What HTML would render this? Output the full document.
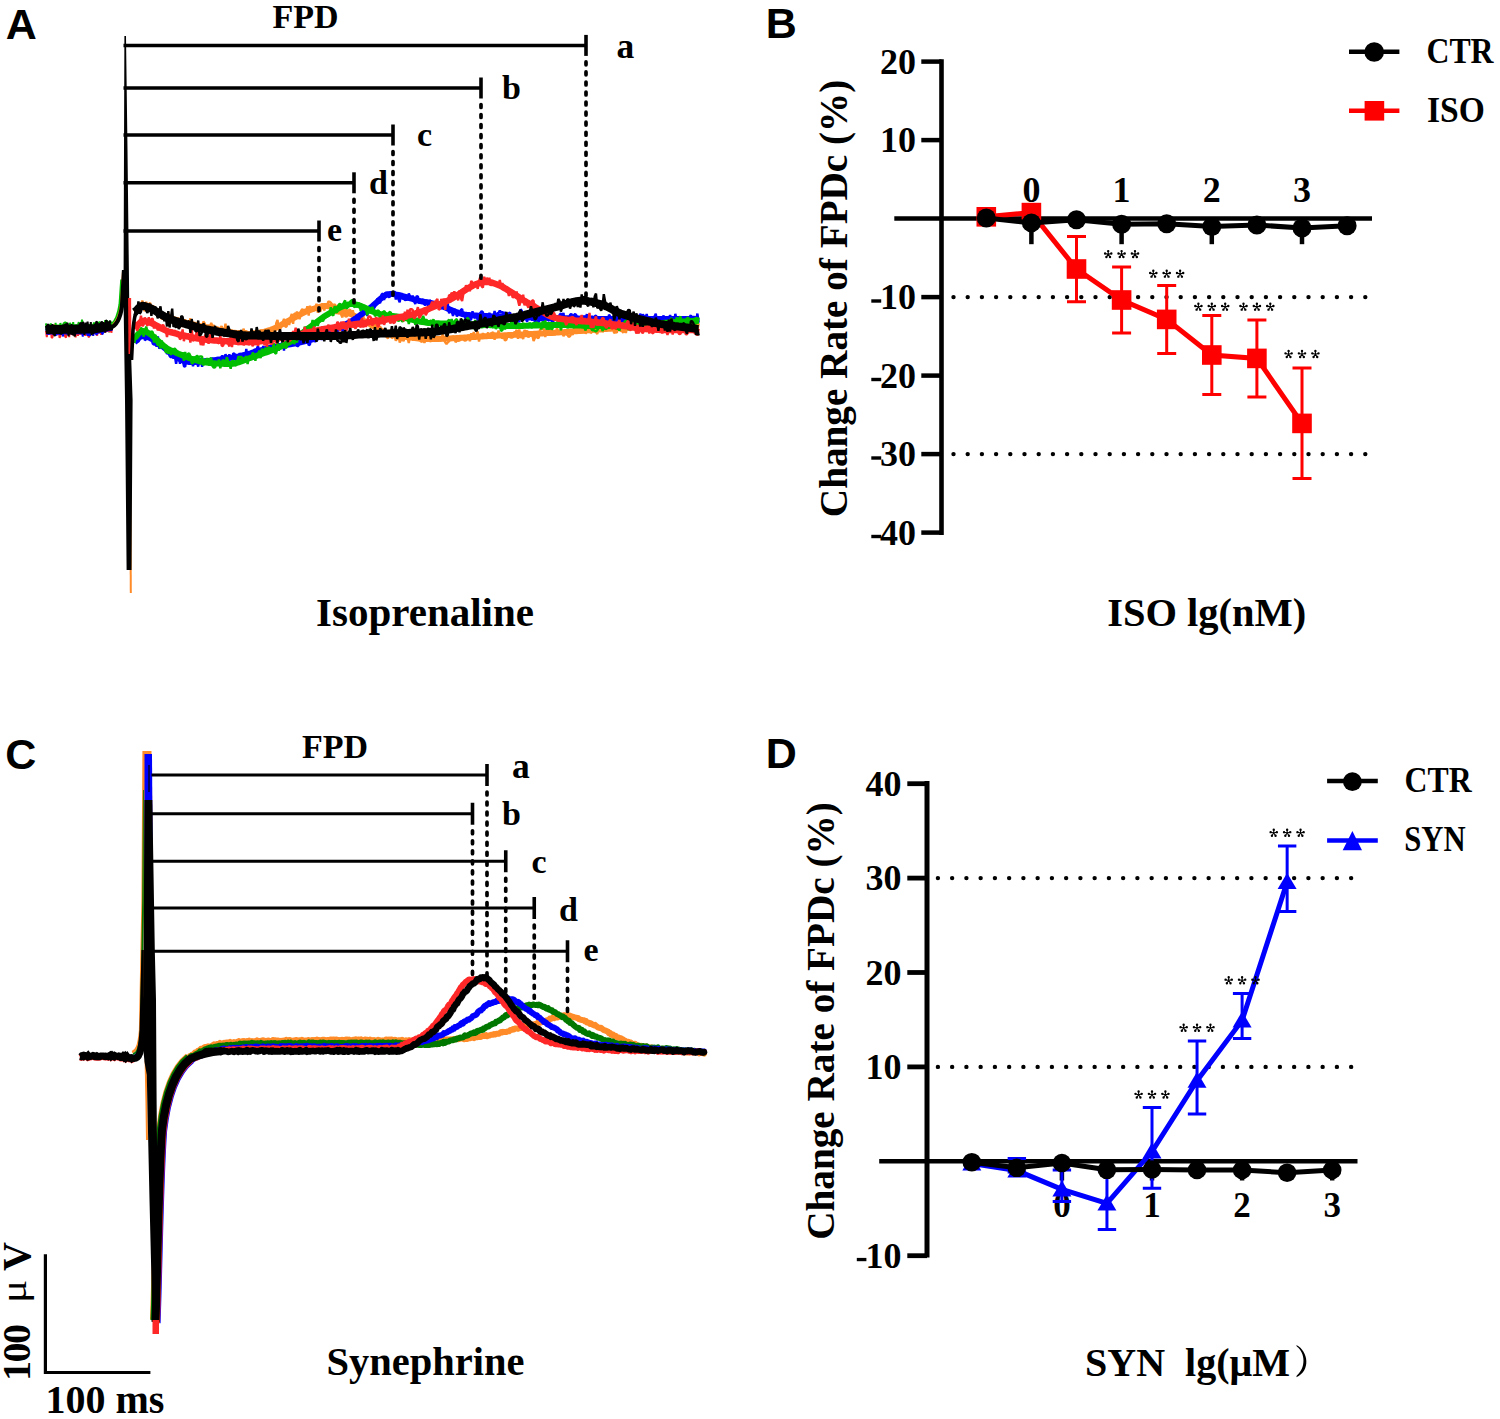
<!DOCTYPE html>
<html><head><meta charset="utf-8"><style>
html,body{margin:0;padding:0;background:#fff;width:1500px;height:1419px;overflow:hidden}
svg{position:absolute;left:0;top:0;display:block}
</style></head><body>
<svg width="1500" height="1419" viewBox="0 0 1500 1419">
<rect width="1500" height="1419" fill="#fff"/>
<text x="5.7" y="39.3" font-family="'Liberation Sans', sans-serif" font-size="43" font-weight="bold" text-anchor="start" >A</text>
<text x="305.5" y="27.5" font-family="'Liberation Serif', serif" font-size="34" font-weight="bold" text-anchor="middle" >FPD</text>
<path d="M134.5,312.0 L136.5,310.5 L138.5,308.2 L140.5,306.5 L142.5,306.0 L144.5,306.2 L146.5,306.6 L148.5,307.3 L150.5,308.1 L152.5,309.0 L154.5,310.0 L156.5,311.2 L158.5,312.3 L160.5,313.5 L162.5,314.6 L164.5,315.7 L166.5,316.6 L168.5,317.5 L170.5,318.2 L172.5,318.8 L174.5,319.4 L176.5,320.0 L178.5,320.6 L180.5,321.2 L182.5,321.7 L184.5,322.3 L186.5,322.8 L188.5,323.3 L190.5,323.8 L192.5,324.3 L194.5,324.7 L196.5,325.2 L198.5,325.7 L200.5,326.1 L202.5,326.5 L204.5,326.9 L206.5,327.3 L208.5,327.7 L210.5,328.1 L212.5,328.5 L214.5,328.9 L216.5,329.3 L218.5,329.7 L220.5,330.1 L222.5,330.5 L224.5,330.9 L226.5,331.3 L228.5,331.7 L230.5,332.0 L232.5,332.4 L234.5,332.7 L236.5,333.0 L238.5,333.2 L240.5,333.5 L242.5,333.7 L244.5,333.8 L246.5,333.9 L248.5,334.0 L250.5,334.0 L252.5,333.9 L254.5,333.7 L256.5,333.4 L258.5,333.0 L260.5,332.6 L262.5,332.1 L264.5,331.6 L266.5,331.0 L268.5,330.4 L270.5,329.9 L272.5,329.2 L274.5,328.3 L276.5,327.4 L278.5,326.4 L280.5,325.3 L282.5,324.1 L284.5,323.0 L286.5,321.9 L288.5,320.8 L290.5,319.7 L292.5,318.7 L294.5,317.6 L296.5,316.5 L298.5,315.4 L300.5,314.3 L302.5,313.2 L304.5,312.3 L306.5,311.3 L308.5,310.5 L310.5,309.8 L312.5,309.2 L314.5,308.5 L316.5,307.8 L318.5,307.2 L320.5,306.7 L322.5,306.3 L324.5,306.1 L326.5,306.0 L328.5,306.2 L330.5,306.5 L332.5,307.0 L334.5,307.6 L336.5,308.2 L338.5,309.0 L340.5,309.8 L342.5,310.6 L344.5,311.4 L346.5,312.2 L348.5,313.0 L350.5,313.9 L352.5,314.9 L354.5,315.9 L356.5,317.0 L358.5,318.0 L360.5,319.1 L362.5,320.2 L364.5,321.2 L366.5,322.3 L368.5,323.3 L370.5,324.4 L372.5,325.6 L374.5,326.8 L376.5,328.0 L378.5,329.2 L380.5,330.3 L382.5,331.3 L384.5,332.2 L386.5,333.0 L388.5,333.6 L390.5,334.1 L392.5,334.5 L394.5,334.9 L396.5,335.3 L398.5,335.7 L400.5,336.1 L402.5,336.4 L404.5,336.7 L406.5,337.0 L408.5,337.3 L410.5,337.6 L412.5,337.9 L414.5,338.1 L416.5,338.3 L418.5,338.5 L420.5,338.7 L422.5,338.8 L424.5,338.9 L426.5,339.0 L428.5,339.0 L430.5,339.0 L432.5,339.0 L434.5,339.0 L436.5,338.9 L438.5,338.9 L440.5,338.8 L442.5,338.8 L444.5,338.7 L446.5,338.6 L448.5,338.5 L450.5,338.4 L452.5,338.3 L454.5,338.2 L456.5,338.1 L458.5,338.0 L460.5,337.8 L462.5,337.7 L464.5,337.6 L466.5,337.5 L468.5,337.3 L470.5,337.2 L472.5,337.1 L474.5,336.9 L476.5,336.8 L478.5,336.7 L480.5,336.5 L482.5,336.4 L484.5,336.3 L486.5,336.2 L488.5,336.1 L490.5,336.0 L492.5,335.9 L494.5,335.8 L496.5,335.7 L498.5,335.6 L500.5,335.5 L502.5,335.4 L504.5,335.3 L506.5,335.2 L508.5,335.1 L510.5,335.0 L512.5,334.9 L514.5,334.8 L516.5,334.7 L518.5,334.6 L520.5,334.5 L522.5,334.4 L524.5,334.3 L526.5,334.2 L528.5,334.1 L530.5,334.0 L532.5,333.9 L534.5,333.8 L536.5,333.7 L538.5,333.6 L540.5,333.5 L542.5,333.4 L544.5,333.3 L546.5,333.1 L548.5,333.0 L550.5,332.9 L552.5,332.8 L554.5,332.7 L556.5,332.6 L558.5,332.4 L560.5,332.3 L562.5,332.2 L564.5,332.1 L566.5,331.9 L568.5,331.8 L570.5,331.6 L572.5,331.5 L574.5,331.3 L576.5,331.2 L578.5,331.0 L580.5,330.9 L582.5,330.7 L584.5,330.6 L586.5,330.4 L588.5,330.3 L590.5,330.1 L592.5,330.0 L594.5,329.8 L596.5,329.7 L598.5,329.5 L600.5,329.4 L602.5,329.2 L604.5,329.1 L606.5,328.9 L608.5,328.8 L610.5,328.7 L612.5,328.5 L614.5,328.4 L616.5,328.3 L618.5,328.2 L620.5,328.1 L622.5,328.0 L624.5,327.9 L626.5,327.8 L628.5,327.7 L630.5,327.6 L632.5,327.5 L634.5,327.4 L636.5,327.3 L638.5,327.2 L640.5,327.2 L642.5,327.1 L644.5,327.0 L646.5,326.9 L648.5,326.8 L650.5,326.8 L652.5,326.7 L654.5,326.6 L656.5,326.5 L658.5,326.5 L660.5,326.4 L662.5,326.3 L664.5,326.2 L666.5,326.2 L668.5,326.1 L670.5,326.0 L672.5,326.0 L674.5,325.9 L676.5,325.8 L678.5,325.8 L680.5,325.7 L682.5,325.6 L684.5,325.5 L686.5,325.5 L688.5,325.4 L690.5,325.3 L692.5,325.2 L694.5,325.2 L696.5,325.1 L698.5,325.0" fill="none" stroke="#FF8C28" stroke-width="6.0" stroke-linejoin="round"/>
<path d="M134.5,308.0 L135.8,314.1 L137.1,309.8 L138.4,310.0 L139.7,304.6 L141.0,305.5 L142.3,300.5 L143.6,308.5 L144.9,311.2 L146.2,301.6 L147.5,311.8 L148.8,304.3 L150.1,302.7 L151.4,307.8 L152.7,306.2 L154.0,306.7 L155.3,310.2 L156.6,311.8 L157.9,308.5 L159.2,315.7 L160.5,315.9 L161.8,319.0 L163.1,318.5 L164.4,313.4 L165.7,320.5 L167.0,316.9 L168.3,312.3 L169.6,321.1 L170.9,314.7 L172.2,320.9 L173.5,317.7 L174.8,319.6 L176.1,320.1 L177.4,317.4 L178.7,322.9 L180.0,322.0 L181.3,317.8 L182.6,327.0 L183.9,322.5 L185.2,319.5 L186.5,327.8 L187.8,322.7 L189.1,324.0 L190.4,318.3 L191.7,327.6 L193.0,327.0 L194.3,324.9 L195.6,326.4 L196.9,326.1 L198.2,325.6 L199.5,324.3 L200.8,326.6 L202.1,327.7 L203.4,321.5 L204.7,323.4 L206.0,331.2 L207.3,330.8 L208.6,325.0 L209.9,327.0 L211.2,322.9 L212.5,326.5 L213.8,325.0 L215.1,329.3 L216.4,326.8 L217.7,329.0 L219.0,328.8 L220.3,329.2 L221.6,326.0 L222.9,330.7 L224.2,332.0 L225.5,323.7 L226.8,333.8 L228.1,333.8 L229.4,332.3 L230.7,337.3 L232.0,332.5 L233.3,334.1 L234.6,333.5 L235.9,333.1 L237.2,338.2 L238.5,331.1 L239.8,331.3 L241.1,336.2 L242.4,333.2 L243.7,328.7 L245.0,338.9 L246.3,330.3 L247.6,339.2 L248.9,334.1 L250.2,332.3 L251.5,335.9 L252.8,331.5 L254.1,331.5 L255.4,331.7 L256.7,336.0 L258.0,331.2 L259.3,336.0 L260.6,329.4 L261.9,336.0 L263.2,330.2 L264.5,333.6 L265.8,336.5 L267.1,331.3 L268.4,335.0 L269.7,332.9 L271.0,333.4 L272.3,327.5 L273.6,332.8 L274.9,333.1 L276.2,323.5 L277.5,320.0 L278.8,330.2 L280.1,329.1 L281.4,326.0 L282.7,322.7 L284.0,318.8 L285.3,326.8 L286.6,326.5 L287.9,318.6 L289.2,325.0 L290.5,317.6 L291.8,314.0 L293.1,323.8 L294.4,313.4 L295.7,314.1 L297.0,311.9 L298.3,314.2 L299.6,319.3 L300.9,311.4 L302.2,309.0 L303.5,310.6 L304.8,309.9 L306.1,311.0 L307.4,306.2 L308.7,315.6 L310.0,305.7 L311.3,310.9 L312.6,309.6 L313.9,310.4 L315.2,308.7 L316.5,303.7 L317.8,312.7 L319.1,308.7 L320.4,311.6 L321.7,304.3 L323.0,304.2 L324.3,310.4 L325.6,304.2 L326.9,306.9 L328.2,301.8 L329.5,301.6 L330.8,302.6 L332.1,304.5 L333.4,307.1 L334.7,303.8 L336.0,314.0 L337.3,304.9 L338.6,314.4 L339.9,307.7 L341.2,314.7 L342.5,317.4 L343.8,306.0 L345.1,316.1 L346.4,316.6 L347.7,315.4 L349.0,309.7 L350.3,310.1 L351.6,316.3 L352.9,310.3 L354.2,319.1 L355.5,316.9 L356.8,316.6 L358.1,316.0 L359.4,313.3 L360.7,318.3 L362.0,315.1 L363.3,315.2 L364.6,324.9 L365.9,320.9 L367.2,319.9 L368.5,323.3 L369.8,323.4 L371.1,327.3 L372.4,325.5 L373.7,323.3 L375.0,327.8 L376.3,332.5 L377.6,327.7 L378.9,329.5 L380.2,326.3 L381.5,335.0 L382.8,333.5 L384.1,330.6 L385.4,335.2 L386.7,337.0 L388.0,338.5 L389.3,330.3 L390.6,331.0 L391.9,338.3 L393.2,337.0 L394.5,335.1 L395.8,340.6 L397.1,338.8 L398.4,333.1 L399.7,342.6 L401.0,339.9 L402.3,338.6 L403.6,341.3 L404.9,335.5 L406.2,336.3 L407.5,337.7 L408.8,343.0 L410.1,335.3 L411.4,335.0 L412.7,332.4 L414.0,338.1 L415.3,339.4 L416.6,335.1 L417.9,338.9 L419.2,339.5 L420.5,340.7 L421.8,342.1 L423.1,339.3 L424.4,342.8 L425.7,339.7 L427.0,338.4 L428.3,334.8 L429.6,339.5 L430.9,341.9 L432.2,335.0 L433.5,339.8 L434.8,339.0 L436.1,338.9 L437.4,338.4 L438.7,337.8 L440.0,340.9 L441.3,340.4 L442.6,334.2 L443.9,339.8 L445.2,342.3 L446.5,344.0 L447.8,342.2 L449.1,341.2 L450.4,336.3 L451.7,339.7 L453.0,336.1 L454.3,337.4 L455.6,342.1 L456.9,340.6 L458.2,340.7 L459.5,340.6 L460.8,339.5 L462.1,336.7 L463.4,339.1 L464.7,340.7 L466.0,340.4 L467.3,338.6 L468.6,334.7 L469.9,341.3 L471.2,333.3 L472.5,336.9 L473.8,332.0 L475.1,339.6 L476.4,335.2 L477.7,331.4 L479.0,341.5 L480.3,335.5 L481.6,337.6 L482.9,333.2 L484.2,335.8 L485.5,336.5 L486.8,336.3 L488.1,332.5 L489.4,338.4 L490.7,333.4 L492.0,333.0 L493.3,332.2 L494.6,339.8 L495.9,332.6 L497.2,337.9 L498.5,330.4 L499.8,336.9 L501.1,334.7 L502.4,338.5 L503.7,336.7 L505.0,340.5 L506.3,339.7 L507.6,336.3 L508.9,333.2 L510.2,337.4 L511.5,337.7 L512.8,337.3 L514.1,332.1 L515.4,332.8 L516.7,329.8 L518.0,338.9 L519.3,329.4 L520.6,338.0 L521.9,335.7 L523.2,339.2 L524.5,329.8 L525.8,334.2 L527.1,330.5 L528.4,337.6 L529.7,334.9 L531.0,336.3 L532.3,334.9 L533.6,341.1 L534.9,337.7 L536.2,332.4 L537.5,338.2 L538.8,337.7 L540.1,329.7 L541.4,329.1 L542.7,328.5 L544.0,329.2 L545.3,337.0 L546.6,330.1 L547.9,328.0 L549.2,326.0 L550.5,334.4 L551.8,334.9 L553.1,334.6 L554.4,334.1 L555.7,334.2 L557.0,327.7 L558.3,333.5 L559.6,333.5 L560.9,331.7 L562.2,331.3 L563.5,336.3 L564.8,333.8 L566.1,334.6 L567.4,334.6 L568.7,337.0 L570.0,336.3 L571.3,333.0 L572.6,334.9 L573.9,330.0 L575.2,326.2 L576.5,329.9 L577.8,333.4 L579.1,325.8 L580.4,326.4 L581.7,325.5 L583.0,333.2 L584.3,326.5 L585.6,333.9 L586.9,328.2 L588.2,327.5 L589.5,328.3 L590.8,333.2 L592.1,331.8 L593.4,329.3 L594.7,332.2 L596.0,331.9 L597.3,334.0 L598.6,327.2 L599.9,328.0 L601.2,324.9 L602.5,331.9 L603.8,330.8 L605.1,326.8 L606.4,327.0 L607.7,328.9 L609.0,324.9 L610.3,326.8 L611.6,323.9 L612.9,328.3 L614.2,333.1 L615.5,331.8 L616.8,332.9 L618.1,324.2 L619.4,329.0 L620.7,331.2 L622.0,330.7 L623.3,332.8 L624.6,326.8 L625.9,333.1 L627.2,325.2 L628.5,328.4 L629.8,324.2 L631.1,327.7 L632.4,328.0 L633.7,323.1 L635.0,328.8 L636.3,324.8 L637.6,328.9 L638.9,330.4 L640.2,331.0 L641.5,324.7 L642.8,328.1 L644.1,331.3 L645.4,328.9 L646.7,331.8 L648.0,329.3 L649.3,332.3 L650.6,323.5 L651.9,329.7 L653.2,326.5 L654.5,330.8 L655.8,329.6 L657.1,326.1 L658.4,324.3 L659.7,319.8 L661.0,330.6 L662.3,331.5 L663.6,327.1 L664.9,326.5 L666.2,329.7 L667.5,325.1 L668.8,324.0 L670.1,326.1 L671.4,326.6 L672.7,322.3 L674.0,331.4 L675.3,326.6 L676.6,324.7 L677.9,330.1 L679.2,330.1 L680.5,329.5 L681.8,325.2 L683.1,324.2 L684.4,325.3 L685.7,324.1 L687.0,322.5 L688.3,322.8 L689.6,326.3 L690.9,330.8 L692.2,325.4 L693.5,327.3 L694.8,328.2 L696.1,327.5 L697.4,330.2 L698.7,323.3" fill="none" stroke="#FF8C28" stroke-width="2.4" stroke-linejoin="bevel"/>
<path d="M134.5,342.0 L136.5,340.5 L138.5,338.2 L140.5,336.5 L142.5,336.0 L144.5,336.2 L146.5,336.6 L148.5,337.3 L150.5,338.2 L152.5,339.2 L154.5,340.4 L156.5,341.7 L158.5,343.1 L160.5,344.6 L162.5,346.2 L164.5,347.8 L166.5,349.4 L168.5,351.0 L170.5,352.6 L172.5,354.2 L174.5,355.6 L176.5,357.0 L178.5,358.2 L180.5,359.3 L182.5,360.3 L184.5,361.1 L186.5,361.6 L188.5,361.9 L190.5,362.0 L192.5,362.0 L194.5,361.9 L196.5,361.8 L198.5,361.7 L200.5,361.6 L202.5,361.5 L204.5,361.3 L206.5,361.1 L208.5,360.9 L210.5,360.7 L212.5,360.4 L214.5,360.2 L216.5,359.9 L218.5,359.6 L220.5,359.4 L222.5,359.1 L224.5,358.8 L226.5,358.5 L228.5,358.2 L230.5,357.9 L232.5,357.6 L234.5,357.2 L236.5,356.8 L238.5,356.4 L240.5,355.9 L242.5,355.4 L244.5,354.9 L246.5,354.4 L248.5,353.8 L250.5,353.3 L252.5,352.7 L254.5,352.1 L256.5,351.5 L258.5,351.0 L260.5,350.4 L262.5,349.9 L264.5,349.3 L266.5,348.8 L268.5,348.3 L270.5,347.9 L272.5,347.5 L274.5,347.1 L276.5,346.7 L278.5,346.3 L280.5,345.9 L282.5,345.6 L284.5,345.2 L286.5,344.9 L288.5,344.5 L290.5,344.2 L292.5,343.8 L294.5,343.5 L296.5,343.1 L298.5,342.7 L300.5,342.3 L302.5,341.9 L304.5,341.4 L306.5,340.9 L308.5,340.4 L310.5,339.9 L312.5,339.3 L314.5,338.6 L316.5,338.0 L318.5,337.2 L320.5,336.5 L322.5,335.7 L324.5,334.9 L326.5,334.0 L328.5,333.1 L330.5,332.2 L332.5,331.2 L334.5,330.3 L336.5,329.3 L338.5,328.2 L340.5,327.2 L342.5,326.1 L344.5,325.0 L346.5,323.9 L348.5,322.8 L350.5,321.7 L352.5,320.5 L354.5,319.2 L356.5,317.9 L358.5,316.4 L360.5,315.0 L362.5,313.5 L364.5,312.0 L366.5,310.5 L368.5,309.1 L370.5,307.6 L372.5,306.1 L374.5,304.3 L376.5,302.5 L378.5,300.6 L380.5,298.8 L382.5,297.2 L384.5,295.8 L386.5,294.8 L388.5,294.2 L390.5,294.0 L392.5,294.1 L394.5,294.3 L396.5,294.6 L398.5,295.0 L400.5,295.5 L402.5,296.0 L404.5,296.6 L406.5,297.2 L408.5,297.8 L410.5,298.4 L412.5,299.0 L414.5,299.6 L416.5,300.2 L418.5,300.7 L420.5,301.1 L422.5,301.5 L424.5,301.9 L426.5,302.3 L428.5,302.6 L430.5,303.0 L432.5,303.4 L434.5,303.9 L436.5,304.4 L438.5,305.0 L440.5,305.7 L442.5,306.4 L444.5,307.2 L446.5,308.0 L448.5,308.9 L450.5,309.7 L452.5,310.6 L454.5,311.4 L456.5,312.2 L458.5,312.9 L460.5,313.5 L462.5,314.1 L464.5,314.5 L466.5,314.8 L468.5,315.0 L470.5,315.2 L472.5,315.3 L474.5,315.5 L476.5,315.6 L478.5,315.7 L480.5,315.8 L482.5,316.0 L484.5,316.1 L486.5,316.1 L488.5,316.2 L490.5,316.3 L492.5,316.4 L494.5,316.5 L496.5,316.5 L498.5,316.6 L500.5,316.7 L502.5,316.7 L504.5,316.8 L506.5,316.8 L508.5,316.9 L510.5,317.0 L512.5,317.0 L514.5,317.1 L516.5,317.1 L518.5,317.2 L520.5,317.2 L522.5,317.3 L524.5,317.3 L526.5,317.4 L528.5,317.4 L530.5,317.5 L532.5,317.5 L534.5,317.6 L536.5,317.6 L538.5,317.6 L540.5,317.7 L542.5,317.7 L544.5,317.8 L546.5,317.8 L548.5,317.8 L550.5,317.9 L552.5,317.9 L554.5,318.0 L556.5,318.0 L558.5,318.1 L560.5,318.1 L562.5,318.2 L564.5,318.2 L566.5,318.3 L568.5,318.3 L570.5,318.4 L572.5,318.5 L574.5,318.5 L576.5,318.6 L578.5,318.6 L580.5,318.7 L582.5,318.7 L584.5,318.8 L586.5,318.8 L588.5,318.9 L590.5,318.9 L592.5,318.9 L594.5,319.0 L596.5,319.0 L598.5,319.0 L600.5,319.0 L602.5,319.0 L604.5,319.0 L606.5,319.0 L608.5,319.0 L610.5,319.0 L612.5,319.0 L614.5,319.0 L616.5,319.0 L618.5,319.0 L620.5,319.0 L622.5,319.0 L624.5,319.0 L626.5,319.0 L628.5,319.0 L630.5,319.0 L632.5,319.0 L634.5,319.0 L636.5,319.0 L638.5,319.0 L640.5,319.0 L642.5,319.0 L644.5,319.0 L646.5,319.0 L648.5,319.0 L650.5,319.0 L652.5,319.0 L654.5,319.0 L656.5,319.0 L658.5,319.0 L660.5,319.0 L662.5,319.0 L664.5,319.0 L666.5,319.0 L668.5,319.0 L670.5,319.0 L672.5,319.0 L674.5,319.0 L676.5,319.0 L678.5,319.0 L680.5,319.0 L682.5,319.0 L684.5,319.0 L686.5,319.0 L688.5,319.0 L690.5,319.0 L692.5,319.0 L694.5,319.0 L696.5,319.0 L698.5,319.0" fill="none" stroke="#0000FF" stroke-width="6.0" stroke-linejoin="round"/>
<path d="M134.5,339.1 L135.8,339.8 L137.1,338.3 L138.4,342.1 L139.7,334.2 L141.0,335.9 L142.3,335.7 L143.6,332.2 L144.9,340.3 L146.2,339.2 L147.5,332.2 L148.8,338.4 L150.1,332.8 L151.4,338.3 L152.7,343.5 L154.0,344.7 L155.3,344.2 L156.6,346.5 L157.9,336.5 L159.2,348.7 L160.5,346.0 L161.8,345.7 L163.1,345.0 L164.4,348.6 L165.7,350.8 L167.0,353.7 L168.3,352.7 L169.6,355.9 L170.9,357.4 L172.2,356.3 L173.5,358.5 L174.8,355.6 L176.1,363.9 L177.4,356.6 L178.7,356.1 L180.0,363.9 L181.3,354.7 L182.6,358.5 L183.9,366.1 L185.2,366.8 L186.5,357.0 L187.8,356.7 L189.1,361.0 L190.4,360.4 L191.7,359.9 L193.0,366.3 L194.3,361.5 L195.6,363.5 L196.9,362.5 L198.2,366.6 L199.5,360.9 L200.8,358.7 L202.1,366.7 L203.4,361.4 L204.7,362.8 L206.0,363.4 L207.3,360.6 L208.6,359.2 L209.9,360.7 L211.2,362.5 L212.5,357.7 L213.8,361.3 L215.1,358.6 L216.4,358.5 L217.7,357.5 L219.0,363.0 L220.3,362.0 L221.6,356.2 L222.9,356.1 L224.2,358.1 L225.5,354.3 L226.8,356.6 L228.1,357.6 L229.4,354.4 L230.7,359.5 L232.0,357.2 L233.3,353.3 L234.6,353.8 L235.9,360.7 L237.2,354.3 L238.5,358.0 L239.8,353.1 L241.1,359.0 L242.4,353.8 L243.7,354.2 L245.0,359.4 L246.3,349.0 L247.6,358.3 L248.9,353.0 L250.2,358.0 L251.5,355.7 L252.8,354.4 L254.1,349.9 L255.4,349.4 L256.7,349.1 L258.0,346.1 L259.3,352.9 L260.6,354.7 L261.9,352.3 L263.2,346.1 L264.5,351.1 L265.8,348.1 L267.1,349.9 L268.4,345.6 L269.7,347.8 L271.0,346.2 L272.3,347.9 L273.6,343.6 L274.9,351.6 L276.2,351.1 L277.5,349.1 L278.8,343.7 L280.1,345.2 L281.4,346.1 L282.7,338.8 L284.0,350.5 L285.3,340.5 L286.6,342.8 L287.9,343.0 L289.2,345.4 L290.5,340.8 L291.8,339.8 L293.1,346.1 L294.4,338.9 L295.7,341.8 L297.0,346.1 L298.3,346.0 L299.6,341.7 L300.9,342.2 L302.2,341.0 L303.5,341.2 L304.8,341.7 L306.1,336.3 L307.4,339.9 L308.7,345.2 L310.0,344.4 L311.3,337.0 L312.6,335.1 L313.9,340.6 L315.2,341.6 L316.5,340.5 L317.8,333.1 L319.1,333.2 L320.4,329.1 L321.7,340.2 L323.0,330.3 L324.3,330.8 L325.6,336.3 L326.9,338.8 L328.2,338.1 L329.5,332.8 L330.8,327.7 L332.1,335.2 L333.4,331.5 L334.7,327.3 L336.0,326.8 L337.3,331.6 L338.6,326.7 L339.9,325.9 L341.2,322.2 L342.5,331.3 L343.8,328.1 L345.1,326.8 L346.4,325.9 L347.7,323.1 L349.0,324.5 L350.3,324.6 L351.6,321.3 L352.9,322.7 L354.2,316.9 L355.5,319.5 L356.8,314.7 L358.1,321.7 L359.4,318.0 L360.7,318.7 L362.0,311.3 L363.3,307.7 L364.6,310.6 L365.9,309.4 L367.2,316.0 L368.5,308.8 L369.8,307.8 L371.1,310.7 L372.4,305.9 L373.7,308.9 L375.0,306.4 L376.3,302.3 L377.6,298.5 L378.9,302.2 L380.2,303.0 L381.5,294.6 L382.8,293.5 L384.1,300.0 L385.4,292.6 L386.7,292.6 L388.0,294.3 L389.3,297.7 L390.6,292.4 L391.9,295.0 L393.2,293.5 L394.5,291.1 L395.8,299.5 L397.1,293.9 L398.4,299.1 L399.7,302.4 L401.0,294.2 L402.3,298.8 L403.6,298.2 L404.9,300.0 L406.2,299.9 L407.5,299.4 L408.8,293.6 L410.1,296.6 L411.4,300.6 L412.7,295.6 L414.0,300.9 L415.3,304.1 L416.6,296.0 L417.9,296.6 L419.2,303.2 L420.5,301.7 L421.8,300.9 L423.1,299.4 L424.4,304.7 L425.7,304.7 L427.0,299.8 L428.3,306.7 L429.6,300.1 L430.9,301.5 L432.2,302.3 L433.5,306.6 L434.8,306.4 L436.1,301.6 L437.4,307.2 L438.7,301.6 L440.0,308.2 L441.3,308.7 L442.6,302.6 L443.9,303.6 L445.2,308.3 L446.5,305.3 L447.8,303.4 L449.1,313.4 L450.4,308.4 L451.7,311.2 L453.0,316.0 L454.3,309.1 L455.6,311.6 L456.9,316.4 L458.2,314.5 L459.5,313.5 L460.8,310.2 L462.1,308.9 L463.4,315.9 L464.7,315.3 L466.0,320.8 L467.3,315.4 L468.6,312.4 L469.9,319.9 L471.2,319.3 L472.5,311.3 L473.8,316.6 L475.1,317.9 L476.4,313.9 L477.7,320.4 L479.0,315.1 L480.3,312.9 L481.6,311.3 L482.9,312.2 L484.2,318.2 L485.5,315.2 L486.8,314.0 L488.1,319.0 L489.4,312.8 L490.7,318.7 L492.0,314.9 L493.3,317.5 L494.6,311.0 L495.9,319.4 L497.2,313.2 L498.5,313.0 L499.8,310.6 L501.1,313.0 L502.4,311.6 L503.7,315.7 L505.0,311.9 L506.3,318.5 L507.6,313.6 L508.9,313.2 L510.2,312.6 L511.5,319.5 L512.8,320.2 L514.1,321.8 L515.4,314.3 L516.7,320.6 L518.0,316.6 L519.3,322.4 L520.6,309.3 L521.9,311.0 L523.2,319.0 L524.5,314.0 L525.8,317.1 L527.1,322.0 L528.4,312.3 L529.7,318.6 L531.0,312.9 L532.3,320.7 L533.6,315.7 L534.9,322.3 L536.2,320.2 L537.5,321.3 L538.8,322.3 L540.1,316.7 L541.4,320.8 L542.7,315.2 L544.0,320.2 L545.3,320.1 L546.6,317.7 L547.9,319.9 L549.2,320.7 L550.5,313.4 L551.8,321.7 L553.1,322.1 L554.4,317.4 L555.7,320.6 L557.0,316.0 L558.3,323.5 L559.6,314.7 L560.9,313.2 L562.2,319.7 L563.5,312.8 L564.8,323.4 L566.1,319.0 L567.4,321.4 L568.7,321.5 L570.0,315.0 L571.3,313.8 L572.6,317.0 L573.9,315.2 L575.2,314.0 L576.5,315.5 L577.8,319.9 L579.1,321.5 L580.4,317.0 L581.7,320.1 L583.0,319.8 L584.3,315.6 L585.6,318.4 L586.9,314.2 L588.2,319.0 L589.5,321.5 L590.8,320.6 L592.1,315.8 L593.4,324.4 L594.7,316.5 L596.0,315.3 L597.3,321.5 L598.6,324.4 L599.9,323.7 L601.2,318.1 L602.5,323.4 L603.8,318.8 L605.1,318.0 L606.4,323.6 L607.7,323.8 L609.0,314.6 L610.3,316.7 L611.6,322.0 L612.9,316.5 L614.2,317.3 L615.5,321.7 L616.8,314.6 L618.1,315.9 L619.4,321.9 L620.7,324.2 L622.0,323.1 L623.3,315.3 L624.6,318.6 L625.9,319.5 L627.2,322.9 L628.5,318.6 L629.8,322.4 L631.1,316.2 L632.4,313.8 L633.7,319.4 L635.0,314.1 L636.3,322.0 L637.6,324.3 L638.9,322.4 L640.2,313.6 L641.5,317.5 L642.8,314.5 L644.1,316.2 L645.4,318.1 L646.7,314.0 L648.0,320.4 L649.3,323.5 L650.6,317.8 L651.9,322.2 L653.2,322.6 L654.5,316.6 L655.8,313.7 L657.1,323.4 L658.4,318.6 L659.7,323.7 L661.0,320.1 L662.3,319.2 L663.6,315.5 L664.9,324.4 L666.2,318.0 L667.5,318.5 L668.8,318.5 L670.1,315.2 L671.4,319.2 L672.7,322.9 L674.0,323.7 L675.3,313.8 L676.6,319.5 L677.9,316.6 L679.2,324.5 L680.5,317.6 L681.8,323.4 L683.1,320.6 L684.4,323.6 L685.7,317.7 L687.0,317.0 L688.3,323.9 L689.6,317.0 L690.9,315.1 L692.2,322.7 L693.5,315.9 L694.8,321.7 L696.1,320.4 L697.4,313.6 L698.7,322.7" fill="none" stroke="#0000FF" stroke-width="2.4" stroke-linejoin="bevel"/>
<path d="M134.5,338.0 L136.5,336.2 L138.5,333.6 L140.5,331.6 L142.5,331.0 L144.5,331.3 L146.5,332.0 L148.5,333.1 L150.5,334.4 L152.5,335.9 L154.5,337.6 L156.5,339.4 L158.5,341.2 L160.5,343.1 L162.5,344.8 L164.5,346.5 L166.5,348.0 L168.5,349.2 L170.5,350.2 L172.5,351.1 L174.5,352.0 L176.5,352.9 L178.5,353.8 L180.5,354.6 L182.5,355.5 L184.5,356.3 L186.5,357.0 L188.5,357.8 L190.5,358.5 L192.5,359.2 L194.5,359.8 L196.5,360.4 L198.5,361.0 L200.5,361.5 L202.5,361.9 L204.5,362.3 L206.5,362.6 L208.5,362.9 L210.5,363.0 L212.5,363.2 L214.5,363.3 L216.5,363.5 L218.5,363.6 L220.5,363.7 L222.5,363.8 L224.5,363.9 L226.5,364.0 L228.5,364.0 L230.5,364.0 L232.5,363.8 L234.5,363.5 L236.5,363.0 L238.5,362.4 L240.5,361.7 L242.5,360.9 L244.5,360.1 L246.5,359.3 L248.5,358.5 L250.5,357.8 L252.5,357.2 L254.5,356.5 L256.5,355.8 L258.5,355.1 L260.5,354.4 L262.5,353.7 L264.5,353.0 L266.5,352.3 L268.5,351.6 L270.5,350.8 L272.5,350.0 L274.5,349.2 L276.5,348.4 L278.5,347.6 L280.5,346.7 L282.5,345.8 L284.5,344.8 L286.5,343.8 L288.5,342.8 L290.5,341.7 L292.5,340.5 L294.5,339.2 L296.5,337.7 L298.5,336.2 L300.5,334.6 L302.5,332.9 L304.5,331.3 L306.5,329.7 L308.5,328.1 L310.5,326.6 L312.5,325.2 L314.5,323.6 L316.5,322.1 L318.5,320.6 L320.5,319.1 L322.5,317.7 L324.5,316.3 L326.5,315.0 L328.5,313.8 L330.5,312.7 L332.5,311.7 L334.5,310.5 L336.5,309.4 L338.5,308.3 L340.5,307.3 L342.5,306.4 L344.5,305.6 L346.5,304.9 L348.5,304.4 L350.5,304.1 L352.5,304.0 L354.5,304.2 L356.5,304.6 L358.5,305.1 L360.5,305.8 L362.5,306.7 L364.5,307.6 L366.5,308.5 L368.5,309.5 L370.5,310.5 L372.5,311.4 L374.5,312.3 L376.5,313.0 L378.5,313.6 L380.5,314.1 L382.5,314.5 L384.5,314.8 L386.5,315.1 L388.5,315.4 L390.5,315.7 L392.5,315.9 L394.5,316.2 L396.5,316.5 L398.5,316.8 L400.5,317.1 L402.5,317.5 L404.5,317.9 L406.5,318.3 L408.5,318.8 L410.5,319.3 L412.5,319.8 L414.5,320.3 L416.5,320.8 L418.5,321.3 L420.5,321.7 L422.5,322.1 L424.5,322.4 L426.5,322.7 L428.5,322.9 L430.5,323.0 L432.5,323.1 L434.5,323.2 L436.5,323.3 L438.5,323.3 L440.5,323.4 L442.5,323.4 L444.5,323.5 L446.5,323.5 L448.5,323.6 L450.5,323.6 L452.5,323.6 L454.5,323.7 L456.5,323.7 L458.5,323.8 L460.5,323.8 L462.5,323.8 L464.5,323.9 L466.5,324.0 L468.5,324.0 L470.5,324.1 L472.5,324.2 L474.5,324.3 L476.5,324.4 L478.5,324.5 L480.5,324.6 L482.5,324.7 L484.5,324.8 L486.5,325.0 L488.5,325.1 L490.5,325.2 L492.5,325.3 L494.5,325.4 L496.5,325.5 L498.5,325.6 L500.5,325.7 L502.5,325.8 L504.5,325.9 L506.5,325.9 L508.5,326.0 L510.5,326.0 L512.5,326.0 L514.5,326.0 L516.5,326.0 L518.5,325.9 L520.5,325.9 L522.5,325.9 L524.5,325.8 L526.5,325.7 L528.5,325.7 L530.5,325.6 L532.5,325.6 L534.5,325.5 L536.5,325.4 L538.5,325.3 L540.5,325.3 L542.5,325.2 L544.5,325.2 L546.5,325.1 L548.5,325.1 L550.5,325.0 L552.5,325.0 L554.5,325.0 L556.5,325.0 L558.5,325.0 L560.5,325.0 L562.5,325.1 L564.5,325.1 L566.5,325.1 L568.5,325.2 L570.5,325.3 L572.5,325.3 L574.5,325.4 L576.5,325.4 L578.5,325.5 L580.5,325.6 L582.5,325.7 L584.5,325.7 L586.5,325.8 L588.5,325.8 L590.5,325.9 L592.5,325.9 L594.5,326.0 L596.5,326.0 L598.5,326.0 L600.5,326.0 L602.5,326.0 L604.5,326.0 L606.5,325.9 L608.5,325.9 L610.5,325.8 L612.5,325.7 L614.5,325.7 L616.5,325.6 L618.5,325.5 L620.5,325.4 L622.5,325.3 L624.5,325.1 L626.5,325.0 L628.5,324.9 L630.5,324.8 L632.5,324.7 L634.5,324.5 L636.5,324.4 L638.5,324.3 L640.5,324.2 L642.5,324.1 L644.5,324.0 L646.5,323.9 L648.5,323.8 L650.5,323.6 L652.5,323.5 L654.5,323.4 L656.5,323.3 L658.5,323.2 L660.5,323.0 L662.5,322.9 L664.5,322.8 L666.5,322.7 L668.5,322.5 L670.5,322.4 L672.5,322.3 L674.5,322.1 L676.5,322.0 L678.5,321.9 L680.5,321.7 L682.5,321.6 L684.5,321.5 L686.5,321.3 L688.5,321.2 L690.5,321.1 L692.5,320.9 L694.5,320.8 L696.5,320.7 L698.5,320.5" fill="none" stroke="#00BE00" stroke-width="6.0" stroke-linejoin="round"/>
<path d="M134.5,343.0 L135.8,334.3 L137.1,338.1 L138.4,331.6 L139.7,333.4 L141.0,327.5 L142.3,329.8 L143.6,336.6 L144.9,331.9 L146.2,326.5 L147.5,332.1 L148.8,331.9 L150.1,334.4 L151.4,331.1 L152.7,332.1 L154.0,342.6 L155.3,334.8 L156.6,342.7 L157.9,345.1 L159.2,345.1 L160.5,348.4 L161.8,340.5 L163.1,347.7 L164.4,346.7 L165.7,352.1 L167.0,352.0 L168.3,353.3 L169.6,349.4 L170.9,355.0 L172.2,350.8 L173.5,349.6 L174.8,348.5 L176.1,350.2 L177.4,351.2 L178.7,356.1 L180.0,354.6 L181.3,355.9 L182.6,352.3 L183.9,360.8 L185.2,351.9 L186.5,359.5 L187.8,354.1 L189.1,353.2 L190.4,356.0 L191.7,363.2 L193.0,363.3 L194.3,356.6 L195.6,359.3 L196.9,355.4 L198.2,357.3 L199.5,356.6 L200.8,356.3 L202.1,356.6 L203.4,365.5 L204.7,358.9 L206.0,364.2 L207.3,357.9 L208.6,364.1 L209.9,358.7 L211.2,357.9 L212.5,366.1 L213.8,367.7 L215.1,367.4 L216.4,363.2 L217.7,365.3 L219.0,359.3 L220.3,368.3 L221.6,362.6 L222.9,359.9 L224.2,361.2 L225.5,363.4 L226.8,357.2 L228.1,361.1 L229.4,364.1 L230.7,368.8 L232.0,360.9 L233.3,361.0 L234.6,364.8 L235.9,365.5 L237.2,361.9 L238.5,356.4 L239.8,357.6 L241.1,356.7 L242.4,358.0 L243.7,360.6 L245.0,357.8 L246.3,356.2 L247.6,364.0 L248.9,357.7 L250.2,358.3 L251.5,357.8 L252.8,352.6 L254.1,355.1 L255.4,360.8 L256.7,353.4 L258.0,355.0 L259.3,350.5 L260.6,358.2 L261.9,348.6 L263.2,352.5 L264.5,349.8 L265.8,347.9 L267.1,350.7 L268.4,347.0 L269.7,347.7 L271.0,349.4 L272.3,352.9 L273.6,342.9 L274.9,352.9 L276.2,353.6 L277.5,342.8 L278.8,350.5 L280.1,346.8 L281.4,345.8 L282.7,343.1 L284.0,344.8 L285.3,347.8 L286.6,347.5 L287.9,340.2 L289.2,339.8 L290.5,343.7 L291.8,341.9 L293.1,335.7 L294.4,344.2 L295.7,335.9 L297.0,342.7 L298.3,332.2 L299.6,332.3 L300.9,336.2 L302.2,333.7 L303.5,337.0 L304.8,326.6 L306.1,332.4 L307.4,333.3 L308.7,330.2 L310.0,332.4 L311.3,326.5 L312.6,319.9 L313.9,328.3 L315.2,323.2 L316.5,321.1 L317.8,325.9 L319.1,319.9 L320.4,317.3 L321.7,320.0 L323.0,321.2 L324.3,317.8 L325.6,317.4 L326.9,316.0 L328.2,316.3 L329.5,314.9 L330.8,307.3 L332.1,314.4 L333.4,315.6 L334.7,306.0 L336.0,312.6 L337.3,311.7 L338.6,304.9 L339.9,303.6 L341.2,306.3 L342.5,307.1 L343.8,302.6 L345.1,300.5 L346.4,308.6 L347.7,307.3 L349.0,306.2 L350.3,301.5 L351.6,300.3 L352.9,300.4 L354.2,307.3 L355.5,306.3 L356.8,306.6 L358.1,303.7 L359.4,303.5 L360.7,311.0 L362.0,306.9 L363.3,306.4 L364.6,305.5 L365.9,308.1 L367.2,315.4 L368.5,307.3 L369.8,313.4 L371.1,309.6 L372.4,306.9 L373.7,310.7 L375.0,316.3 L376.3,314.4 L377.6,310.4 L378.9,310.8 L380.2,321.0 L381.5,313.0 L382.8,312.3 L384.1,311.1 L385.4,312.7 L386.7,319.8 L388.0,316.9 L389.3,312.0 L390.6,312.3 L391.9,314.5 L393.2,319.3 L394.5,319.6 L395.8,315.3 L397.1,314.8 L398.4,321.4 L399.7,319.0 L401.0,319.8 L402.3,321.5 L403.6,320.5 L404.9,315.7 L406.2,320.2 L407.5,317.4 L408.8,323.9 L410.1,319.0 L411.4,316.1 L412.7,314.9 L414.0,318.7 L415.3,324.7 L416.6,320.1 L417.9,318.3 L419.2,320.2 L420.5,323.2 L421.8,319.9 L423.1,316.0 L424.4,319.7 L425.7,319.9 L427.0,320.0 L428.3,324.1 L429.6,321.6 L430.9,320.3 L432.2,322.3 L433.5,319.1 L434.8,327.0 L436.1,326.2 L437.4,322.1 L438.7,322.1 L440.0,324.7 L441.3,327.1 L442.6,324.4 L443.9,328.8 L445.2,327.2 L446.5,322.6 L447.8,321.5 L449.1,319.5 L450.4,325.6 L451.7,319.0 L453.0,324.6 L454.3,322.0 L455.6,319.8 L456.9,319.2 L458.2,327.8 L459.5,320.9 L460.8,324.5 L462.1,319.0 L463.4,328.5 L464.7,324.2 L466.0,328.0 L467.3,317.6 L468.6,319.1 L469.9,322.7 L471.2,328.1 L472.5,326.6 L473.8,328.8 L475.1,320.0 L476.4,325.8 L477.7,323.1 L479.0,323.8 L480.3,323.5 L481.6,328.1 L482.9,324.4 L484.2,327.7 L485.5,321.9 L486.8,327.2 L488.1,319.9 L489.4,321.9 L490.7,326.1 L492.0,326.7 L493.3,327.6 L494.6,320.5 L495.9,329.1 L497.2,324.8 L498.5,321.3 L499.8,326.2 L501.1,330.8 L502.4,330.2 L503.7,323.6 L505.0,329.5 L506.3,323.5 L507.6,326.7 L508.9,325.0 L510.2,325.5 L511.5,321.8 L512.8,323.5 L514.1,322.9 L515.4,326.4 L516.7,326.2 L518.0,322.7 L519.3,328.1 L520.6,325.3 L521.9,324.2 L523.2,323.1 L524.5,325.5 L525.8,325.4 L527.1,323.6 L528.4,326.8 L529.7,322.6 L531.0,327.3 L532.3,327.6 L533.6,322.3 L534.9,325.5 L536.2,322.1 L537.5,323.4 L538.8,327.8 L540.1,324.6 L541.4,329.4 L542.7,321.2 L544.0,326.4 L545.3,320.4 L546.6,329.7 L547.9,325.0 L549.2,329.6 L550.5,322.8 L551.8,329.7 L553.1,327.3 L554.4,326.0 L555.7,325.3 L557.0,322.8 L558.3,321.0 L559.6,323.8 L560.9,330.2 L562.2,324.8 L563.5,321.9 L564.8,325.5 L566.1,320.6 L567.4,328.3 L568.7,324.1 L570.0,320.9 L571.3,325.5 L572.6,326.2 L573.9,327.9 L575.2,320.2 L576.5,320.3 L577.8,325.9 L579.1,327.1 L580.4,321.2 L581.7,321.1 L583.0,323.8 L584.3,327.5 L585.6,330.6 L586.9,324.0 L588.2,328.7 L589.5,324.4 L590.8,327.4 L592.1,330.3 L593.4,330.1 L594.7,330.7 L596.0,331.5 L597.3,330.2 L598.6,327.2 L599.9,325.1 L601.2,322.8 L602.5,331.1 L603.8,327.9 L605.1,328.9 L606.4,329.1 L607.7,324.8 L609.0,321.6 L610.3,321.1 L611.6,321.8 L612.9,325.7 L614.2,327.4 L615.5,325.9 L616.8,329.7 L618.1,325.1 L619.4,330.6 L620.7,325.5 L622.0,324.6 L623.3,328.5 L624.6,321.4 L625.9,321.0 L627.2,319.7 L628.5,330.2 L629.8,325.6 L631.1,324.1 L632.4,323.8 L633.7,321.5 L635.0,329.5 L636.3,324.6 L637.6,328.1 L638.9,324.8 L640.2,326.3 L641.5,326.5 L642.8,327.9 L644.1,325.8 L645.4,324.3 L646.7,328.8 L648.0,322.9 L649.3,328.1 L650.6,325.3 L651.9,319.3 L653.2,324.9 L654.5,328.5 L655.8,322.1 L657.1,326.2 L658.4,321.7 L659.7,322.4 L661.0,324.6 L662.3,322.9 L663.6,326.2 L664.9,327.3 L666.2,321.6 L667.5,325.7 L668.8,324.4 L670.1,321.1 L671.4,318.1 L672.7,320.7 L674.0,324.7 L675.3,325.7 L676.6,317.4 L677.9,320.8 L679.2,318.3 L680.5,316.6 L681.8,323.0 L683.1,321.3 L684.4,326.6 L685.7,322.9 L687.0,318.2 L688.3,317.5 L689.6,324.7 L690.9,323.5 L692.2,318.5 L693.5,321.7 L694.8,324.6 L696.1,317.2 L697.4,324.0 L698.7,317.5" fill="none" stroke="#00BE00" stroke-width="2.4" stroke-linejoin="bevel"/>
<path d="M134.5,328.0 L136.5,326.5 L138.5,324.2 L140.5,322.2 L142.5,321.1 L144.5,321.1 L146.5,321.4 L148.5,321.9 L150.5,322.7 L152.5,323.5 L154.5,324.5 L156.5,325.6 L158.5,326.7 L160.5,327.8 L162.5,328.9 L164.5,329.9 L166.5,330.8 L168.5,331.5 L170.5,332.1 L172.5,332.7 L174.5,333.2 L176.5,333.7 L178.5,334.3 L180.5,334.8 L182.5,335.3 L184.5,335.7 L186.5,336.2 L188.5,336.6 L190.5,337.1 L192.5,337.5 L194.5,337.9 L196.5,338.2 L198.5,338.6 L200.5,338.9 L202.5,339.2 L204.5,339.4 L206.5,339.7 L208.5,339.9 L210.5,340.0 L212.5,340.2 L214.5,340.4 L216.5,340.5 L218.5,340.7 L220.5,340.8 L222.5,340.9 L224.5,341.1 L226.5,341.2 L228.5,341.3 L230.5,341.4 L232.5,341.5 L234.5,341.6 L236.5,341.7 L238.5,341.8 L240.5,341.9 L242.5,341.9 L244.5,341.9 L246.5,342.0 L248.5,342.0 L250.5,342.0 L252.5,342.0 L254.5,341.9 L256.5,341.7 L258.5,341.5 L260.5,341.3 L262.5,341.1 L264.5,340.8 L266.5,340.5 L268.5,340.1 L270.5,339.8 L272.5,339.4 L274.5,339.0 L276.5,338.6 L278.5,338.2 L280.5,337.8 L282.5,337.4 L284.5,337.0 L286.5,336.6 L288.5,336.3 L290.5,335.9 L292.5,335.6 L294.5,335.2 L296.5,334.8 L298.5,334.4 L300.5,334.0 L302.5,333.6 L304.5,333.2 L306.5,332.7 L308.5,332.3 L310.5,331.9 L312.5,331.5 L314.5,331.0 L316.5,330.6 L318.5,330.2 L320.5,329.8 L322.5,329.4 L324.5,329.0 L326.5,328.6 L328.5,328.3 L330.5,327.9 L332.5,327.6 L334.5,327.3 L336.5,326.9 L338.5,326.6 L340.5,326.3 L342.5,326.0 L344.5,325.7 L346.5,325.4 L348.5,325.2 L350.5,324.9 L352.5,324.6 L354.5,324.3 L356.5,324.0 L358.5,323.7 L360.5,323.5 L362.5,323.2 L364.5,322.9 L366.5,322.6 L368.5,322.2 L370.5,321.9 L372.5,321.6 L374.5,321.3 L376.5,321.0 L378.5,320.7 L380.5,320.4 L382.5,320.1 L384.5,319.8 L386.5,319.4 L388.5,319.1 L390.5,318.8 L392.5,318.5 L394.5,318.1 L396.5,317.8 L398.5,317.4 L400.5,317.0 L402.5,316.6 L404.5,316.2 L406.5,315.8 L408.5,315.4 L410.5,314.9 L412.5,314.4 L414.5,313.8 L416.5,313.2 L418.5,312.6 L420.5,311.9 L422.5,311.2 L424.5,310.4 L426.5,309.7 L428.5,308.9 L430.5,308.1 L432.5,307.3 L434.5,306.4 L436.5,305.6 L438.5,304.8 L440.5,303.9 L442.5,303.1 L444.5,302.2 L446.5,301.3 L448.5,300.4 L450.5,299.3 L452.5,298.1 L454.5,296.9 L456.5,295.7 L458.5,294.4 L460.5,293.1 L462.5,291.8 L464.5,290.5 L466.5,289.2 L468.5,288.0 L470.5,286.9 L472.5,285.8 L474.5,284.9 L476.5,284.0 L478.5,283.3 L480.5,282.7 L482.5,282.3 L484.5,282.1 L486.5,282.0 L488.5,282.1 L490.5,282.4 L492.5,282.9 L494.5,283.5 L496.5,284.2 L498.5,285.0 L500.5,285.9 L502.5,286.9 L504.5,288.1 L506.5,289.2 L508.5,290.5 L510.5,291.7 L512.5,293.0 L514.5,294.4 L516.5,295.7 L518.5,297.0 L520.5,298.3 L522.5,299.6 L524.5,300.9 L526.5,302.1 L528.5,303.2 L530.5,304.3 L532.5,305.4 L534.5,306.6 L536.5,307.9 L538.5,309.2 L540.5,310.5 L542.5,311.8 L544.5,313.0 L546.5,314.2 L548.5,315.3 L550.5,316.2 L552.5,317.0 L554.5,317.7 L556.5,318.1 L558.5,318.4 L560.5,318.8 L562.5,319.1 L564.5,319.4 L566.5,319.6 L568.5,319.9 L570.5,320.1 L572.5,320.3 L574.5,320.5 L576.5,320.7 L578.5,320.8 L580.5,321.0 L582.5,321.2 L584.5,321.3 L586.5,321.5 L588.5,321.6 L590.5,321.8 L592.5,322.0 L594.5,322.2 L596.5,322.3 L598.5,322.5 L600.5,322.8 L602.5,323.0 L604.5,323.2 L606.5,323.5 L608.5,323.7 L610.5,324.0 L612.5,324.3 L614.5,324.6 L616.5,324.8 L618.5,325.1 L620.5,325.4 L622.5,325.7 L624.5,326.0 L626.5,326.3 L628.5,326.6 L630.5,326.9 L632.5,327.2 L634.5,327.5 L636.5,327.7 L638.5,328.0 L640.5,328.2 L642.5,328.5 L644.5,328.7 L646.5,328.9 L648.5,329.1 L650.5,329.3 L652.5,329.4 L654.5,329.6 L656.5,329.7 L658.5,329.8 L660.5,329.9 L662.5,330.0 L664.5,330.0 L666.5,330.0 L668.5,330.0 L670.5,330.0 L672.5,330.0 L674.5,330.0 L676.5,330.0 L678.5,330.0 L680.5,330.0 L682.5,330.0 L684.5,330.0 L686.5,330.0 L688.5,330.0 L690.5,330.0 L692.5,330.0 L694.5,330.0 L696.5,330.0 L698.5,330.0" fill="none" stroke="#FF2828" stroke-width="6.5" stroke-linejoin="round"/>
<path d="M134.5,324.0 L135.8,322.3 L137.1,330.8 L138.4,327.5 L139.7,323.3 L141.0,315.6 L142.3,326.2 L143.6,324.7 L144.9,317.4 L146.2,322.9 L147.5,325.9 L148.8,317.1 L150.1,324.6 L151.4,319.2 L152.7,318.7 L154.0,328.6 L155.3,322.5 L156.6,326.5 L157.9,330.5 L159.2,326.0 L160.5,327.0 L161.8,326.1 L163.1,324.7 L164.4,327.2 L165.7,330.1 L167.0,336.9 L168.3,330.4 L169.6,333.5 L170.9,330.5 L172.2,330.4 L173.5,334.3 L174.8,330.0 L176.1,335.0 L177.4,332.0 L178.7,335.4 L180.0,339.4 L181.3,337.8 L182.6,329.5 L183.9,341.2 L185.2,334.8 L186.5,337.6 L187.8,334.0 L189.1,335.2 L190.4,342.6 L191.7,328.8 L193.0,341.0 L194.3,339.2 L195.6,337.2 L196.9,330.4 L198.2,337.0 L199.5,338.6 L200.8,345.1 L202.1,342.4 L203.4,345.2 L204.7,336.4 L206.0,334.1 L207.3,336.7 L208.6,343.9 L209.9,334.4 L211.2,337.0 L212.5,337.0 L213.8,339.4 L215.1,341.2 L216.4,339.3 L217.7,342.4 L219.0,343.6 L220.3,335.9 L221.6,345.4 L222.9,346.1 L224.2,342.9 L225.5,342.8 L226.8,341.6 L228.1,343.5 L229.4,346.4 L230.7,336.3 L232.0,347.0 L233.3,336.1 L234.6,337.2 L235.9,341.0 L237.2,343.4 L238.5,344.7 L239.8,341.8 L241.1,336.0 L242.4,337.3 L243.7,345.3 L245.0,342.6 L246.3,338.4 L247.6,340.0 L248.9,345.3 L250.2,338.6 L251.5,343.1 L252.8,346.3 L254.1,337.6 L255.4,345.0 L256.7,335.8 L258.0,345.9 L259.3,340.0 L260.6,339.0 L261.9,341.0 L263.2,337.1 L264.5,345.4 L265.8,339.8 L267.1,346.7 L268.4,336.5 L269.7,343.9 L271.0,343.3 L272.3,343.9 L273.6,335.0 L274.9,337.0 L276.2,343.5 L277.5,332.5 L278.8,338.7 L280.1,340.5 L281.4,332.5 L282.7,341.5 L284.0,340.3 L285.3,338.4 L286.6,337.9 L287.9,341.3 L289.2,341.1 L290.5,340.3 L291.8,337.0 L293.1,331.1 L294.4,333.6 L295.7,327.7 L297.0,338.4 L298.3,339.3 L299.6,335.1 L300.9,334.6 L302.2,338.9 L303.5,335.2 L304.8,326.9 L306.1,338.2 L307.4,336.2 L308.7,337.7 L310.0,333.0 L311.3,332.6 L312.6,334.6 L313.9,326.6 L315.2,333.0 L316.5,332.0 L317.8,328.0 L319.1,329.0 L320.4,334.6 L321.7,327.3 L323.0,327.2 L324.3,335.0 L325.6,327.6 L326.9,332.4 L328.2,324.7 L329.5,328.6 L330.8,329.2 L332.1,333.1 L333.4,327.1 L334.7,333.1 L336.0,328.3 L337.3,321.9 L338.6,323.3 L339.9,331.1 L341.2,322.0 L342.5,323.6 L343.8,321.8 L345.1,327.8 L346.4,331.0 L347.7,325.6 L349.0,318.8 L350.3,324.3 L351.6,322.2 L352.9,327.0 L354.2,326.2 L355.5,328.7 L356.8,324.7 L358.1,326.5 L359.4,323.6 L360.7,327.6 L362.0,318.0 L363.3,327.5 L364.6,321.5 L365.9,327.0 L367.2,321.1 L368.5,316.6 L369.8,316.3 L371.1,317.7 L372.4,325.8 L373.7,318.2 L375.0,320.9 L376.3,317.2 L377.6,326.8 L378.9,325.7 L380.2,319.0 L381.5,324.2 L382.8,315.3 L384.1,324.8 L385.4,321.4 L386.7,321.7 L388.0,316.3 L389.3,320.9 L390.6,323.5 L391.9,316.6 L393.2,323.1 L394.5,322.7 L395.8,320.3 L397.1,318.0 L398.4,317.4 L399.7,317.2 L401.0,318.1 L402.3,315.4 L403.6,321.3 L404.9,311.6 L406.2,319.8 L407.5,309.6 L408.8,316.8 L410.1,309.2 L411.4,309.1 L412.7,310.0 L414.0,318.6 L415.3,317.4 L416.6,311.8 L417.9,307.2 L419.2,318.0 L420.5,316.2 L421.8,313.7 L423.1,313.4 L424.4,309.7 L425.7,315.2 L427.0,312.6 L428.3,310.5 L429.6,306.3 L430.9,305.0 L432.2,301.8 L433.5,304.3 L434.8,301.9 L436.1,300.8 L437.4,298.9 L438.7,309.9 L440.0,308.8 L441.3,298.9 L442.6,302.5 L443.9,298.5 L445.2,309.8 L446.5,298.9 L447.8,302.6 L449.1,295.0 L450.4,295.5 L451.7,292.9 L453.0,294.0 L454.3,291.5 L455.6,294.2 L456.9,296.7 L458.2,300.4 L459.5,290.3 L460.8,298.3 L462.1,301.0 L463.4,293.6 L464.7,292.1 L466.0,285.2 L467.3,289.3 L468.6,286.3 L469.9,291.3 L471.2,281.0 L472.5,282.5 L473.8,286.1 L475.1,286.1 L476.4,282.4 L477.7,288.9 L479.0,281.3 L480.3,276.8 L481.6,286.4 L482.9,287.5 L484.2,276.6 L485.5,284.6 L486.8,277.7 L488.1,281.7 L489.4,277.8 L490.7,285.9 L492.0,280.1 L493.3,283.8 L494.6,283.3 L495.9,284.3 L497.2,285.8 L498.5,286.2 L499.8,279.9 L501.1,286.2 L502.4,283.1 L503.7,286.8 L505.0,290.0 L506.3,287.2 L507.6,290.4 L508.9,295.9 L510.2,289.5 L511.5,292.9 L512.8,297.6 L514.1,296.8 L515.4,296.1 L516.7,291.5 L518.0,300.4 L519.3,305.6 L520.6,301.8 L521.9,299.8 L523.2,294.7 L524.5,305.3 L525.8,301.3 L527.1,304.7 L528.4,307.8 L529.7,303.1 L531.0,308.8 L532.3,300.1 L533.6,301.0 L534.9,311.8 L536.2,311.8 L537.5,312.3 L538.8,314.4 L540.1,312.2 L541.4,308.6 L542.7,312.1 L544.0,314.7 L545.3,313.6 L546.6,316.0 L547.9,312.7 L549.2,313.5 L550.5,313.5 L551.8,312.2 L553.1,312.1 L554.4,313.5 L555.7,318.5 L557.0,315.8 L558.3,321.5 L559.6,319.1 L560.9,320.3 L562.2,318.8 L563.5,319.8 L564.8,320.2 L566.1,325.1 L567.4,322.4 L568.7,319.3 L570.0,317.7 L571.3,317.8 L572.6,316.8 L573.9,317.9 L575.2,322.5 L576.5,325.0 L577.8,318.7 L579.1,321.0 L580.4,318.3 L581.7,315.1 L583.0,321.9 L584.3,318.3 L585.6,320.1 L586.9,320.8 L588.2,321.4 L589.5,312.9 L590.8,327.8 L592.1,324.8 L593.4,327.8 L594.7,320.4 L596.0,316.3 L597.3,325.5 L598.6,322.4 L599.9,321.9 L601.2,320.6 L602.5,317.8 L603.8,318.7 L605.1,326.1 L606.4,328.1 L607.7,325.7 L609.0,322.5 L610.3,319.2 L611.6,328.7 L612.9,328.3 L614.2,323.7 L615.5,329.2 L616.8,326.4 L618.1,322.5 L619.4,319.7 L620.7,327.0 L622.0,322.5 L623.3,325.6 L624.6,324.3 L625.9,325.2 L627.2,321.9 L628.5,320.7 L629.8,330.0 L631.1,329.9 L632.4,322.9 L633.7,324.5 L635.0,328.3 L636.3,333.4 L637.6,331.4 L638.9,333.2 L640.2,326.4 L641.5,331.4 L642.8,333.3 L644.1,330.7 L645.4,330.2 L646.7,330.7 L648.0,323.3 L649.3,333.6 L650.6,323.8 L651.9,332.7 L653.2,333.3 L654.5,330.5 L655.8,323.9 L657.1,332.4 L658.4,326.5 L659.7,324.6 L661.0,323.6 L662.3,333.5 L663.6,324.1 L664.9,328.2 L666.2,330.9 L667.5,335.0 L668.8,329.6 L670.1,325.2 L671.4,328.1 L672.7,334.5 L674.0,326.5 L675.3,329.9 L676.6,324.8 L677.9,331.7 L679.2,334.1 L680.5,333.9 L681.8,329.1 L683.1,332.2 L684.4,326.0 L685.7,334.4 L687.0,334.3 L688.3,330.8 L689.6,331.7 L690.9,324.1 L692.2,330.8 L693.5,327.4 L694.8,333.7 L696.1,333.3 L697.4,335.5 L698.7,328.7" fill="none" stroke="#FF2828" stroke-width="2.4" stroke-linejoin="bevel"/>
<path d="M134.5,312.0 L136.5,310.5 L138.5,308.2 L140.5,306.5 L142.5,306.0 L144.5,306.2 L146.5,306.7 L148.5,307.4 L150.5,308.2 L152.5,309.3 L154.5,310.4 L156.5,311.6 L158.5,312.8 L160.5,314.1 L162.5,315.3 L164.5,316.4 L166.5,317.5 L168.5,318.4 L170.5,319.2 L172.5,319.9 L174.5,320.5 L176.5,321.2 L178.5,321.9 L180.5,322.5 L182.5,323.1 L184.5,323.7 L186.5,324.3 L188.5,324.9 L190.5,325.5 L192.5,326.0 L194.5,326.5 L196.5,327.1 L198.5,327.6 L200.5,328.0 L202.5,328.5 L204.5,328.9 L206.5,329.3 L208.5,329.7 L210.5,330.1 L212.5,330.5 L214.5,330.8 L216.5,331.2 L218.5,331.6 L220.5,331.9 L222.5,332.3 L224.5,332.6 L226.5,333.0 L228.5,333.3 L230.5,333.6 L232.5,333.9 L234.5,334.2 L236.5,334.5 L238.5,334.7 L240.5,334.9 L242.5,335.1 L244.5,335.2 L246.5,335.4 L248.5,335.5 L250.5,335.5 L252.5,335.6 L254.5,335.6 L256.5,335.6 L258.5,335.7 L260.5,335.7 L262.5,335.8 L264.5,335.8 L266.5,335.8 L268.5,335.8 L270.5,335.9 L272.5,335.9 L274.5,335.9 L276.5,335.9 L278.5,336.0 L280.5,336.0 L282.5,336.0 L284.5,336.0 L286.5,336.0 L288.5,336.0 L290.5,336.0 L292.5,336.0 L294.5,336.0 L296.5,336.0 L298.5,336.0 L300.5,336.0 L302.5,336.0 L304.5,336.0 L306.5,336.0 L308.5,336.0 L310.5,336.0 L312.5,336.0 L314.5,336.0 L316.5,336.0 L318.5,336.0 L320.5,336.0 L322.5,336.0 L324.5,336.0 L326.5,336.0 L328.5,336.0 L330.5,336.0 L332.5,336.0 L334.5,335.9 L336.5,335.9 L338.5,335.8 L340.5,335.7 L342.5,335.6 L344.5,335.5 L346.5,335.4 L348.5,335.3 L350.5,335.2 L352.5,335.0 L354.5,334.9 L356.5,334.8 L358.5,334.6 L360.5,334.5 L362.5,334.4 L364.5,334.3 L366.5,334.2 L368.5,334.1 L370.5,334.0 L372.5,333.9 L374.5,333.8 L376.5,333.8 L378.5,333.7 L380.5,333.6 L382.5,333.6 L384.5,333.5 L386.5,333.5 L388.5,333.4 L390.5,333.4 L392.5,333.3 L394.5,333.3 L396.5,333.2 L398.5,333.2 L400.5,333.1 L402.5,333.1 L404.5,333.0 L406.5,333.0 L408.5,332.9 L410.5,332.8 L412.5,332.8 L414.5,332.7 L416.5,332.6 L418.5,332.6 L420.5,332.5 L422.5,332.4 L424.5,332.3 L426.5,332.2 L428.5,332.1 L430.5,332.0 L432.5,331.8 L434.5,331.6 L436.5,331.4 L438.5,331.2 L440.5,330.9 L442.5,330.6 L444.5,330.3 L446.5,330.0 L448.5,329.6 L450.5,329.3 L452.5,328.9 L454.5,328.5 L456.5,328.1 L458.5,327.8 L460.5,327.4 L462.5,327.0 L464.5,326.6 L466.5,326.3 L468.5,325.9 L470.5,325.6 L472.5,325.2 L474.5,324.9 L476.5,324.5 L478.5,324.2 L480.5,323.8 L482.5,323.4 L484.5,323.1 L486.5,322.7 L488.5,322.3 L490.5,322.0 L492.5,321.6 L494.5,321.2 L496.5,320.8 L498.5,320.4 L500.5,320.0 L502.5,319.6 L504.5,319.2 L506.5,318.8 L508.5,318.4 L510.5,318.0 L512.5,317.6 L514.5,317.2 L516.5,316.8 L518.5,316.3 L520.5,315.9 L522.5,315.4 L524.5,315.0 L526.5,314.5 L528.5,314.0 L530.5,313.5 L532.5,313.0 L534.5,312.5 L536.5,312.0 L538.5,311.5 L540.5,311.0 L542.5,310.5 L544.5,309.9 L546.5,309.4 L548.5,308.9 L550.5,308.4 L552.5,307.9 L554.5,307.4 L556.5,306.9 L558.5,306.3 L560.5,305.7 L562.5,305.1 L564.5,304.5 L566.5,303.8 L568.5,303.2 L570.5,302.6 L572.5,302.1 L574.5,301.6 L576.5,301.2 L578.5,300.9 L580.5,300.7 L582.5,300.7 L584.5,300.8 L586.5,301.0 L588.5,301.3 L590.5,301.7 L592.5,302.1 L594.5,302.6 L596.5,303.1 L598.5,303.6 L600.5,304.1 L602.5,304.8 L604.5,305.6 L606.5,306.5 L608.5,307.5 L610.5,308.5 L612.5,309.6 L614.5,310.6 L616.5,311.7 L618.5,312.6 L620.5,313.5 L622.5,314.2 L624.5,314.8 L626.5,315.5 L628.5,316.1 L630.5,316.7 L632.5,317.3 L634.5,317.9 L636.5,318.5 L638.5,319.0 L640.5,319.5 L642.5,320.0 L644.5,320.5 L646.5,321.0 L648.5,321.5 L650.5,321.9 L652.5,322.4 L654.5,322.8 L656.5,323.2 L658.5,323.5 L660.5,323.9 L662.5,324.2 L664.5,324.6 L666.5,324.9 L668.5,325.2 L670.5,325.4 L672.5,325.7 L674.5,326.0 L676.5,326.2 L678.5,326.5 L680.5,326.7 L682.5,327.0 L684.5,327.2 L686.5,327.4 L688.5,327.7 L690.5,327.9 L692.5,328.2 L694.5,328.4 L696.5,328.7 L698.5,328.9" fill="none" stroke="#000000" stroke-width="8.0" stroke-linejoin="round"/>
<path d="M134.5,313.8 L135.8,315.7 L137.1,313.4 L138.4,301.3 L139.7,313.7 L141.0,311.9 L142.3,302.2 L143.6,303.8 L144.9,303.0 L146.2,310.6 L147.5,312.9 L148.8,306.3 L150.1,303.7 L151.4,315.9 L152.7,306.2 L154.0,310.7 L155.3,306.4 L156.6,314.5 L157.9,318.4 L159.2,311.2 L160.5,306.4 L161.8,318.6 L163.1,313.2 L164.4,321.2 L165.7,314.3 L167.0,326.5 L168.3,311.2 L169.6,327.5 L170.9,317.3 L172.2,308.6 L173.5,327.0 L174.8,324.5 L176.1,327.7 L177.4,319.3 L178.7,329.0 L180.0,326.8 L181.3,315.8 L182.6,317.0 L183.9,325.2 L185.2,321.5 L186.5,325.0 L187.8,322.0 L189.1,321.0 L190.4,332.9 L191.7,319.0 L193.0,326.7 L194.3,322.6 L195.6,331.7 L196.9,331.0 L198.2,320.5 L199.5,335.6 L200.8,334.8 L202.1,331.9 L203.4,323.4 L204.7,325.9 L206.0,336.7 L207.3,336.6 L208.6,329.6 L209.9,329.7 L211.2,327.3 L212.5,337.8 L213.8,332.6 L215.1,325.8 L216.4,335.4 L217.7,329.3 L219.0,335.8 L220.3,334.4 L221.6,330.1 L222.9,329.1 L224.2,336.6 L225.5,329.7 L226.8,335.3 L228.1,325.9 L229.4,329.7 L230.7,333.1 L232.0,336.1 L233.3,331.8 L234.6,337.8 L235.9,332.1 L237.2,340.1 L238.5,341.8 L239.8,335.1 L241.1,330.0 L242.4,341.6 L243.7,338.1 L245.0,338.7 L246.3,339.6 L247.6,337.9 L248.9,337.3 L250.2,337.6 L251.5,328.4 L252.8,334.7 L254.1,331.4 L255.4,337.2 L256.7,327.1 L258.0,332.9 L259.3,330.7 L260.6,333.9 L261.9,337.1 L263.2,340.7 L264.5,332.5 L265.8,330.0 L267.1,335.3 L268.4,329.8 L269.7,333.5 L271.0,342.8 L272.3,334.7 L273.6,338.0 L274.9,330.6 L276.2,336.9 L277.5,343.0 L278.8,333.7 L280.1,329.3 L281.4,339.3 L282.7,341.9 L284.0,335.0 L285.3,332.9 L286.6,334.2 L287.9,342.2 L289.2,332.4 L290.5,335.9 L291.8,333.3 L293.1,335.9 L294.4,337.1 L295.7,335.2 L297.0,340.2 L298.3,328.7 L299.6,332.6 L300.9,340.2 L302.2,332.5 L303.5,343.3 L304.8,337.6 L306.1,338.2 L307.4,342.8 L308.7,333.0 L310.0,333.5 L311.3,336.4 L312.6,333.9 L313.9,334.4 L315.2,335.3 L316.5,341.8 L317.8,328.7 L319.1,334.9 L320.4,339.1 L321.7,335.7 L323.0,334.3 L324.3,341.3 L325.6,332.9 L326.9,329.5 L328.2,338.9 L329.5,332.8 L330.8,341.9 L332.1,336.7 L333.4,333.4 L334.7,337.2 L336.0,329.4 L337.3,340.7 L338.6,340.9 L339.9,342.9 L341.2,342.8 L342.5,331.4 L343.8,342.4 L345.1,330.0 L346.4,343.0 L347.7,334.1 L349.0,332.4 L350.3,328.1 L351.6,336.2 L352.9,339.9 L354.2,332.1 L355.5,334.7 L356.8,335.2 L358.1,329.4 L359.4,334.7 L360.7,335.3 L362.0,330.9 L363.3,330.7 L364.6,331.3 L365.9,332.3 L367.2,329.3 L368.5,338.4 L369.8,329.0 L371.1,330.0 L372.4,333.6 L373.7,341.0 L375.0,327.1 L376.3,340.5 L377.6,335.2 L378.9,336.2 L380.2,328.2 L381.5,331.4 L382.8,331.1 L384.1,331.3 L385.4,328.0 L386.7,335.7 L388.0,332.4 L389.3,333.7 L390.6,334.5 L391.9,326.2 L393.2,333.5 L394.5,333.0 L395.8,325.7 L397.1,339.0 L398.4,332.1 L399.7,327.1 L401.0,328.0 L402.3,331.4 L403.6,327.8 L404.9,329.7 L406.2,329.8 L407.5,337.8 L408.8,330.9 L410.1,335.7 L411.4,332.4 L412.7,327.0 L414.0,329.6 L415.3,336.1 L416.6,324.9 L417.9,326.3 L419.2,339.6 L420.5,329.7 L421.8,329.2 L423.1,335.6 L424.4,328.4 L425.7,338.8 L427.0,331.1 L428.3,328.0 L429.6,331.3 L430.9,339.3 L432.2,324.5 L433.5,337.7 L434.8,335.1 L436.1,324.7 L437.4,324.7 L438.7,329.8 L440.0,329.9 L441.3,326.0 L442.6,329.1 L443.9,324.2 L445.2,324.3 L446.5,336.3 L447.8,335.1 L449.1,322.3 L450.4,329.1 L451.7,327.2 L453.0,332.2 L454.3,325.7 L455.6,333.2 L456.9,322.3 L458.2,321.6 L459.5,332.4 L460.8,318.7 L462.1,320.8 L463.4,328.0 L464.7,320.0 L466.0,319.6 L467.3,322.9 L468.6,319.9 L469.9,322.9 L471.2,326.3 L472.5,327.5 L473.8,326.1 L475.1,329.5 L476.4,331.4 L477.7,327.3 L479.0,328.8 L480.3,314.3 L481.6,320.0 L482.9,323.3 L484.2,318.6 L485.5,317.3 L486.8,328.0 L488.1,324.1 L489.4,321.1 L490.7,320.4 L492.0,326.6 L493.3,315.4 L494.6,316.3 L495.9,320.1 L497.2,322.9 L498.5,326.7 L499.8,319.2 L501.1,323.9 L502.4,320.2 L503.7,324.6 L505.0,323.7 L506.3,311.9 L507.6,318.4 L508.9,316.7 L510.2,314.7 L511.5,318.8 L512.8,321.3 L514.1,315.0 L515.4,324.2 L516.7,322.0 L518.0,318.9 L519.3,312.0 L520.6,309.8 L521.9,321.6 L523.2,319.7 L524.5,317.7 L525.8,316.5 L527.1,312.6 L528.4,315.3 L529.7,312.1 L531.0,306.3 L532.3,311.3 L533.6,315.8 L534.9,319.7 L536.2,318.4 L537.5,314.3 L538.8,315.9 L540.1,312.5 L541.4,311.1 L542.7,302.3 L544.0,311.3 L545.3,312.9 L546.6,315.8 L547.9,315.3 L549.2,311.3 L550.5,314.3 L551.8,313.1 L553.1,309.4 L554.4,307.6 L555.7,303.2 L557.0,307.4 L558.3,298.9 L559.6,301.2 L560.9,311.6 L562.2,306.9 L563.5,298.9 L564.8,305.2 L566.1,302.1 L567.4,299.2 L568.7,299.7 L570.0,308.7 L571.3,304.4 L572.6,298.7 L573.9,306.7 L575.2,304.9 L576.5,300.1 L577.8,307.1 L579.1,297.6 L580.4,307.7 L581.7,294.4 L583.0,302.3 L584.3,296.1 L585.6,303.1 L586.9,304.3 L588.2,306.3 L589.5,298.7 L590.8,303.9 L592.1,297.9 L593.4,307.4 L594.7,296.6 L596.0,293.6 L597.3,308.1 L598.6,307.2 L599.9,308.5 L601.2,310.7 L602.5,306.7 L603.8,294.1 L605.1,301.4 L606.4,305.8 L607.7,309.5 L609.0,308.4 L610.3,302.7 L611.6,307.2 L612.9,309.7 L614.2,320.3 L615.5,314.5 L616.8,306.1 L618.1,310.2 L619.4,319.3 L620.7,310.4 L622.0,317.0 L623.3,315.6 L624.6,312.4 L625.9,314.6 L627.2,311.8 L628.5,309.7 L629.8,310.4 L631.1,324.2 L632.4,315.6 L633.7,311.5 L635.0,325.9 L636.3,313.3 L637.6,318.1 L638.9,316.0 L640.2,326.6 L641.5,316.7 L642.8,326.9 L644.1,319.3 L645.4,324.9 L646.7,322.5 L648.0,323.5 L649.3,317.9 L650.6,320.6 L651.9,327.1 L653.2,320.7 L654.5,326.6 L655.8,317.7 L657.1,322.1 L658.4,330.9 L659.7,322.6 L661.0,323.5 L662.3,322.7 L663.6,322.3 L664.9,330.6 L666.2,324.2 L667.5,331.9 L668.8,319.7 L670.1,331.7 L671.4,318.5 L672.7,324.7 L674.0,329.7 L675.3,330.2 L676.6,326.5 L677.9,324.8 L679.2,328.7 L680.5,324.8 L681.8,328.1 L683.1,323.2 L684.4,323.6 L685.7,330.6 L687.0,333.8 L688.3,326.4 L689.6,329.5 L690.9,321.3 L692.2,321.2 L693.5,323.6 L694.8,327.7 L696.1,335.0 L697.4,329.2 L698.7,335.5" fill="none" stroke="#000000" stroke-width="2.4" stroke-linejoin="bevel"/>
<path d="M46.0,328.0 L48.0,328.0 L50.0,328.0 L52.0,327.9 L54.0,327.9 L56.0,327.9 L58.0,327.9 L60.0,327.9 L62.0,327.9 L64.0,327.8 L66.0,327.8 L68.0,327.8 L70.0,327.8 L72.0,327.8 L74.0,327.8 L76.0,327.7 L78.0,327.7 L80.0,327.7 L82.0,327.7 L84.0,327.6 L86.0,327.6 L88.0,327.5 L90.0,327.5 L92.0,327.4 L94.0,327.3 L96.0,327.0 L98.0,326.8 L100.0,326.5 L102.0,326.1 L104.0,325.7 L106.0,325.3 L108.0,324.9 L110.0,324.5 L112.0,324.0" fill="none" stroke="#00BE00" stroke-width="7"/>
<path d="M46.0,323.3 L46.8,329.8 L47.6,325.2 L48.4,330.8 L49.2,325.6 L50.0,326.7 L50.8,323.4 L51.6,332.8 L52.4,325.1 L53.2,329.9 L54.0,329.9 L54.8,328.4 L55.6,322.9 L56.4,333.6 L57.2,333.8 L58.0,329.2 L58.8,330.8 L59.6,329.5 L60.4,323.0 L61.2,328.0 L62.0,327.3 L62.8,331.4 L63.6,323.1 L64.4,322.9 L65.2,322.2 L66.0,323.2 L66.8,322.9 L67.6,330.0 L68.4,327.3 L69.2,327.1 L70.0,322.9 L70.8,324.6 L71.6,330.2 L72.4,330.2 L73.2,322.0 L74.0,333.1 L74.8,325.9 L75.6,333.0 L76.4,325.4 L77.2,329.3 L78.0,324.8 L78.8,322.1 L79.6,333.5 L80.4,325.1 L81.2,326.0 L82.0,319.7 L82.8,324.4 L83.6,324.8 L84.4,328.9 L85.2,325.1 L86.0,326.0 L86.8,328.7 L87.6,330.6 L88.4,331.6 L89.2,326.1 L90.0,328.1 L90.8,325.2 L91.6,328.8 L92.4,332.6 L93.2,325.4 L94.0,322.5 L94.8,327.6 L95.6,326.5 L96.4,325.6 L97.2,324.0 L98.0,323.7 L98.8,322.4 L99.6,322.3 L100.4,323.1 L101.2,328.1 L102.0,331.3 L102.8,325.9 L103.6,323.0 L104.4,330.8 L105.2,320.2 L106.0,330.5 L106.8,320.3 L107.6,324.1 L108.4,329.3 L109.2,332.2 L110.0,321.2 L110.8,325.0 L111.6,327.5" fill="none" stroke="#00BE00" stroke-width="2" stroke-linejoin="bevel"/>
<path d="M46.0,331.5 L48.0,331.5 L50.0,331.5 L52.0,331.4 L54.0,331.4 L56.0,331.4 L58.0,331.4 L60.0,331.4 L62.0,331.4 L64.0,331.3 L66.0,331.3 L68.0,331.3 L70.0,331.3 L72.0,331.3 L74.0,331.3 L76.0,331.2 L78.0,331.2 L80.0,331.2 L82.0,331.2 L84.0,331.1 L86.0,331.1 L88.0,331.0 L90.0,331.0 L92.0,330.9 L94.0,330.8 L96.0,330.5 L98.0,330.3 L100.0,330.0 L102.0,329.6 L104.0,329.2 L106.0,328.8 L108.0,328.4 L110.0,328.0 L112.0,327.5" fill="none" stroke="#FF2828" stroke-width="7"/>
<path d="M46.0,330.9 L46.8,337.0 L47.6,331.6 L48.4,327.4 L49.2,333.2 L50.0,326.2 L50.8,326.1 L51.6,337.8 L52.4,337.5 L53.2,332.9 L54.0,325.1 L54.8,325.7 L55.6,327.8 L56.4,330.6 L57.2,331.6 L58.0,331.4 L58.8,330.8 L59.6,337.9 L60.4,335.8 L61.2,329.0 L62.0,330.8 L62.8,330.1 L63.6,329.9 L64.4,333.5 L65.2,336.7 L66.0,337.6 L66.8,325.8 L67.6,334.9 L68.4,325.9 L69.2,337.3 L70.0,326.3 L70.8,328.5 L71.6,327.1 L72.4,330.6 L73.2,335.4 L74.0,326.3 L74.8,327.5 L75.6,337.4 L76.4,328.7 L77.2,327.5 L78.0,335.8 L78.8,326.0 L79.6,327.5 L80.4,334.7 L81.2,325.2 L82.0,332.2 L82.8,332.5 L83.6,330.5 L84.4,330.9 L85.2,335.9 L86.0,326.6 L86.8,335.2 L87.6,327.0 L88.4,336.8 L89.2,336.9 L90.0,332.3 L90.8,329.5 L91.6,327.5 L92.4,327.7 L93.2,332.1 L94.0,326.5 L94.8,325.1 L95.6,331.4 L96.4,332.0 L97.2,335.8 L98.0,324.0 L98.8,326.9 L99.6,328.3 L100.4,325.1 L101.2,334.8 L102.0,331.6 L102.8,326.8 L103.6,323.0 L104.4,331.8 L105.2,322.8 L106.0,328.6 L106.8,326.3 L107.6,323.0 L108.4,331.4 L109.2,331.2 L110.0,331.8 L110.8,325.9 L111.6,332.8" fill="none" stroke="#FF2828" stroke-width="2" stroke-linejoin="bevel"/>
<path d="M46.0,331.0 L48.0,331.0 L50.0,331.0 L52.0,330.9 L54.0,330.9 L56.0,330.9 L58.0,330.9 L60.0,330.9 L62.0,330.9 L64.0,330.8 L66.0,330.8 L68.0,330.8 L70.0,330.8 L72.0,330.8 L74.0,330.8 L76.0,330.7 L78.0,330.7 L80.0,330.7 L82.0,330.7 L84.0,330.6 L86.0,330.6 L88.0,330.5 L90.0,330.5 L92.0,330.4 L94.0,330.3 L96.0,330.0 L98.0,329.8 L100.0,329.5 L102.0,329.1 L104.0,328.7 L106.0,328.3 L108.0,327.9 L110.0,327.5 L112.0,327.0" fill="none" stroke="#0000FF" stroke-width="7"/>
<path d="M46.0,330.7 L46.8,329.1 L47.6,329.5 L48.4,334.7 L49.2,332.2 L50.0,332.4 L50.8,326.9 L51.6,325.6 L52.4,325.8 L53.2,329.0 L54.0,331.5 L54.8,335.9 L55.6,326.0 L56.4,335.7 L57.2,326.5 L58.0,332.4 L58.8,330.6 L59.6,334.7 L60.4,329.9 L61.2,330.6 L62.0,325.2 L62.8,336.5 L63.6,332.8 L64.4,329.2 L65.2,330.8 L66.0,329.2 L66.8,334.5 L67.6,325.2 L68.4,330.0 L69.2,327.5 L70.0,329.5 L70.8,326.0 L71.6,326.9 L72.4,325.2 L73.2,328.9 L74.0,325.4 L74.8,327.3 L75.6,330.5 L76.4,330.5 L77.2,326.7 L78.0,329.1 L78.8,333.7 L79.6,324.8 L80.4,333.9 L81.2,323.9 L82.0,332.1 L82.8,336.6 L83.6,324.9 L84.4,334.1 L85.2,332.3 L86.0,330.9 L86.8,332.1 L87.6,335.9 L88.4,326.5 L89.2,335.0 L90.0,335.8 L90.8,332.8 L91.6,327.0 L92.4,327.4 L93.2,335.8 L94.0,329.3 L94.8,329.4 L95.6,330.8 L96.4,335.0 L97.2,333.0 L98.0,330.8 L98.8,333.1 L99.6,327.7 L100.4,332.2 L101.2,323.5 L102.0,334.0 L102.8,333.7 L103.6,329.2 L104.4,326.0 L105.2,326.2 L106.0,330.6 L106.8,329.9 L107.6,330.4 L108.4,324.8 L109.2,325.5 L110.0,321.7 L110.8,329.7 L111.6,329.0" fill="none" stroke="#0000FF" stroke-width="2" stroke-linejoin="bevel"/>
<path d="M46.0,329.5 L48.0,329.5 L50.0,329.5 L52.0,329.4 L54.0,329.4 L56.0,329.4 L58.0,329.4 L60.0,329.4 L62.0,329.4 L64.0,329.3 L66.0,329.3 L68.0,329.3 L70.0,329.3 L72.0,329.3 L74.0,329.3 L76.0,329.2 L78.0,329.2 L80.0,329.2 L82.0,329.2 L84.0,329.1 L86.0,329.1 L88.0,329.0 L90.0,329.0 L92.0,328.9 L94.0,328.8 L96.0,328.5 L98.0,328.3 L100.0,328.0 L102.0,327.6 L104.0,327.2 L106.0,326.8 L108.0,326.4 L110.0,326.0 L112.0,325.5" fill="none" stroke="#000000" stroke-width="9"/>
<path d="M46.0,325.9 L46.8,332.3 L47.6,324.8 L48.4,324.2 L49.2,333.2 L50.0,325.2 L50.8,328.4 L51.6,329.3 L52.4,324.1 L53.2,334.1 L54.0,334.3 L54.8,336.2 L55.6,325.8 L56.4,329.2 L57.2,330.4 L58.0,327.4 L58.8,329.2 L59.6,333.9 L60.4,332.2 L61.2,334.5 L62.0,328.5 L62.8,324.9 L63.6,325.7 L64.4,330.9 L65.2,323.8 L66.0,325.4 L66.8,324.7 L67.6,322.9 L68.4,336.1 L69.2,332.6 L70.0,324.9 L70.8,334.4 L71.6,324.2 L72.4,334.8 L73.2,333.8 L74.0,334.6 L74.8,336.3 L75.6,330.8 L76.4,324.9 L77.2,330.4 L78.0,327.1 L78.8,326.8 L79.6,324.2 L80.4,323.4 L81.2,322.7 L82.0,330.0 L82.8,322.2 L83.6,322.8 L84.4,335.0 L85.2,325.6 L86.0,322.7 L86.8,327.1 L87.6,321.6 L88.4,329.0 L89.2,329.3 L90.0,331.5 L90.8,322.0 L91.6,335.1 L92.4,325.3 L93.2,334.1 L94.0,330.1 L94.8,324.8 L95.6,324.1 L96.4,321.6 L97.2,322.2 L98.0,332.0 L98.8,323.5 L99.6,328.8 L100.4,324.7 L101.2,322.3 L102.0,321.8 L102.8,323.2 L103.6,322.7 L104.4,325.1 L105.2,332.6 L106.0,320.0 L106.8,321.1 L107.6,323.8 L108.4,323.1 L109.2,322.4 L110.0,320.7 L110.8,323.9 L111.6,330.1" fill="none" stroke="#000000" stroke-width="2" stroke-linejoin="bevel"/>
<path d="M113,325 Q119,321 121.5,305 L123.2,280" fill="none" stroke="#00BE00" stroke-width="3" transform="translate(-1.5,-0.5)"/>
<path d="M113,325 Q119,321 121.5,305 L123.5,270" fill="none" stroke="#FF8C28" stroke-width="2" transform="translate(-0.5,0)"/>
<path d="M110,328 Q119.5,325 122,306 L124,270" fill="none" stroke="#000" stroke-width="4.2"/>
<path d="M130.2,440 L130.8,593" fill="none" stroke="#FF8C28" stroke-width="2"/>
<path d="M124.4,36 L126,36 L127.5,150 L129.2,298 L132.6,400 L131.5,570 L126.6,570 L125,400 L123.5,298 L124,150 Z" fill="#000"/>
<path d="M129.6,298 L130,354" fill="none" stroke="#FF2828" stroke-width="3"/>
<path d="M131.5,360 L133,330 Q134.5,314 137,310" fill="none" stroke="#000" stroke-width="3.6"/>
<line x1="123.5" y1="45.4" x2="586" y2="45.4" stroke="#000" stroke-width="3.5"/>
<line x1="586" y1="34.9" x2="586" y2="55.9" stroke="#000" stroke-width="3.6"/>
<line x1="586" y1="61.9" x2="586" y2="300" stroke="#000" stroke-width="3.7" stroke-dasharray="2.9 7.15" stroke-linecap="round"/>
<text x="616.5" y="57.5" font-family="'Liberation Serif', serif" font-size="35.5" font-weight="bold" text-anchor="start" >a</text>
<line x1="123.5" y1="88" x2="481" y2="88" stroke="#000" stroke-width="3.5"/>
<line x1="481" y1="77.5" x2="481" y2="98.5" stroke="#000" stroke-width="3.6"/>
<line x1="481" y1="104.5" x2="481" y2="283" stroke="#000" stroke-width="3.7" stroke-dasharray="2.9 7.15" stroke-linecap="round"/>
<text x="502" y="99" font-family="'Liberation Serif', serif" font-size="34" font-weight="bold" text-anchor="start" >b</text>
<line x1="123.5" y1="135" x2="393" y2="135" stroke="#000" stroke-width="3.5"/>
<line x1="393" y1="124.5" x2="393" y2="145.5" stroke="#000" stroke-width="3.6"/>
<line x1="393" y1="151.5" x2="393" y2="296" stroke="#000" stroke-width="3.7" stroke-dasharray="2.9 7.15" stroke-linecap="round"/>
<text x="417" y="146" font-family="'Liberation Serif', serif" font-size="34" font-weight="bold" text-anchor="start" >c</text>
<line x1="123.5" y1="182.8" x2="354" y2="182.8" stroke="#000" stroke-width="3.5"/>
<line x1="354" y1="172.3" x2="354" y2="193.3" stroke="#000" stroke-width="3.6"/>
<line x1="354" y1="199.3" x2="354" y2="308" stroke="#000" stroke-width="3.7" stroke-dasharray="2.9 7.15" stroke-linecap="round"/>
<text x="369" y="193.5" font-family="'Liberation Serif', serif" font-size="34" font-weight="bold" text-anchor="start" >d</text>
<line x1="123.5" y1="231" x2="319" y2="231" stroke="#000" stroke-width="3.5"/>
<line x1="319" y1="220.5" x2="319" y2="241.5" stroke="#000" stroke-width="3.6"/>
<line x1="319" y1="247.5" x2="319" y2="314" stroke="#000" stroke-width="3.7" stroke-dasharray="2.9 7.15" stroke-linecap="round"/>
<text x="327" y="241" font-family="'Liberation Serif', serif" font-size="34" font-weight="bold" text-anchor="start" >e</text>
<text x="425" y="626" font-family="'Liberation Serif', serif" font-size="41" font-weight="bold" text-anchor="middle" >Isoprenaline</text>
<text x="5.3" y="768.5" font-family="'Liberation Sans', sans-serif" font-size="43" font-weight="bold" text-anchor="start" >C</text>
<text x="335" y="757.5" font-family="'Liberation Serif', serif" font-size="34" font-weight="bold" text-anchor="middle" >FPD</text>
<path d="M190.0,1056.0 L191.0,1056.1 L192.0,1054.8 L193.0,1055.0 L194.0,1053.9 L195.0,1052.5 L196.0,1052.6 L197.0,1052.2 L198.0,1050.8 L199.0,1051.2 L200.0,1050.4 L201.0,1048.7 L202.0,1048.8 L203.0,1049.0 L204.0,1047.5 L205.0,1047.1 L206.0,1047.2 L207.0,1046.8 L208.0,1046.2 L209.0,1046.9 L210.0,1046.4 L211.0,1046.4 L212.0,1045.8 L213.0,1045.3 L214.0,1044.4 L215.0,1045.2 L216.0,1045.1 L217.0,1044.1 L218.0,1044.0 L219.0,1044.5 L220.0,1043.0 L221.0,1043.8 L222.0,1043.4 L223.0,1043.3 L224.0,1042.7 L225.0,1043.1 L226.0,1042.5 L227.0,1042.6 L228.0,1042.5 L229.0,1042.4 L230.0,1041.9 L231.0,1042.8 L232.0,1042.6 L233.0,1042.9 L234.0,1042.1 L235.0,1042.8 L236.0,1042.6 L237.0,1041.8 L238.0,1042.5 L239.0,1041.3 L240.0,1042.2 L241.0,1042.2 L242.0,1041.3 L243.0,1041.5 L244.0,1041.0 L245.0,1042.1 L246.0,1041.8 L247.0,1041.1 L248.0,1041.4 L249.0,1040.7 L250.0,1041.8 L251.0,1041.8 L252.0,1041.1 L253.0,1041.7 L254.0,1041.2 L255.0,1041.5 L256.0,1041.3 L257.0,1040.4 L258.0,1041.2 L259.0,1041.1 L260.0,1040.9 L261.0,1041.6 L262.0,1040.4 L263.0,1040.3 L264.0,1040.4 L265.0,1041.1 L266.0,1041.0 L267.0,1040.9 L268.0,1040.4 L269.0,1040.7 L270.0,1040.9 L271.0,1041.1 L272.0,1041.2 L273.0,1040.1 L274.0,1040.2 L275.0,1040.3 L276.0,1040.4 L277.0,1040.5 L278.0,1040.6 L279.0,1041.3 L280.0,1040.7 L281.0,1041.3 L282.0,1040.8 L283.0,1041.0 L284.0,1040.4 L285.0,1040.7 L286.0,1040.0 L287.0,1041.3 L288.0,1040.3 L289.0,1040.0 L290.0,1040.0 L291.0,1040.9 L292.0,1040.7 L293.0,1040.7 L294.0,1040.5 L295.0,1040.4 L296.0,1039.9 L297.0,1040.1 L298.0,1040.9 L299.0,1040.4 L300.0,1040.3 L301.0,1040.6 L302.0,1039.8 L303.0,1040.4 L304.0,1040.9 L305.0,1040.6 L306.0,1040.6 L307.0,1040.6 L308.0,1040.0 L309.0,1040.2 L310.0,1040.8 L311.0,1041.0 L312.0,1040.1 L313.0,1040.2 L314.0,1040.4 L315.0,1040.0 L316.0,1040.6 L317.0,1039.7 L318.0,1040.5 L319.0,1040.0 L320.0,1040.5 L321.0,1040.9 L322.0,1039.9 L323.0,1039.7 L324.0,1039.8 L325.0,1039.9 L326.0,1040.8 L327.0,1040.1 L328.0,1039.9 L329.0,1040.0 L330.0,1039.7 L331.0,1039.5 L332.0,1040.8 L333.0,1039.5 L334.0,1039.5 L335.0,1040.4 L336.0,1039.4 L337.0,1039.6 L338.0,1040.1 L339.0,1039.9 L340.0,1040.5 L341.0,1040.1 L342.0,1039.7 L343.0,1040.2 L344.0,1040.5 L345.0,1040.7 L346.0,1039.4 L347.0,1039.5 L348.0,1040.4 L349.0,1039.6 L350.0,1040.5 L351.0,1040.2 L352.0,1040.5 L353.0,1039.7 L354.0,1039.8 L355.0,1040.6 L356.0,1039.4 L357.0,1040.3 L358.0,1039.7 L359.0,1039.4 L360.0,1040.3 L361.0,1039.5 L362.0,1040.6 L363.0,1039.9 L364.0,1040.3 L365.0,1039.4 L366.0,1039.6 L367.0,1039.8 L368.0,1040.2 L369.0,1040.3 L370.0,1039.5 L371.0,1040.4 L372.0,1040.3 L373.0,1040.4 L374.0,1040.0 L375.0,1040.7 L376.0,1040.6 L377.0,1040.4 L378.0,1039.8 L379.0,1040.2 L380.0,1040.2 L381.0,1040.6 L382.0,1040.5 L383.0,1040.7 L384.0,1040.4 L385.0,1040.6 L386.0,1039.4 L387.0,1039.6 L388.0,1040.5 L389.0,1039.6 L390.0,1040.0 L391.0,1039.4 L392.0,1039.7 L393.0,1040.7 L394.0,1040.7 L395.0,1039.7 L396.0,1040.1 L397.0,1040.6 L398.0,1040.5 L399.0,1040.2 L400.0,1040.3 L401.0,1040.4 L402.0,1039.7 L403.0,1040.5 L404.0,1040.7 L405.0,1041.1 L406.0,1040.3 L407.0,1040.7 L408.0,1040.6 L409.0,1040.1 L410.0,1040.8 L411.0,1040.5 L412.0,1040.4 L413.0,1040.6 L414.0,1040.4 L415.0,1040.7 L416.0,1041.1 L417.0,1040.5 L418.0,1041.0 L419.0,1041.3 L420.0,1041.2 L421.0,1040.1 L422.0,1040.9 L423.0,1041.2 L424.0,1041.0 L425.0,1040.3 L426.0,1040.7 L427.0,1040.3 L428.0,1040.5 L429.0,1040.5 L430.0,1040.2 L431.0,1040.9 L432.0,1040.1 L433.0,1040.8 L434.0,1040.9 L435.0,1040.4 L436.0,1041.1 L437.0,1040.6 L438.0,1040.2 L439.0,1040.7 L440.0,1040.3 L441.0,1039.9 L442.0,1039.6 L443.0,1040.1 L444.0,1040.2 L445.0,1039.5 L446.0,1039.5 L447.0,1039.7 L448.0,1039.5 L449.0,1039.4 L450.0,1039.9 L451.0,1039.3 L452.0,1039.6 L453.0,1039.4 L454.0,1039.0 L455.0,1039.4 L456.0,1038.9 L457.0,1038.6 L458.0,1039.2 L459.0,1039.1 L460.0,1038.3 L461.0,1038.6 L462.0,1038.6 L463.0,1038.1 L464.0,1039.2 L465.0,1038.6 L466.0,1039.0 L467.0,1039.0 L468.0,1038.6 L469.0,1037.7 L470.0,1038.3 L471.0,1037.8 L472.0,1037.3 L473.0,1037.2 L474.0,1038.1 L475.0,1037.1 L476.0,1036.9 L477.0,1037.2 L478.0,1037.0 L479.0,1036.9 L480.0,1037.1 L481.0,1036.8 L482.0,1036.1 L483.0,1036.1 L484.0,1035.8 L485.0,1035.9 L486.0,1035.2 L487.0,1036.2 L488.0,1035.7 L489.0,1035.5 L490.0,1035.4 L491.0,1034.7 L492.0,1034.8 L493.0,1034.7 L494.0,1034.0 L495.0,1034.5 L496.0,1034.0 L497.0,1033.8 L498.0,1033.8 L499.0,1033.8 L500.0,1032.7 L501.0,1032.1 L502.0,1032.5 L503.0,1031.8 L504.0,1032.1 L505.0,1032.1 L506.0,1032.0 L507.0,1031.8 L508.0,1031.2 L509.0,1031.3 L510.0,1030.3 L511.0,1029.9 L512.0,1029.8 L513.0,1029.0 L514.0,1029.4 L515.0,1028.6 L516.0,1028.5 L517.0,1028.5 L518.0,1028.8 L519.0,1028.1 L520.0,1027.5 L521.0,1028.0 L522.0,1028.1 L523.0,1027.3 L524.0,1027.2 L525.0,1026.1 L526.0,1026.9 L527.0,1026.2 L528.0,1025.4 L529.0,1024.7 L530.0,1024.7 L531.0,1024.5 L532.0,1025.0 L533.0,1024.4 L534.0,1024.5 L535.0,1023.9 L536.0,1023.8 L537.0,1023.7 L538.0,1022.5 L539.0,1022.5 L540.0,1022.8 L541.0,1022.4 L542.0,1021.5 L543.0,1021.3 L544.0,1021.8 L545.0,1021.4 L546.0,1020.4 L547.0,1020.5 L548.0,1019.9 L549.0,1020.0 L550.0,1018.5 L551.0,1018.8 L552.0,1018.0 L553.0,1017.6 L554.0,1018.2 L555.0,1017.3 L556.0,1017.5 L557.0,1016.4 L558.0,1017.4 L559.0,1016.7 L560.0,1016.5 L561.0,1016.1 L562.0,1015.6 L563.0,1016.3 L564.0,1015.3 L565.0,1015.3 L566.0,1015.5 L567.0,1015.6 L568.0,1015.3 L569.0,1015.3 L570.0,1015.7 L571.0,1016.1 L572.0,1016.9 L573.0,1016.7 L574.0,1017.2 L575.0,1017.4 L576.0,1017.6 L577.0,1018.0 L578.0,1017.9 L579.0,1019.2 L580.0,1019.5 L581.0,1019.7 L582.0,1020.1 L583.0,1020.2 L584.0,1020.3 L585.0,1021.3 L586.0,1021.0 L587.0,1022.6 L588.0,1022.5 L589.0,1022.9 L590.0,1024.0 L591.0,1023.4 L592.0,1024.1 L593.0,1024.9 L594.0,1025.4 L595.0,1024.8 L596.0,1025.8 L597.0,1026.6 L598.0,1027.4 L599.0,1027.8 L600.0,1028.0 L601.0,1027.8 L602.0,1028.7 L603.0,1029.4 L604.0,1030.3 L605.0,1030.2 L606.0,1030.9 L607.0,1031.3 L608.0,1031.8 L609.0,1033.2 L610.0,1032.8 L611.0,1034.5 L612.0,1035.0 L613.0,1034.6 L614.0,1036.0 L615.0,1035.5 L616.0,1036.1 L617.0,1037.3 L618.0,1037.4 L619.0,1037.7 L620.0,1038.0 L621.0,1038.4 L622.0,1039.0 L623.0,1039.5 L624.0,1040.2 L625.0,1040.5 L626.0,1041.3 L627.0,1041.7 L628.0,1041.8 L629.0,1042.0 L630.0,1042.3 L631.0,1042.8 L632.0,1043.8 L633.0,1044.2 L634.0,1043.9 L635.0,1043.7 L636.0,1045.0 L637.0,1044.9 L638.0,1045.7 L639.0,1045.9 L640.0,1046.2 L641.0,1045.8 L642.0,1046.8 L643.0,1046.2 L644.0,1047.0 L645.0,1046.8 L646.0,1046.4 L647.0,1047.4 L648.0,1048.0 L649.0,1048.0 L650.0,1047.5 L651.0,1047.6 L652.0,1047.6 L653.0,1048.9 L654.0,1048.6 L655.0,1049.2 L656.0,1048.7 L657.0,1049.2 L658.0,1049.4 L659.0,1049.8 L660.0,1049.3 L661.0,1049.1 L662.0,1049.2 L663.0,1050.0 L664.0,1050.0 L665.0,1050.3 L666.0,1050.7 L667.0,1049.6 L668.0,1050.0 L669.0,1051.0 L670.0,1051.0 L671.0,1050.6 L672.0,1050.5 L673.0,1050.8 L674.0,1050.2 L675.0,1050.5 L676.0,1051.2 L677.0,1050.9 L678.0,1051.6 L679.0,1051.5 L680.0,1051.6 L681.0,1051.8 L682.0,1051.9 L683.0,1051.8 L684.0,1051.1 L685.0,1052.3 L686.0,1051.9 L687.0,1052.6 L688.0,1052.3 L689.0,1052.5 L690.0,1052.1 L691.0,1051.8 L692.0,1052.4 L693.0,1051.9 L694.0,1052.0 L695.0,1052.4 L696.0,1052.7 L697.0,1052.1 L698.0,1052.6 L699.0,1053.3 L700.0,1052.4 L701.0,1053.0 L702.0,1052.5 L703.0,1053.1 L704.0,1053.6" fill="none" stroke="#FF8C28" stroke-width="6" stroke-linejoin="round" stroke-linecap="round"/>
<path d="M155.5,1322 C158,1250 158.5,1180 162,1130 C166,1095 176,1070 190,1059" transform="translate(-2,-2.5)" fill="none" stroke="#FF8C28" stroke-width="7"/>
<path d="M190.0,1058.1 L191.0,1056.3 L192.0,1055.9 L193.0,1056.0 L194.0,1055.7 L195.0,1055.2 L196.0,1054.1 L197.0,1053.6 L198.0,1053.1 L199.0,1052.8 L200.0,1051.4 L201.0,1051.7 L202.0,1051.4 L203.0,1051.0 L204.0,1050.3 L205.0,1049.4 L206.0,1049.1 L207.0,1049.7 L208.0,1048.3 L209.0,1048.8 L210.0,1047.6 L211.0,1047.3 L212.0,1047.8 L213.0,1047.4 L214.0,1047.9 L215.0,1046.9 L216.0,1046.6 L217.0,1046.7 L218.0,1046.7 L219.0,1045.7 L220.0,1045.9 L221.0,1045.8 L222.0,1046.5 L223.0,1045.6 L224.0,1046.2 L225.0,1045.6 L226.0,1045.2 L227.0,1044.9 L228.0,1045.3 L229.0,1045.3 L230.0,1045.3 L231.0,1044.8 L232.0,1045.5 L233.0,1045.3 L234.0,1044.7 L235.0,1045.3 L236.0,1044.5 L237.0,1044.7 L238.0,1044.8 L239.0,1044.5 L240.0,1043.6 L241.0,1044.4 L242.0,1043.7 L243.0,1044.0 L244.0,1043.4 L245.0,1043.8 L246.0,1043.5 L247.0,1044.4 L248.0,1043.5 L249.0,1043.7 L250.0,1043.5 L251.0,1044.3 L252.0,1043.0 L253.0,1044.1 L254.0,1043.2 L255.0,1043.4 L256.0,1043.9 L257.0,1043.2 L258.0,1043.2 L259.0,1043.7 L260.0,1044.0 L261.0,1042.9 L262.0,1043.6 L263.0,1043.5 L264.0,1043.8 L265.0,1043.6 L266.0,1043.9 L267.0,1043.5 L268.0,1043.2 L269.0,1043.9 L270.0,1043.3 L271.0,1043.0 L272.0,1044.0 L273.0,1043.2 L274.0,1043.4 L275.0,1043.1 L276.0,1043.9 L277.0,1043.6 L278.0,1044.0 L279.0,1043.2 L280.0,1043.7 L281.0,1043.6 L282.0,1042.9 L283.0,1043.2 L284.0,1043.3 L285.0,1042.8 L286.0,1043.8 L287.0,1043.3 L288.0,1042.6 L289.0,1043.6 L290.0,1043.7 L291.0,1042.7 L292.0,1043.3 L293.0,1043.8 L294.0,1043.4 L295.0,1043.0 L296.0,1043.9 L297.0,1043.8 L298.0,1043.5 L299.0,1042.9 L300.0,1042.6 L301.0,1042.9 L302.0,1043.0 L303.0,1043.1 L304.0,1042.8 L305.0,1043.1 L306.0,1043.6 L307.0,1043.3 L308.0,1043.8 L309.0,1042.5 L310.0,1043.2 L311.0,1042.7 L312.0,1042.9 L313.0,1042.5 L314.0,1043.6 L315.0,1043.1 L316.0,1043.2 L317.0,1042.9 L318.0,1043.7 L319.0,1043.1 L320.0,1042.5 L321.0,1043.6 L322.0,1042.9 L323.0,1042.4 L324.0,1042.6 L325.0,1043.5 L326.0,1043.1 L327.0,1043.3 L328.0,1043.7 L329.0,1042.8 L330.0,1043.4 L331.0,1042.9 L332.0,1043.2 L333.0,1043.0 L334.0,1043.2 L335.0,1042.8 L336.0,1043.5 L337.0,1043.1 L338.0,1043.2 L339.0,1042.7 L340.0,1042.9 L341.0,1042.9 L342.0,1043.2 L343.0,1042.9 L344.0,1043.4 L345.0,1043.2 L346.0,1043.4 L347.0,1043.3 L348.0,1042.7 L349.0,1042.9 L350.0,1042.7 L351.0,1043.0 L352.0,1042.6 L353.0,1043.1 L354.0,1042.5 L355.0,1043.0 L356.0,1042.5 L357.0,1042.7 L358.0,1043.0 L359.0,1043.1 L360.0,1042.6 L361.0,1042.4 L362.0,1042.4 L363.0,1043.1 L364.0,1043.2 L365.0,1042.9 L366.0,1042.6 L367.0,1042.9 L368.0,1042.8 L369.0,1042.5 L370.0,1043.6 L371.0,1043.6 L372.0,1043.1 L373.0,1043.6 L374.0,1042.9 L375.0,1042.4 L376.0,1043.5 L377.0,1042.7 L378.0,1043.4 L379.0,1042.7 L380.0,1042.4 L381.0,1042.7 L382.0,1042.9 L383.0,1042.3 L384.0,1042.7 L385.0,1043.4 L386.0,1042.7 L387.0,1043.3 L388.0,1042.4 L389.0,1042.6 L390.0,1042.8 L391.0,1043.6 L392.0,1043.6 L393.0,1042.3 L394.0,1043.4 L395.0,1043.5 L396.0,1042.3 L397.0,1042.7 L398.0,1043.5 L399.0,1042.8 L400.0,1042.7 L401.0,1043.0 L402.0,1043.4 L403.0,1043.8 L404.0,1043.3 L405.0,1043.2 L406.0,1043.0 L407.0,1043.3 L408.0,1043.5 L409.0,1043.5 L410.0,1043.7 L411.0,1044.6 L412.0,1043.8 L413.0,1043.9 L414.0,1045.0 L415.0,1043.8 L416.0,1044.7 L417.0,1044.5 L418.0,1044.0 L419.0,1045.0 L420.0,1044.8 L421.0,1044.9 L422.0,1045.0 L423.0,1044.7 L424.0,1044.5 L425.0,1045.1 L426.0,1045.1 L427.0,1044.6 L428.0,1045.1 L429.0,1045.1 L430.0,1044.9 L431.0,1044.4 L432.0,1044.4 L433.0,1044.4 L434.0,1043.8 L435.0,1044.2 L436.0,1043.9 L437.0,1044.3 L438.0,1043.4 L439.0,1044.0 L440.0,1043.1 L441.0,1042.9 L442.0,1042.6 L443.0,1043.3 L444.0,1041.8 L445.0,1042.8 L446.0,1041.8 L447.0,1042.0 L448.0,1041.4 L449.0,1041.5 L450.0,1040.7 L451.0,1040.4 L452.0,1040.2 L453.0,1040.3 L454.0,1039.4 L455.0,1039.3 L456.0,1039.6 L457.0,1038.7 L458.0,1038.4 L459.0,1038.1 L460.0,1037.5 L461.0,1037.7 L462.0,1037.6 L463.0,1037.3 L464.0,1036.4 L465.0,1035.3 L466.0,1036.0 L467.0,1035.7 L468.0,1035.3 L469.0,1034.5 L470.0,1034.2 L471.0,1033.4 L472.0,1033.3 L473.0,1033.3 L474.0,1032.4 L475.0,1032.9 L476.0,1032.5 L477.0,1031.3 L478.0,1030.8 L479.0,1031.0 L480.0,1030.2 L481.0,1029.8 L482.0,1029.9 L483.0,1029.8 L484.0,1028.2 L485.0,1028.2 L486.0,1027.3 L487.0,1026.8 L488.0,1026.6 L489.0,1026.2 L490.0,1025.2 L491.0,1024.9 L492.0,1024.2 L493.0,1023.7 L494.0,1023.6 L495.0,1023.4 L496.0,1021.8 L497.0,1021.8 L498.0,1021.2 L499.0,1020.5 L500.0,1020.4 L501.0,1019.0 L502.0,1018.7 L503.0,1017.5 L504.0,1017.4 L505.0,1016.1 L506.0,1015.0 L507.0,1015.5 L508.0,1014.8 L509.0,1013.4 L510.0,1012.6 L511.0,1011.6 L512.0,1011.7 L513.0,1010.3 L514.0,1009.4 L515.0,1009.8 L516.0,1009.3 L517.0,1008.4 L518.0,1008.9 L519.0,1007.4 L520.0,1007.7 L521.0,1007.4 L522.0,1007.5 L523.0,1006.4 L524.0,1006.8 L525.0,1005.8 L526.0,1005.5 L527.0,1005.3 L528.0,1005.1 L529.0,1004.6 L530.0,1004.9 L531.0,1005.0 L532.0,1005.1 L533.0,1004.4 L534.0,1004.7 L535.0,1004.9 L536.0,1004.9 L537.0,1004.8 L538.0,1005.3 L539.0,1004.5 L540.0,1005.1 L541.0,1005.5 L542.0,1006.2 L543.0,1006.9 L544.0,1006.8 L545.0,1007.3 L546.0,1008.3 L547.0,1008.8 L548.0,1008.1 L549.0,1009.7 L550.0,1009.6 L551.0,1010.4 L552.0,1010.3 L553.0,1011.9 L554.0,1011.9 L555.0,1012.2 L556.0,1013.0 L557.0,1014.0 L558.0,1014.0 L559.0,1015.1 L560.0,1015.3 L561.0,1016.0 L562.0,1017.1 L563.0,1016.5 L564.0,1017.6 L565.0,1017.9 L566.0,1019.7 L567.0,1019.9 L568.0,1021.3 L569.0,1020.9 L570.0,1022.9 L571.0,1022.8 L572.0,1023.5 L573.0,1024.6 L574.0,1025.4 L575.0,1026.4 L576.0,1027.1 L577.0,1027.8 L578.0,1027.7 L579.0,1028.1 L580.0,1030.0 L581.0,1029.6 L582.0,1029.9 L583.0,1031.6 L584.0,1031.2 L585.0,1032.5 L586.0,1033.1 L587.0,1033.6 L588.0,1034.0 L589.0,1033.3 L590.0,1034.5 L591.0,1034.4 L592.0,1035.9 L593.0,1035.1 L594.0,1035.9 L595.0,1036.6 L596.0,1036.4 L597.0,1037.0 L598.0,1037.8 L599.0,1037.8 L600.0,1037.9 L601.0,1038.4 L602.0,1039.0 L603.0,1040.1 L604.0,1040.4 L605.0,1040.1 L606.0,1040.7 L607.0,1040.4 L608.0,1040.6 L609.0,1040.5 L610.0,1041.9 L611.0,1041.3 L612.0,1041.6 L613.0,1041.5 L614.0,1042.8 L615.0,1043.0 L616.0,1043.5 L617.0,1043.3 L618.0,1043.8 L619.0,1043.7 L620.0,1044.2 L621.0,1043.5 L622.0,1044.3 L623.0,1043.7 L624.0,1044.6 L625.0,1043.9 L626.0,1044.7 L627.0,1044.9 L628.0,1045.0 L629.0,1045.5 L630.0,1044.5 L631.0,1044.7 L632.0,1045.6 L633.0,1044.8 L634.0,1045.2 L635.0,1045.8 L636.0,1046.3 L637.0,1046.0 L638.0,1045.7 L639.0,1045.8 L640.0,1046.2 L641.0,1046.9 L642.0,1046.3 L643.0,1046.0 L644.0,1046.9 L645.0,1046.6 L646.0,1047.7 L647.0,1046.5 L648.0,1047.7 L649.0,1047.5 L650.0,1047.8 L651.0,1048.1 L652.0,1047.5 L653.0,1047.8 L654.0,1047.6 L655.0,1048.5 L656.0,1047.7 L657.0,1048.4 L658.0,1047.5 L659.0,1048.8 L660.0,1048.5 L661.0,1049.0 L662.0,1048.8 L663.0,1048.4 L664.0,1048.9 L665.0,1048.7 L666.0,1048.2 L667.0,1049.5 L668.0,1048.4 L669.0,1049.5 L670.0,1048.6 L671.0,1049.5 L672.0,1049.8 L673.0,1049.8 L674.0,1049.3 L675.0,1049.8 L676.0,1050.3 L677.0,1049.1 L678.0,1050.1 L679.0,1049.6 L680.0,1050.1 L681.0,1050.1 L682.0,1050.7 L683.0,1050.3 L684.0,1050.5 L685.0,1050.4 L686.0,1050.6 L687.0,1051.0 L688.0,1050.1 L689.0,1050.7 L690.0,1050.7 L691.0,1050.4 L692.0,1051.5 L693.0,1051.4 L694.0,1050.7 L695.0,1050.9 L696.0,1051.4 L697.0,1051.6 L698.0,1052.1 L699.0,1051.7 L700.0,1051.5 L701.0,1052.3 L702.0,1052.0 L703.0,1051.8 L704.0,1052.4" fill="none" stroke="#007800" stroke-width="6" stroke-linejoin="round" stroke-linecap="round"/>
<path d="M155.5,1322 C158,1250 158.5,1180 162,1130 C166,1095 176,1070 190,1059" transform="translate(-1.5,-1.8)" fill="none" stroke="#007800" stroke-width="7"/>
<path d="M190.0,1061.6 L191.0,1061.0 L192.0,1060.1 L193.0,1059.5 L194.0,1058.4 L195.0,1057.9 L196.0,1057.1 L197.0,1057.5 L198.0,1056.7 L199.0,1056.0 L200.0,1056.1 L201.0,1055.4 L202.0,1055.4 L203.0,1054.7 L204.0,1054.1 L205.0,1053.4 L206.0,1053.3 L207.0,1053.2 L208.0,1052.9 L209.0,1052.0 L210.0,1052.6 L211.0,1051.3 L212.0,1050.9 L213.0,1051.4 L214.0,1050.8 L215.0,1050.5 L216.0,1050.9 L217.0,1050.0 L218.0,1050.5 L219.0,1050.3 L220.0,1049.8 L221.0,1049.7 L222.0,1048.9 L223.0,1048.6 L224.0,1048.4 L225.0,1049.3 L226.0,1049.3 L227.0,1048.9 L228.0,1049.1 L229.0,1049.3 L230.0,1048.1 L231.0,1048.4 L232.0,1049.0 L233.0,1047.9 L234.0,1048.3 L235.0,1048.2 L236.0,1047.7 L237.0,1048.6 L238.0,1047.7 L239.0,1048.3 L240.0,1048.1 L241.0,1048.0 L242.0,1047.9 L243.0,1047.3 L244.0,1047.9 L245.0,1047.6 L246.0,1046.9 L247.0,1047.2 L248.0,1047.8 L249.0,1047.9 L250.0,1047.4 L251.0,1046.9 L252.0,1047.2 L253.0,1047.5 L254.0,1047.0 L255.0,1046.6 L256.0,1046.7 L257.0,1046.6 L258.0,1046.9 L259.0,1047.3 L260.0,1047.3 L261.0,1047.1 L262.0,1046.7 L263.0,1046.4 L264.0,1047.5 L265.0,1047.3 L266.0,1047.1 L267.0,1046.6 L268.0,1046.6 L269.0,1046.7 L270.0,1046.8 L271.0,1046.8 L272.0,1046.5 L273.0,1046.3 L274.0,1046.5 L275.0,1046.8 L276.0,1046.7 L277.0,1046.9 L278.0,1047.3 L279.0,1047.3 L280.0,1047.4 L281.0,1046.1 L282.0,1046.4 L283.0,1046.2 L284.0,1046.2 L285.0,1046.6 L286.0,1046.4 L287.0,1047.3 L288.0,1046.2 L289.0,1047.3 L290.0,1046.0 L291.0,1046.2 L292.0,1046.6 L293.0,1046.8 L294.0,1047.1 L295.0,1046.8 L296.0,1046.1 L297.0,1047.1 L298.0,1046.5 L299.0,1046.8 L300.0,1047.1 L301.0,1046.4 L302.0,1047.0 L303.0,1046.4 L304.0,1047.3 L305.0,1046.1 L306.0,1047.0 L307.0,1046.0 L308.0,1046.9 L309.0,1046.6 L310.0,1046.5 L311.0,1046.3 L312.0,1047.0 L313.0,1046.5 L314.0,1046.3 L315.0,1046.5 L316.0,1047.0 L317.0,1047.2 L318.0,1046.7 L319.0,1046.7 L320.0,1047.2 L321.0,1046.5 L322.0,1047.0 L323.0,1046.4 L324.0,1045.9 L325.0,1047.2 L326.0,1046.8 L327.0,1046.2 L328.0,1046.7 L329.0,1046.7 L330.0,1046.6 L331.0,1045.9 L332.0,1046.0 L333.0,1046.3 L334.0,1046.9 L335.0,1046.6 L336.0,1046.3 L337.0,1046.2 L338.0,1046.5 L339.0,1046.9 L340.0,1047.2 L341.0,1046.9 L342.0,1047.1 L343.0,1046.8 L344.0,1046.7 L345.0,1047.1 L346.0,1045.9 L347.0,1045.9 L348.0,1046.9 L349.0,1047.1 L350.0,1046.5 L351.0,1046.6 L352.0,1046.7 L353.0,1046.0 L354.0,1046.8 L355.0,1046.9 L356.0,1046.0 L357.0,1046.7 L358.0,1047.1 L359.0,1046.8 L360.0,1046.5 L361.0,1046.8 L362.0,1045.9 L363.0,1046.2 L364.0,1046.4 L365.0,1046.3 L366.0,1045.8 L367.0,1046.6 L368.0,1046.8 L369.0,1046.8 L370.0,1045.8 L371.0,1046.4 L372.0,1046.5 L373.0,1046.3 L374.0,1046.3 L375.0,1046.4 L376.0,1046.7 L377.0,1045.9 L378.0,1046.7 L379.0,1046.9 L380.0,1045.7 L381.0,1046.0 L382.0,1046.2 L383.0,1046.6 L384.0,1045.8 L385.0,1046.7 L386.0,1045.7 L387.0,1045.8 L388.0,1046.3 L389.0,1046.5 L390.0,1045.6 L391.0,1046.3 L392.0,1046.0 L393.0,1046.6 L394.0,1046.4 L395.0,1046.4 L396.0,1045.4 L397.0,1045.9 L398.0,1045.8 L399.0,1045.7 L400.0,1045.3 L401.0,1046.3 L402.0,1046.1 L403.0,1045.8 L404.0,1045.7 L405.0,1045.4 L406.0,1045.7 L407.0,1045.5 L408.0,1044.4 L409.0,1044.6 L410.0,1044.5 L411.0,1044.3 L412.0,1043.8 L413.0,1043.8 L414.0,1043.2 L415.0,1042.5 L416.0,1042.7 L417.0,1042.7 L418.0,1043.1 L419.0,1042.5 L420.0,1041.7 L421.0,1041.9 L422.0,1042.2 L423.0,1041.8 L424.0,1040.4 L425.0,1041.0 L426.0,1041.0 L427.0,1040.4 L428.0,1040.5 L429.0,1039.9 L430.0,1039.6 L431.0,1038.9 L432.0,1039.0 L433.0,1038.0 L434.0,1038.2 L435.0,1036.8 L436.0,1036.5 L437.0,1037.1 L438.0,1035.6 L439.0,1035.5 L440.0,1035.6 L441.0,1035.2 L442.0,1034.9 L443.0,1034.5 L444.0,1033.1 L445.0,1033.3 L446.0,1032.7 L447.0,1032.4 L448.0,1031.6 L449.0,1030.8 L450.0,1030.9 L451.0,1029.7 L452.0,1029.8 L453.0,1028.3 L454.0,1028.7 L455.0,1027.0 L456.0,1027.1 L457.0,1026.8 L458.0,1025.9 L459.0,1025.4 L460.0,1025.1 L461.0,1023.6 L462.0,1022.8 L463.0,1023.5 L464.0,1021.8 L465.0,1021.3 L466.0,1021.2 L467.0,1020.0 L468.0,1019.4 L469.0,1019.8 L470.0,1018.7 L471.0,1018.3 L472.0,1017.2 L473.0,1016.0 L474.0,1015.7 L475.0,1015.3 L476.0,1014.8 L477.0,1013.8 L478.0,1012.0 L479.0,1011.1 L480.0,1010.3 L481.0,1010.4 L482.0,1009.0 L483.0,1008.6 L484.0,1006.7 L485.0,1005.8 L486.0,1006.0 L487.0,1004.4 L488.0,1004.2 L489.0,1003.2 L490.0,1004.0 L491.0,1003.2 L492.0,1003.1 L493.0,1002.3 L494.0,1002.3 L495.0,1001.9 L496.0,1001.9 L497.0,1000.7 L498.0,1000.2 L499.0,1000.9 L500.0,1000.6 L501.0,999.9 L502.0,1000.1 L503.0,998.8 L504.0,998.8 L505.0,998.4 L506.0,999.0 L507.0,998.4 L508.0,998.2 L509.0,999.3 L510.0,999.2 L511.0,999.2 L512.0,999.5 L513.0,999.2 L514.0,999.8 L515.0,1000.9 L516.0,1001.7 L517.0,1002.4 L518.0,1001.9 L519.0,1002.5 L520.0,1003.9 L521.0,1004.2 L522.0,1005.3 L523.0,1006.3 L524.0,1007.2 L525.0,1008.1 L526.0,1008.8 L527.0,1009.1 L528.0,1009.6 L529.0,1010.9 L530.0,1010.8 L531.0,1012.2 L532.0,1012.7 L533.0,1013.7 L534.0,1014.0 L535.0,1015.2 L536.0,1015.0 L537.0,1015.5 L538.0,1017.3 L539.0,1017.3 L540.0,1018.0 L541.0,1019.0 L542.0,1020.2 L543.0,1020.5 L544.0,1022.0 L545.0,1021.9 L546.0,1022.6 L547.0,1024.0 L548.0,1024.5 L549.0,1025.0 L550.0,1025.6 L551.0,1026.3 L552.0,1027.1 L553.0,1027.2 L554.0,1027.6 L555.0,1028.1 L556.0,1028.7 L557.0,1029.3 L558.0,1030.7 L559.0,1031.0 L560.0,1032.1 L561.0,1032.9 L562.0,1033.4 L563.0,1033.4 L564.0,1034.5 L565.0,1034.2 L566.0,1034.9 L567.0,1035.2 L568.0,1035.7 L569.0,1036.0 L570.0,1037.3 L571.0,1038.2 L572.0,1038.3 L573.0,1038.6 L574.0,1038.4 L575.0,1038.3 L576.0,1039.4 L577.0,1039.9 L578.0,1039.6 L579.0,1039.8 L580.0,1040.4 L581.0,1041.2 L582.0,1040.8 L583.0,1040.6 L584.0,1042.0 L585.0,1041.5 L586.0,1042.3 L587.0,1041.8 L588.0,1042.6 L589.0,1042.6 L590.0,1043.1 L591.0,1043.1 L592.0,1043.4 L593.0,1044.1 L594.0,1044.0 L595.0,1043.6 L596.0,1043.6 L597.0,1044.0 L598.0,1044.3 L599.0,1044.6 L600.0,1044.6 L601.0,1045.3 L602.0,1045.1 L603.0,1044.9 L604.0,1045.4 L605.0,1044.7 L606.0,1044.8 L607.0,1045.3 L608.0,1045.5 L609.0,1045.3 L610.0,1045.5 L611.0,1045.9 L612.0,1045.4 L613.0,1046.1 L614.0,1046.4 L615.0,1047.0 L616.0,1046.9 L617.0,1045.9 L618.0,1047.0 L619.0,1047.3 L620.0,1047.4 L621.0,1046.8 L622.0,1047.0 L623.0,1046.6 L624.0,1046.6 L625.0,1046.6 L626.0,1047.0 L627.0,1047.3 L628.0,1046.8 L629.0,1047.2 L630.0,1047.7 L631.0,1047.1 L632.0,1048.4 L633.0,1048.1 L634.0,1047.6 L635.0,1047.7 L636.0,1048.0 L637.0,1047.7 L638.0,1048.6 L639.0,1049.0 L640.0,1048.8 L641.0,1048.9 L642.0,1049.0 L643.0,1048.4 L644.0,1049.0 L645.0,1048.1 L646.0,1048.3 L647.0,1048.3 L648.0,1048.6 L649.0,1049.5 L650.0,1049.3 L651.0,1048.8 L652.0,1048.7 L653.0,1048.8 L654.0,1048.6 L655.0,1048.9 L656.0,1048.7 L657.0,1049.7 L658.0,1048.9 L659.0,1048.8 L660.0,1050.0 L661.0,1050.1 L662.0,1049.8 L663.0,1049.8 L664.0,1050.2 L665.0,1049.9 L666.0,1049.2 L667.0,1049.7 L668.0,1050.6 L669.0,1049.5 L670.0,1050.0 L671.0,1049.8 L672.0,1050.8 L673.0,1050.3 L674.0,1050.6 L675.0,1050.7 L676.0,1049.9 L677.0,1051.1 L678.0,1051.0 L679.0,1050.7 L680.0,1050.9 L681.0,1050.4 L682.0,1050.7 L683.0,1051.2 L684.0,1050.5 L685.0,1050.5 L686.0,1050.8 L687.0,1051.2 L688.0,1050.4 L689.0,1050.5 L690.0,1051.1 L691.0,1050.5 L692.0,1050.8 L693.0,1051.8 L694.0,1051.5 L695.0,1051.1 L696.0,1051.7 L697.0,1052.1 L698.0,1051.1 L699.0,1051.3 L700.0,1051.8 L701.0,1051.6 L702.0,1051.6 L703.0,1051.5 L704.0,1051.5" fill="none" stroke="#0000FF" stroke-width="6" stroke-linejoin="round" stroke-linecap="round"/>
<path d="M155.5,1322 C158,1250 158.5,1180 162,1130 C166,1095 176,1070 190,1059" transform="translate(1.6,1.2)" fill="none" stroke="#0000FF" stroke-width="7"/>
<path d="M190.0,1060.8 L191.0,1059.6 L192.0,1059.1 L193.0,1058.4 L194.0,1058.0 L195.0,1058.3 L196.0,1057.4 L197.0,1057.6 L198.0,1056.4 L199.0,1056.3 L200.0,1055.2 L201.0,1054.5 L202.0,1055.1 L203.0,1054.1 L204.0,1054.1 L205.0,1054.3 L206.0,1053.2 L207.0,1052.6 L208.0,1053.2 L209.0,1053.1 L210.0,1052.9 L211.0,1052.5 L212.0,1051.4 L213.0,1051.2 L214.0,1051.5 L215.0,1052.0 L216.0,1051.1 L217.0,1051.3 L218.0,1050.4 L219.0,1050.3 L220.0,1050.7 L221.0,1050.8 L222.0,1050.2 L223.0,1049.8 L224.0,1050.2 L225.0,1050.5 L226.0,1049.8 L227.0,1049.8 L228.0,1049.8 L229.0,1049.2 L230.0,1050.1 L231.0,1049.8 L232.0,1049.5 L233.0,1049.2 L234.0,1049.3 L235.0,1050.1 L236.0,1049.7 L237.0,1049.2 L238.0,1049.7 L239.0,1049.6 L240.0,1049.1 L241.0,1049.7 L242.0,1049.6 L243.0,1048.6 L244.0,1048.7 L245.0,1049.7 L246.0,1049.8 L247.0,1049.1 L248.0,1048.6 L249.0,1048.6 L250.0,1049.2 L251.0,1048.5 L252.0,1049.5 L253.0,1048.7 L254.0,1049.1 L255.0,1049.5 L256.0,1049.3 L257.0,1049.3 L258.0,1049.2 L259.0,1049.7 L260.0,1049.5 L261.0,1048.6 L262.0,1048.5 L263.0,1048.7 L264.0,1048.6 L265.0,1048.6 L266.0,1049.3 L267.0,1049.5 L268.0,1048.6 L269.0,1048.5 L270.0,1049.0 L271.0,1048.7 L272.0,1049.1 L273.0,1048.2 L274.0,1049.3 L275.0,1048.5 L276.0,1048.6 L277.0,1049.2 L278.0,1048.6 L279.0,1049.4 L280.0,1049.4 L281.0,1049.0 L282.0,1049.4 L283.0,1048.4 L284.0,1049.4 L285.0,1048.5 L286.0,1048.7 L287.0,1048.6 L288.0,1048.8 L289.0,1048.2 L290.0,1049.4 L291.0,1048.5 L292.0,1049.2 L293.0,1048.5 L294.0,1049.0 L295.0,1048.3 L296.0,1048.2 L297.0,1049.2 L298.0,1048.9 L299.0,1048.2 L300.0,1048.6 L301.0,1048.2 L302.0,1048.2 L303.0,1049.2 L304.0,1048.7 L305.0,1048.7 L306.0,1049.3 L307.0,1049.2 L308.0,1049.2 L309.0,1048.1 L310.0,1048.1 L311.0,1048.2 L312.0,1049.0 L313.0,1048.2 L314.0,1048.5 L315.0,1048.3 L316.0,1048.5 L317.0,1048.7 L318.0,1048.6 L319.0,1048.9 L320.0,1048.8 L321.0,1049.0 L322.0,1048.3 L323.0,1048.7 L324.0,1048.7 L325.0,1049.0 L326.0,1049.0 L327.0,1048.7 L328.0,1048.4 L329.0,1049.0 L330.0,1048.1 L331.0,1048.8 L332.0,1048.2 L333.0,1048.2 L334.0,1048.8 L335.0,1049.0 L336.0,1048.2 L337.0,1048.5 L338.0,1048.9 L339.0,1048.9 L340.0,1048.3 L341.0,1048.1 L342.0,1049.0 L343.0,1047.9 L344.0,1048.1 L345.0,1048.3 L346.0,1048.2 L347.0,1049.0 L348.0,1048.9 L349.0,1048.3 L350.0,1049.0 L351.0,1049.2 L352.0,1048.7 L353.0,1048.0 L354.0,1048.7 L355.0,1049.2 L356.0,1048.5 L357.0,1048.2 L358.0,1048.6 L359.0,1048.3 L360.0,1048.0 L361.0,1049.2 L362.0,1047.8 L363.0,1048.0 L364.0,1049.0 L365.0,1049.0 L366.0,1048.6 L367.0,1048.1 L368.0,1048.5 L369.0,1047.9 L370.0,1048.5 L371.0,1047.8 L372.0,1048.4 L373.0,1048.6 L374.0,1048.6 L375.0,1048.1 L376.0,1048.6 L377.0,1049.0 L378.0,1048.6 L379.0,1048.1 L380.0,1048.4 L381.0,1048.1 L382.0,1048.8 L383.0,1048.1 L384.0,1047.7 L385.0,1048.9 L386.0,1047.7 L387.0,1047.5 L388.0,1048.3 L389.0,1048.4 L390.0,1048.6 L391.0,1048.6 L392.0,1047.7 L393.0,1048.7 L394.0,1047.7 L395.0,1047.7 L396.0,1048.6 L397.0,1047.5 L398.0,1048.1 L399.0,1046.4 L400.0,1046.4 L401.0,1046.6 L402.0,1045.0 L403.0,1045.7 L404.0,1044.5 L405.0,1043.5 L406.0,1043.1 L407.0,1043.1 L408.0,1043.3 L409.0,1041.9 L410.0,1041.5 L411.0,1041.4 L412.0,1041.6 L413.0,1040.2 L414.0,1039.8 L415.0,1039.2 L416.0,1038.6 L417.0,1039.1 L418.0,1038.4 L419.0,1037.3 L420.0,1037.5 L421.0,1037.1 L422.0,1035.9 L423.0,1034.8 L424.0,1034.9 L425.0,1033.5 L426.0,1032.8 L427.0,1033.1 L428.0,1030.9 L429.0,1030.3 L430.0,1030.2 L431.0,1028.3 L432.0,1027.8 L433.0,1025.8 L434.0,1025.2 L435.0,1024.4 L436.0,1022.7 L437.0,1021.5 L438.0,1019.9 L439.0,1018.8 L440.0,1017.2 L441.0,1016.1 L442.0,1013.9 L443.0,1013.2 L444.0,1011.0 L445.0,1010.2 L446.0,1009.6 L447.0,1008.4 L448.0,1006.1 L449.0,1004.8 L450.0,1004.3 L451.0,1003.2 L452.0,1000.8 L453.0,999.7 L454.0,997.8 L455.0,996.5 L456.0,995.6 L457.0,993.4 L458.0,992.3 L459.0,990.5 L460.0,988.8 L461.0,987.2 L462.0,986.4 L463.0,984.5 L464.0,983.9 L465.0,982.9 L466.0,981.5 L467.0,981.2 L468.0,980.1 L469.0,979.4 L470.0,979.8 L471.0,979.7 L472.0,979.5 L473.0,979.5 L474.0,979.1 L475.0,979.6 L476.0,979.5 L477.0,981.0 L478.0,980.2 L479.0,981.5 L480.0,981.6 L481.0,981.3 L482.0,982.2 L483.0,982.0 L484.0,982.5 L485.0,983.5 L486.0,984.0 L487.0,983.7 L488.0,984.5 L489.0,985.0 L490.0,986.5 L491.0,986.7 L492.0,988.3 L493.0,988.9 L494.0,990.5 L495.0,992.1 L496.0,992.5 L497.0,994.1 L498.0,994.8 L499.0,997.3 L500.0,998.4 L501.0,998.7 L502.0,1001.2 L503.0,1001.5 L504.0,1003.7 L505.0,1005.1 L506.0,1006.0 L507.0,1006.4 L508.0,1008.1 L509.0,1009.6 L510.0,1011.6 L511.0,1012.5 L512.0,1013.4 L513.0,1015.9 L514.0,1016.3 L515.0,1018.7 L516.0,1020.2 L517.0,1020.9 L518.0,1021.8 L519.0,1022.5 L520.0,1023.5 L521.0,1025.8 L522.0,1025.5 L523.0,1027.5 L524.0,1027.8 L525.0,1029.2 L526.0,1029.0 L527.0,1030.6 L528.0,1031.4 L529.0,1031.5 L530.0,1032.2 L531.0,1033.4 L532.0,1034.2 L533.0,1035.1 L534.0,1036.0 L535.0,1036.4 L536.0,1037.2 L537.0,1036.9 L538.0,1037.2 L539.0,1037.7 L540.0,1038.9 L541.0,1039.2 L542.0,1039.5 L543.0,1040.1 L544.0,1040.1 L545.0,1041.2 L546.0,1040.3 L547.0,1041.4 L548.0,1041.4 L549.0,1041.9 L550.0,1042.3 L551.0,1043.2 L552.0,1042.5 L553.0,1042.7 L554.0,1042.8 L555.0,1044.0 L556.0,1044.2 L557.0,1043.9 L558.0,1044.4 L559.0,1044.3 L560.0,1044.5 L561.0,1044.8 L562.0,1044.7 L563.0,1044.9 L564.0,1046.0 L565.0,1045.5 L566.0,1045.5 L567.0,1046.5 L568.0,1046.8 L569.0,1046.6 L570.0,1046.7 L571.0,1047.2 L572.0,1046.1 L573.0,1047.5 L574.0,1047.3 L575.0,1047.6 L576.0,1046.9 L577.0,1047.4 L578.0,1048.0 L579.0,1047.0 L580.0,1047.2 L581.0,1047.7 L582.0,1048.4 L583.0,1048.0 L584.0,1048.4 L585.0,1048.7 L586.0,1048.6 L587.0,1049.2 L588.0,1048.6 L589.0,1049.2 L590.0,1048.7 L591.0,1048.5 L592.0,1048.9 L593.0,1049.1 L594.0,1048.9 L595.0,1049.8 L596.0,1049.1 L597.0,1049.9 L598.0,1049.5 L599.0,1049.4 L600.0,1049.7 L601.0,1050.1 L602.0,1049.6 L603.0,1049.3 L604.0,1050.6 L605.0,1049.4 L606.0,1049.8 L607.0,1049.8 L608.0,1050.0 L609.0,1050.2 L610.0,1050.0 L611.0,1050.4 L612.0,1050.9 L613.0,1050.7 L614.0,1050.9 L615.0,1050.0 L616.0,1050.9 L617.0,1049.9 L618.0,1051.1 L619.0,1049.8 L620.0,1050.0 L621.0,1049.8 L622.0,1050.2 L623.0,1050.8 L624.0,1050.3 L625.0,1050.5 L626.0,1049.9 L627.0,1050.2 L628.0,1050.3 L629.0,1050.7 L630.0,1050.6 L631.0,1051.3 L632.0,1051.0 L633.0,1050.7 L634.0,1050.4 L635.0,1051.3 L636.0,1050.1 L637.0,1050.7 L638.0,1050.3 L639.0,1051.1 L640.0,1051.0 L641.0,1050.9 L642.0,1050.6 L643.0,1050.8 L644.0,1050.8 L645.0,1051.3 L646.0,1050.8 L647.0,1050.4 L648.0,1051.6 L649.0,1051.2 L650.0,1050.5 L651.0,1050.6 L652.0,1050.7 L653.0,1050.5 L654.0,1051.1 L655.0,1050.7 L656.0,1051.0 L657.0,1050.9 L658.0,1051.9 L659.0,1051.2 L660.0,1051.1 L661.0,1051.6 L662.0,1050.7 L663.0,1051.6 L664.0,1050.8 L665.0,1051.4 L666.0,1051.3 L667.0,1052.0 L668.0,1050.9 L669.0,1051.4 L670.0,1051.9 L671.0,1051.2 L672.0,1051.6 L673.0,1051.8 L674.0,1051.8 L675.0,1051.9 L676.0,1051.2 L677.0,1051.7 L678.0,1051.1 L679.0,1051.7 L680.0,1051.0 L681.0,1051.6 L682.0,1052.3 L683.0,1052.2 L684.0,1051.1 L685.0,1052.2 L686.0,1051.9 L687.0,1051.0 L688.0,1052.0 L689.0,1052.0 L690.0,1052.2 L691.0,1051.2 L692.0,1051.5 L693.0,1052.4 L694.0,1051.9 L695.0,1051.9 L696.0,1051.7 L697.0,1051.4 L698.0,1052.0 L699.0,1051.3 L700.0,1052.1 L701.0,1052.5 L702.0,1052.6 L703.0,1052.0 L704.0,1052.1" fill="none" stroke="#FF2828" stroke-width="6" stroke-linejoin="round" stroke-linecap="round"/>
<path d="M155.5,1322 C158,1250 158.5,1180 162,1130 C166,1095 176,1070 190,1059" transform="translate(1,0.8)" fill="none" stroke="#FF2828" stroke-width="7"/>
<path d="M205.0,1052.0 L206.0,1051.1 L207.0,1050.9 L208.0,1051.6 L209.0,1050.9 L210.0,1051.4 L211.0,1050.7 L212.0,1050.9 L213.0,1051.4 L214.0,1050.9 L215.0,1050.7 L216.0,1051.4 L217.0,1050.9 L218.0,1050.9 L219.0,1051.2 L220.0,1050.7 L221.0,1052.1 L222.0,1051.7 L223.0,1050.6 L224.0,1050.6 L225.0,1051.3 L226.0,1051.2 L227.0,1051.3 L228.0,1051.9 L229.0,1051.8 L230.0,1051.6 L231.0,1051.2 L232.0,1051.1 L233.0,1051.6 L234.0,1051.9 L235.0,1051.1 L236.0,1050.9 L237.0,1050.5 L238.0,1051.8 L239.0,1050.4 L240.0,1051.4 L241.0,1050.8 L242.0,1051.6 L243.0,1051.8 L244.0,1051.2 L245.0,1051.0 L246.0,1051.5 L247.0,1050.3 L248.0,1051.7 L249.0,1050.9 L250.0,1051.6 L251.0,1050.6 L252.0,1050.4 L253.0,1050.3 L254.0,1050.6 L255.0,1050.8 L256.0,1051.3 L257.0,1051.0 L258.0,1051.5 L259.0,1051.2 L260.0,1050.6 L261.0,1050.5 L262.0,1050.3 L263.0,1050.4 L264.0,1051.6 L265.0,1051.3 L266.0,1050.5 L267.0,1050.8 L268.0,1051.0 L269.0,1051.4 L270.0,1051.5 L271.0,1050.6 L272.0,1051.6 L273.0,1050.7 L274.0,1051.4 L275.0,1051.4 L276.0,1051.0 L277.0,1051.4 L278.0,1051.0 L279.0,1051.6 L280.0,1051.4 L281.0,1051.3 L282.0,1050.3 L283.0,1050.4 L284.0,1051.5 L285.0,1051.7 L286.0,1051.1 L287.0,1050.3 L288.0,1051.4 L289.0,1051.2 L290.0,1050.6 L291.0,1051.8 L292.0,1051.0 L293.0,1051.7 L294.0,1051.3 L295.0,1050.9 L296.0,1051.6 L297.0,1051.4 L298.0,1050.8 L299.0,1051.6 L300.0,1050.2 L301.0,1051.4 L302.0,1051.5 L303.0,1051.5 L304.0,1051.2 L305.0,1051.1 L306.0,1050.3 L307.0,1051.8 L308.0,1051.3 L309.0,1051.0 L310.0,1051.4 L311.0,1051.0 L312.0,1051.1 L313.0,1050.8 L314.0,1051.1 L315.0,1051.3 L316.0,1051.2 L317.0,1050.7 L318.0,1050.7 L319.0,1050.5 L320.0,1051.5 L321.0,1050.8 L322.0,1050.5 L323.0,1051.5 L324.0,1050.9 L325.0,1050.6 L326.0,1051.0 L327.0,1050.6 L328.0,1050.2 L329.0,1050.9 L330.0,1051.2 L331.0,1051.6 L332.0,1051.3 L333.0,1051.1 L334.0,1051.7 L335.0,1050.8 L336.0,1050.9 L337.0,1050.2 L338.0,1051.7 L339.0,1051.6 L340.0,1050.2 L341.0,1050.7 L342.0,1051.3 L343.0,1051.6 L344.0,1050.4 L345.0,1051.7 L346.0,1051.0 L347.0,1050.8 L348.0,1051.7 L349.0,1051.5 L350.0,1050.9 L351.0,1051.1 L352.0,1050.9 L353.0,1051.2 L354.0,1051.7 L355.0,1051.2 L356.0,1050.2 L357.0,1051.4 L358.0,1050.6 L359.0,1051.6 L360.0,1051.0 L361.0,1051.6 L362.0,1051.3 L363.0,1051.3 L364.0,1051.5 L365.0,1050.6 L366.0,1050.3 L367.0,1050.3 L368.0,1051.2 L369.0,1051.0 L370.0,1051.1 L371.0,1050.8 L372.0,1050.9 L373.0,1050.4 L374.0,1050.7 L375.0,1051.7 L376.0,1050.7 L377.0,1051.4 L378.0,1051.5 L379.0,1051.7 L380.0,1051.4 L381.0,1051.6 L382.0,1050.3 L383.0,1051.4 L384.0,1050.6 L385.0,1051.4 L386.0,1050.6 L387.0,1050.4 L388.0,1051.2 L389.0,1051.7 L390.0,1050.9 L391.0,1051.5 L392.0,1050.2 L393.0,1051.5 L394.0,1050.9 L395.0,1050.6 L396.0,1051.6 L397.0,1051.7 L398.0,1050.3 L399.0,1051.5 L400.0,1051.0 L401.0,1051.1 L402.0,1050.8 L403.0,1050.2 L404.0,1049.6 L405.0,1048.9 L406.0,1048.7 L407.0,1047.9 L408.0,1048.2 L409.0,1047.5 L410.0,1047.3 L411.0,1047.0 L412.0,1046.3 L413.0,1045.2 L414.0,1044.2 L415.0,1044.7 L416.0,1044.3 L417.0,1043.2 L418.0,1042.5 L419.0,1041.2 L420.0,1040.4 L421.0,1039.8 L422.0,1039.3 L423.0,1038.7 L424.0,1038.7 L425.0,1038.5 L426.0,1037.5 L427.0,1037.1 L428.0,1035.8 L429.0,1034.4 L430.0,1034.6 L431.0,1033.4 L432.0,1032.1 L433.0,1032.3 L434.0,1031.5 L435.0,1030.3 L436.0,1029.6 L437.0,1027.3 L438.0,1026.2 L439.0,1026.3 L440.0,1024.4 L441.0,1024.3 L442.0,1023.2 L443.0,1021.3 L444.0,1020.2 L445.0,1019.6 L446.0,1018.9 L447.0,1016.6 L448.0,1016.3 L449.0,1015.1 L450.0,1013.7 L451.0,1011.9 L452.0,1009.8 L453.0,1009.7 L454.0,1006.8 L455.0,1005.7 L456.0,1004.0 L457.0,1003.6 L458.0,1001.4 L459.0,999.6 L460.0,998.8 L461.0,997.6 L462.0,996.1 L463.0,993.8 L464.0,993.1 L465.0,991.4 L466.0,991.5 L467.0,990.5 L468.0,988.6 L469.0,987.4 L470.0,985.9 L471.0,985.2 L472.0,984.2 L473.0,983.4 L474.0,983.4 L475.0,982.5 L476.0,981.4 L477.0,979.3 L478.0,979.7 L479.0,978.7 L480.0,978.9 L481.0,977.4 L482.0,977.4 L483.0,977.3 L484.0,978.2 L485.0,977.4 L486.0,978.1 L487.0,978.1 L488.0,979.3 L489.0,979.6 L490.0,981.0 L491.0,982.3 L492.0,983.0 L493.0,984.0 L494.0,984.7 L495.0,986.4 L496.0,987.0 L497.0,988.1 L498.0,989.2 L499.0,990.0 L500.0,991.1 L501.0,991.8 L502.0,993.6 L503.0,993.3 L504.0,995.3 L505.0,996.0 L506.0,997.4 L507.0,998.7 L508.0,1000.1 L509.0,1001.3 L510.0,1002.9 L511.0,1004.6 L512.0,1005.8 L513.0,1007.2 L514.0,1009.0 L515.0,1009.8 L516.0,1011.2 L517.0,1011.3 L518.0,1012.3 L519.0,1013.4 L520.0,1015.2 L521.0,1016.4 L522.0,1016.8 L523.0,1017.3 L524.0,1018.5 L525.0,1020.0 L526.0,1020.4 L527.0,1021.2 L528.0,1022.0 L529.0,1023.0 L530.0,1024.0 L531.0,1024.4 L532.0,1026.2 L533.0,1025.9 L534.0,1026.3 L535.0,1027.5 L536.0,1029.0 L537.0,1028.6 L538.0,1028.7 L539.0,1029.3 L540.0,1031.3 L541.0,1031.8 L542.0,1031.6 L543.0,1032.6 L544.0,1032.4 L545.0,1033.4 L546.0,1033.9 L547.0,1034.9 L548.0,1035.5 L549.0,1035.8 L550.0,1035.4 L551.0,1036.9 L552.0,1036.7 L553.0,1036.8 L554.0,1037.5 L555.0,1038.0 L556.0,1039.0 L557.0,1038.8 L558.0,1038.9 L559.0,1039.7 L560.0,1039.7 L561.0,1040.6 L562.0,1040.4 L563.0,1040.7 L564.0,1041.3 L565.0,1040.9 L566.0,1042.0 L567.0,1041.6 L568.0,1041.2 L569.0,1042.6 L570.0,1042.7 L571.0,1042.9 L572.0,1043.3 L573.0,1042.3 L574.0,1043.2 L575.0,1043.4 L576.0,1042.6 L577.0,1043.3 L578.0,1044.4 L579.0,1044.6 L580.0,1044.6 L581.0,1044.2 L582.0,1044.5 L583.0,1043.7 L584.0,1044.4 L585.0,1044.1 L586.0,1044.7 L587.0,1044.5 L588.0,1044.7 L589.0,1045.1 L590.0,1044.5 L591.0,1046.1 L592.0,1044.9 L593.0,1046.2 L594.0,1045.6 L595.0,1046.0 L596.0,1046.7 L597.0,1045.3 L598.0,1046.6 L599.0,1046.9 L600.0,1046.7 L601.0,1047.2 L602.0,1046.6 L603.0,1047.0 L604.0,1047.4 L605.0,1046.2 L606.0,1047.6 L607.0,1047.4 L608.0,1047.3 L609.0,1047.1 L610.0,1046.9 L611.0,1047.5 L612.0,1046.8 L613.0,1046.9 L614.0,1047.5 L615.0,1047.5 L616.0,1047.7 L617.0,1048.5 L618.0,1048.1 L619.0,1047.7 L620.0,1048.8 L621.0,1047.8 L622.0,1047.7 L623.0,1047.8 L624.0,1048.6 L625.0,1048.6 L626.0,1048.1 L627.0,1048.3 L628.0,1048.8 L629.0,1049.2 L630.0,1049.3 L631.0,1049.6 L632.0,1048.5 L633.0,1048.5 L634.0,1048.6 L635.0,1049.5 L636.0,1049.5 L637.0,1048.8 L638.0,1049.5 L639.0,1049.6 L640.0,1049.8 L641.0,1050.0 L642.0,1050.2 L643.0,1049.1 L644.0,1049.4 L645.0,1049.5 L646.0,1050.4 L647.0,1049.8 L648.0,1050.5 L649.0,1050.0 L650.0,1050.5 L651.0,1049.2 L652.0,1050.6 L653.0,1050.3 L654.0,1050.8 L655.0,1049.6 L656.0,1049.8 L657.0,1050.1 L658.0,1050.8 L659.0,1050.4 L660.0,1050.1 L661.0,1049.7 L662.0,1049.9 L663.0,1049.7 L664.0,1050.8 L665.0,1050.6 L666.0,1050.5 L667.0,1051.2 L668.0,1051.0 L669.0,1050.0 L670.0,1050.2 L671.0,1050.8 L672.0,1050.4 L673.0,1051.5 L674.0,1050.6 L675.0,1050.9 L676.0,1051.1 L677.0,1050.2 L678.0,1051.0 L679.0,1051.2 L680.0,1050.9 L681.0,1050.5 L682.0,1050.9 L683.0,1050.9 L684.0,1052.1 L685.0,1051.5 L686.0,1050.8 L687.0,1051.3 L688.0,1050.6 L689.0,1050.7 L690.0,1051.3 L691.0,1050.8 L692.0,1051.0 L693.0,1052.0 L694.0,1052.2 L695.0,1052.5 L696.0,1051.8 L697.0,1052.1 L698.0,1051.6 L699.0,1051.4 L700.0,1051.2 L701.0,1052.0 L702.0,1052.2 L703.0,1052.6 L704.0,1052.2" fill="none" stroke="#000" stroke-width="6.5" stroke-linejoin="round" stroke-linecap="round"/>
<path d="M155.5,1322 C158,1250 158.5,1180 162,1130 C166,1095 176,1070 190,1059 C200,1054 210,1052 222,1051" fill="none" stroke="#000" stroke-width="8"/>
<path d="M80.0,1056.5 L81.0,1056.7 L82.0,1055.6 L83.0,1055.3 L84.0,1056.2 L85.0,1055.5 L86.0,1055.8 L87.0,1056.5 L88.0,1055.5 L89.0,1056.8 L90.0,1056.5 L91.0,1056.4 L92.0,1055.8 L93.0,1055.4 L94.0,1055.7 L95.0,1056.6 L96.0,1056.7 L97.0,1056.0 L98.0,1056.6 L99.0,1056.7 L100.0,1056.6 L101.0,1055.9 L102.0,1055.9 L103.0,1055.9 L104.0,1056.3 L105.0,1056.5 L106.0,1056.1 L107.0,1056.3 L108.0,1056.6 L109.0,1055.8 L110.0,1055.2 L111.0,1056.4 L112.0,1055.4 L113.0,1056.4 L114.0,1056.8 L115.0,1055.6 L116.0,1056.1 L117.0,1056.3 L118.0,1056.5 L119.0,1056.0 L120.0,1056.2 L121.0,1057.4 L122.0,1057.3 L123.0,1056.2 L124.0,1057.3 L125.0,1056.2 L126.0,1057.6 L127.0,1056.5 L128.0,1057.9 L129.0,1058.2 L130.0,1057.7 L131.0,1057.6 L132.0,1058.7 L133.0,1058.1 L134.0,1058.4 L135.0,1058.7" fill="none" stroke="#FF2828" stroke-width="6" transform="translate(0,1)"/>
<path d="M80.0,1056.5 L81.0,1056.7 L82.0,1055.6 L83.0,1055.3 L84.0,1056.2 L85.0,1055.5 L86.0,1055.8 L87.0,1056.5 L88.0,1055.5 L89.0,1056.8 L90.0,1056.5 L91.0,1056.4 L92.0,1055.8 L93.0,1055.4 L94.0,1055.7 L95.0,1056.6 L96.0,1056.7 L97.0,1056.0 L98.0,1056.6 L99.0,1056.7 L100.0,1056.6 L101.0,1055.9 L102.0,1055.9 L103.0,1055.9 L104.0,1056.3 L105.0,1056.5 L106.0,1056.1 L107.0,1056.3 L108.0,1056.6 L109.0,1055.8 L110.0,1055.2 L111.0,1056.4 L112.0,1055.4 L113.0,1056.4 L114.0,1056.8 L115.0,1055.6 L116.0,1056.1 L117.0,1056.3 L118.0,1056.5 L119.0,1056.0 L120.0,1056.2 L121.0,1057.4 L122.0,1057.3 L123.0,1056.2 L124.0,1057.3 L125.0,1056.2 L126.0,1057.6 L127.0,1056.5 L128.0,1057.9 L129.0,1058.2 L130.0,1057.7 L131.0,1057.6 L132.0,1058.7 L133.0,1058.1 L134.0,1058.4 L135.0,1058.7" fill="none" stroke="#000" stroke-width="7"/>
<path d="M132,1052 C136,1051 138.5,1047 140,1030 L142.5,900 L143.5,751" fill="none" stroke="#FF8C28" stroke-width="2.2"/>
<path d="M133,1054 C137,1053 139.5,1049 141,1030 L143.2,900 L144,790" fill="none" stroke="#007800" stroke-width="2"/>
<path d="M134,1056 C138,1055 140.5,1050 142,1030 L144,950" fill="none" stroke="#0000FF" stroke-width="2.2"/>
<path d="M134,1058.5 C139,1058.5 141.5,1053 143,1030 L145,950" fill="none" stroke="#000" stroke-width="7"/>
<path d="M143.8,1000 L143.8,751 L151.5,751 L152.5,820 Z" fill="#FF8C28"/>
<path d="M144.5,1000 L144.5,754 L152,754 L153,900 Z" fill="#0000FF"/>
<path d="M145.6,1060 L146.4,1100 L147,1140" fill="none" stroke="#FF8C28" stroke-width="2"/>
<path d="M144.5,800 L143.3,1000 L142.5,1040 L144.5,1062 L146.8,1075 L147.3,1100 L149.5,1200 L152.5,1322 L158.5,1322 L157.5,1200 L156.6,1100 L156,1000 L154.8,950 L152.3,800 Z" fill="#000"/>
<rect x="152.5" y="1320" width="6.5" height="14" fill="#FF2828"/>
<line x1="149" y1="765" x2="149" y2="792" stroke="#000" stroke-width="1.2"/>
<line x1="151.5" y1="775" x2="487" y2="775" stroke="#000" stroke-width="3.2"/>
<line x1="487" y1="764" x2="487" y2="786" stroke="#000" stroke-width="3.6"/>
<line x1="487" y1="792" x2="487" y2="978" stroke="#000" stroke-width="3.7" stroke-dasharray="2.9 7.15" stroke-linecap="round"/>
<text x="512" y="778" font-family="'Liberation Serif', serif" font-size="35.5" font-weight="bold" text-anchor="start" >a</text>
<line x1="151.5" y1="813.75" x2="472.5" y2="813.75" stroke="#000" stroke-width="3.2"/>
<line x1="472.5" y1="802.75" x2="472.5" y2="824.75" stroke="#000" stroke-width="3.6"/>
<line x1="472.5" y1="830.75" x2="472.5" y2="981" stroke="#000" stroke-width="3.7" stroke-dasharray="2.9 7.15" stroke-linecap="round"/>
<text x="502" y="825" font-family="'Liberation Serif', serif" font-size="34" font-weight="bold" text-anchor="start" >b</text>
<line x1="151.5" y1="861.25" x2="505.75" y2="861.25" stroke="#000" stroke-width="3.2"/>
<line x1="505.75" y1="850.25" x2="505.75" y2="872.25" stroke="#000" stroke-width="3.6"/>
<line x1="505.75" y1="878.25" x2="505.75" y2="998" stroke="#000" stroke-width="3.7" stroke-dasharray="2.9 7.15" stroke-linecap="round"/>
<text x="531.5" y="873" font-family="'Liberation Serif', serif" font-size="34" font-weight="bold" text-anchor="start" >c</text>
<line x1="151.5" y1="908" x2="534.25" y2="908" stroke="#000" stroke-width="3.2"/>
<line x1="534.25" y1="897" x2="534.25" y2="919" stroke="#000" stroke-width="3.6"/>
<line x1="534.25" y1="925" x2="534.25" y2="1004" stroke="#000" stroke-width="3.7" stroke-dasharray="2.9 7.15" stroke-linecap="round"/>
<text x="559" y="921" font-family="'Liberation Serif', serif" font-size="34" font-weight="bold" text-anchor="start" >d</text>
<line x1="151.5" y1="951.25" x2="567.5" y2="951.25" stroke="#000" stroke-width="3.2"/>
<line x1="567.5" y1="940.25" x2="567.5" y2="962.25" stroke="#000" stroke-width="3.6"/>
<line x1="567.5" y1="968.25" x2="567.5" y2="1016" stroke="#000" stroke-width="3.7" stroke-dasharray="2.9 7.15" stroke-linecap="round"/>
<text x="583.5" y="961" font-family="'Liberation Serif', serif" font-size="34" font-weight="bold" text-anchor="start" >e</text>
<path d="M45.4,1254.3 L45.4,1372.5 L150.4,1372.5" fill="none" stroke="#000" stroke-width="3.2"/>
<text x="45.5" y="1413" font-family="'Liberation Serif', serif" font-size="40" font-weight="bold" text-anchor="start" >100 ms</text>
<text transform="translate(29.9,1380.9) rotate(-90)" x="0" y="0" font-family="'Liberation Serif', serif" font-size="40" font-weight="bold" letter-spacing="-1.5">100</text>
<text transform="translate(25.5,1303) rotate(-90) scale(1.2,1)" x="0" y="0" font-family="'Liberation Serif', serif" font-size="36" font-weight="normal">&#956;</text>
<text transform="translate(30.4,1271) rotate(-90)" x="0" y="0" font-family="'Liberation Serif', serif" font-size="40" font-weight="bold">V</text>
<text x="425.5" y="1375" font-family="'Liberation Serif', serif" font-size="40.5" font-weight="bold" text-anchor="middle" >Synephrine</text>
<text x="765.7" y="38" font-family="'Liberation Sans', sans-serif" font-size="43" font-weight="bold" text-anchor="start" >B</text>
<line x1="941.5" y1="59.3" x2="941.5" y2="534.9" stroke="#000" stroke-width="4.6"/>
<line x1="921.3" y1="61.599999999999994" x2="941.5" y2="61.599999999999994" stroke="#000" stroke-width="4.5"/>
<text x="916" y="73.6" font-family="'Liberation Serif', serif" font-size="36" font-weight="bold" text-anchor="end" >20</text>
<line x1="921.3" y1="140.1" x2="941.5" y2="140.1" stroke="#000" stroke-width="4.5"/>
<text x="916" y="152.1" font-family="'Liberation Serif', serif" font-size="36" font-weight="bold" text-anchor="end" >10</text>
<line x1="921.3" y1="297.1" x2="941.5" y2="297.1" stroke="#000" stroke-width="4.5"/>
<text x="916" y="309.1" font-family="'Liberation Serif', serif" font-size="36" font-weight="bold" text-anchor="end" >10</text>
<rect x="871.3" y="299.3" width="9.9" height="3.4" fill="#000"/>
<line x1="921.3" y1="375.6" x2="941.5" y2="375.6" stroke="#000" stroke-width="4.5"/>
<text x="916" y="387.6" font-family="'Liberation Serif', serif" font-size="36" font-weight="bold" text-anchor="end" >20</text>
<rect x="871.3" y="377.8" width="9.9" height="3.4" fill="#000"/>
<line x1="921.3" y1="454.1" x2="941.5" y2="454.1" stroke="#000" stroke-width="4.5"/>
<text x="916" y="466.1" font-family="'Liberation Serif', serif" font-size="36" font-weight="bold" text-anchor="end" >30</text>
<rect x="871.3" y="456.3" width="9.9" height="3.4" fill="#000"/>
<line x1="921.3" y1="532.6" x2="941.5" y2="532.6" stroke="#000" stroke-width="4.5"/>
<text x="916" y="544.6" font-family="'Liberation Serif', serif" font-size="36" font-weight="bold" text-anchor="end" >40</text>
<rect x="871.3" y="534.8" width="9.9" height="3.4" fill="#000"/>
<line x1="921.3" y1="59.3" x2="943.8" y2="59.3" stroke="#000" stroke-width="0"/>
<line x1="894.3" y1="218.6" x2="1372" y2="218.6" stroke="#000" stroke-width="4.5"/>
<line x1="953.5" y1="297.1" x2="1367" y2="297.1" stroke="#000" stroke-width="4.4" stroke-linecap="round" stroke-dasharray="0 14.2"/>
<line x1="953.5" y1="454.1" x2="1367" y2="454.1" stroke="#000" stroke-width="4.4" stroke-linecap="round" stroke-dasharray="0 14.2"/>
<text x="1031.3999999999999" y="202.3" font-family="'Liberation Serif', serif" font-size="36" font-weight="bold" text-anchor="middle" >0</text>
<text x="1121.6" y="202.3" font-family="'Liberation Serif', serif" font-size="36" font-weight="bold" text-anchor="middle" >1</text>
<text x="1211.8" y="202.3" font-family="'Liberation Serif', serif" font-size="36" font-weight="bold" text-anchor="middle" >2</text>
<text x="1302.0" y="202.3" font-family="'Liberation Serif', serif" font-size="36" font-weight="bold" text-anchor="middle" >3</text>
<path d="M1067.0,236.5 H1086.0 M1076.5,236.5 V301.7 M1067.0,301.7 H1086.0" stroke="#FF0000" stroke-width="3" fill="none"/>
<path d="M1112.1,267 H1131.1 M1121.6,267 V333 M1112.1,333 H1131.1" stroke="#FF0000" stroke-width="3" fill="none"/>
<path d="M1157.2,285.6 H1176.2 M1166.7,285.6 V353.4 M1157.2,353.4 H1176.2" stroke="#FF0000" stroke-width="3" fill="none"/>
<path d="M1202.3,315.6 H1221.3 M1211.8,315.6 V394.6 M1202.3,394.6 H1221.3" stroke="#FF0000" stroke-width="3" fill="none"/>
<path d="M1247.4,320 H1266.4 M1256.9,320 V397 M1247.4,397 H1266.4" stroke="#FF0000" stroke-width="3" fill="none"/>
<path d="M1292.5,368 H1311.5 M1302.0,368 V478.4 M1292.5,478.4 H1311.5" stroke="#FF0000" stroke-width="3" fill="none"/>
<polyline points="986.3,216.8 1031.4,212.6 1076.5,269 1121.6,300 1166.7,319.4 1211.8,355 1256.9,358.4 1302.0,423.4" fill="none" stroke="#FF0000" stroke-width="5"/>
<rect x="976.5" y="207.0" width="19.6" height="19.6" fill="#FF0000"/>
<rect x="1021.6" y="202.79999999999998" width="19.6" height="19.6" fill="#FF0000"/>
<rect x="1066.7" y="259.2" width="19.6" height="19.6" fill="#FF0000"/>
<rect x="1111.8" y="290.2" width="19.6" height="19.6" fill="#FF0000"/>
<rect x="1156.9" y="309.59999999999997" width="19.6" height="19.6" fill="#FF0000"/>
<rect x="1202.0" y="345.2" width="19.6" height="19.6" fill="#FF0000"/>
<rect x="1247.1" y="348.59999999999997" width="19.6" height="19.6" fill="#FF0000"/>
<rect x="1292.2" y="413.59999999999997" width="19.6" height="19.6" fill="#FF0000"/>
<line x1="1031.4" y1="222.9" x2="1031.4" y2="244.2" stroke="#000" stroke-width="4.5"/>
<line x1="1121.6" y1="224.2" x2="1121.6" y2="244.2" stroke="#000" stroke-width="4.5"/>
<line x1="1211.8" y1="226.6" x2="1211.8" y2="244.2" stroke="#000" stroke-width="4.5"/>
<line x1="1302.0" y1="228" x2="1302.0" y2="244.2" stroke="#000" stroke-width="4.5"/>
<polyline points="986.3,218 1031.4,222.9 1076.5,219.8 1121.6,224.2 1166.7,223.8 1211.8,226.6 1256.9,225 1302.0,228 1347.1,225.7" fill="none" stroke="#000" stroke-width="5"/>
<circle cx="986.3" cy="218" r="9.5" fill="#000"/>
<circle cx="1031.4" cy="222.9" r="9.5" fill="#000"/>
<circle cx="1076.5" cy="219.8" r="9.5" fill="#000"/>
<circle cx="1121.6" cy="224.2" r="9.5" fill="#000"/>
<circle cx="1166.7" cy="223.8" r="9.5" fill="#000"/>
<circle cx="1211.8" cy="226.6" r="9.5" fill="#000"/>
<circle cx="1256.9" cy="225" r="9.5" fill="#000"/>
<circle cx="1302.0" cy="228" r="9.5" fill="#000"/>
<circle cx="1347.1" cy="225.7" r="9.5" fill="#000"/>
<path d="M1108.20,254.35 L1108.20,251.35 M1108.20,254.35 L1111.08,253.52 M1108.20,254.35 L1109.88,256.84 M1108.20,254.35 L1106.52,256.84 M1108.20,254.35 L1105.32,253.52 M1121.60,254.35 L1121.60,251.35 M1121.60,254.35 L1124.48,253.52 M1121.60,254.35 L1123.28,256.84 M1121.60,254.35 L1119.92,256.84 M1121.60,254.35 L1118.72,253.52 M1135.00,254.35 L1135.00,251.35 M1135.00,254.35 L1137.88,253.52 M1135.00,254.35 L1136.68,256.84 M1135.00,254.35 L1133.32,256.84 M1135.00,254.35 L1132.12,253.52" fill="none" stroke="#000" stroke-width="1.1"/>
<path d="M1107.00,251.10 a1.2,1.2 0 1,0 2.4,0 a1.2,1.2 0 1,0 -2.4,0 M1110.12,253.45 a1.2,1.2 0 1,0 2.4,0 a1.2,1.2 0 1,0 -2.4,0 M1108.82,257.04 a1.2,1.2 0 1,0 2.4,0 a1.2,1.2 0 1,0 -2.4,0 M1105.18,257.04 a1.2,1.2 0 1,0 2.4,0 a1.2,1.2 0 1,0 -2.4,0 M1103.88,253.45 a1.2,1.2 0 1,0 2.4,0 a1.2,1.2 0 1,0 -2.4,0 M1120.40,251.10 a1.2,1.2 0 1,0 2.4,0 a1.2,1.2 0 1,0 -2.4,0 M1123.52,253.45 a1.2,1.2 0 1,0 2.4,0 a1.2,1.2 0 1,0 -2.4,0 M1122.22,257.04 a1.2,1.2 0 1,0 2.4,0 a1.2,1.2 0 1,0 -2.4,0 M1118.58,257.04 a1.2,1.2 0 1,0 2.4,0 a1.2,1.2 0 1,0 -2.4,0 M1117.28,253.45 a1.2,1.2 0 1,0 2.4,0 a1.2,1.2 0 1,0 -2.4,0 M1133.80,251.10 a1.2,1.2 0 1,0 2.4,0 a1.2,1.2 0 1,0 -2.4,0 M1136.92,253.45 a1.2,1.2 0 1,0 2.4,0 a1.2,1.2 0 1,0 -2.4,0 M1135.62,257.04 a1.2,1.2 0 1,0 2.4,0 a1.2,1.2 0 1,0 -2.4,0 M1131.98,257.04 a1.2,1.2 0 1,0 2.4,0 a1.2,1.2 0 1,0 -2.4,0 M1130.68,253.45 a1.2,1.2 0 1,0 2.4,0 a1.2,1.2 0 1,0 -2.4,0" fill="#000"/>
<path d="M1153.30,273.95 L1153.30,270.95 M1153.30,273.95 L1156.18,273.12 M1153.30,273.95 L1154.98,276.44 M1153.30,273.95 L1151.62,276.44 M1153.30,273.95 L1150.42,273.12 M1166.70,273.95 L1166.70,270.95 M1166.70,273.95 L1169.58,273.12 M1166.70,273.95 L1168.38,276.44 M1166.70,273.95 L1165.02,276.44 M1166.70,273.95 L1163.82,273.12 M1180.10,273.95 L1180.10,270.95 M1180.10,273.95 L1182.98,273.12 M1180.10,273.95 L1181.78,276.44 M1180.10,273.95 L1178.42,276.44 M1180.10,273.95 L1177.22,273.12" fill="none" stroke="#000" stroke-width="1.1"/>
<path d="M1152.10,270.70 a1.2,1.2 0 1,0 2.4,0 a1.2,1.2 0 1,0 -2.4,0 M1155.22,273.05 a1.2,1.2 0 1,0 2.4,0 a1.2,1.2 0 1,0 -2.4,0 M1153.92,276.64 a1.2,1.2 0 1,0 2.4,0 a1.2,1.2 0 1,0 -2.4,0 M1150.28,276.64 a1.2,1.2 0 1,0 2.4,0 a1.2,1.2 0 1,0 -2.4,0 M1148.98,273.05 a1.2,1.2 0 1,0 2.4,0 a1.2,1.2 0 1,0 -2.4,0 M1165.50,270.70 a1.2,1.2 0 1,0 2.4,0 a1.2,1.2 0 1,0 -2.4,0 M1168.62,273.05 a1.2,1.2 0 1,0 2.4,0 a1.2,1.2 0 1,0 -2.4,0 M1167.32,276.64 a1.2,1.2 0 1,0 2.4,0 a1.2,1.2 0 1,0 -2.4,0 M1163.68,276.64 a1.2,1.2 0 1,0 2.4,0 a1.2,1.2 0 1,0 -2.4,0 M1162.38,273.05 a1.2,1.2 0 1,0 2.4,0 a1.2,1.2 0 1,0 -2.4,0 M1178.90,270.70 a1.2,1.2 0 1,0 2.4,0 a1.2,1.2 0 1,0 -2.4,0 M1182.02,273.05 a1.2,1.2 0 1,0 2.4,0 a1.2,1.2 0 1,0 -2.4,0 M1180.72,276.64 a1.2,1.2 0 1,0 2.4,0 a1.2,1.2 0 1,0 -2.4,0 M1177.08,276.64 a1.2,1.2 0 1,0 2.4,0 a1.2,1.2 0 1,0 -2.4,0 M1175.78,273.05 a1.2,1.2 0 1,0 2.4,0 a1.2,1.2 0 1,0 -2.4,0" fill="#000"/>
<path d="M1198.40,306.95 L1198.40,303.95 M1198.40,306.95 L1201.28,306.12 M1198.40,306.95 L1200.08,309.44 M1198.40,306.95 L1196.72,309.44 M1198.40,306.95 L1195.52,306.12 M1211.80,306.95 L1211.80,303.95 M1211.80,306.95 L1214.68,306.12 M1211.80,306.95 L1213.48,309.44 M1211.80,306.95 L1210.12,309.44 M1211.80,306.95 L1208.92,306.12 M1225.20,306.95 L1225.20,303.95 M1225.20,306.95 L1228.08,306.12 M1225.20,306.95 L1226.88,309.44 M1225.20,306.95 L1223.52,309.44 M1225.20,306.95 L1222.32,306.12" fill="none" stroke="#000" stroke-width="1.1"/>
<path d="M1197.20,303.70 a1.2,1.2 0 1,0 2.4,0 a1.2,1.2 0 1,0 -2.4,0 M1200.32,306.05 a1.2,1.2 0 1,0 2.4,0 a1.2,1.2 0 1,0 -2.4,0 M1199.02,309.64 a1.2,1.2 0 1,0 2.4,0 a1.2,1.2 0 1,0 -2.4,0 M1195.38,309.64 a1.2,1.2 0 1,0 2.4,0 a1.2,1.2 0 1,0 -2.4,0 M1194.08,306.05 a1.2,1.2 0 1,0 2.4,0 a1.2,1.2 0 1,0 -2.4,0 M1210.60,303.70 a1.2,1.2 0 1,0 2.4,0 a1.2,1.2 0 1,0 -2.4,0 M1213.72,306.05 a1.2,1.2 0 1,0 2.4,0 a1.2,1.2 0 1,0 -2.4,0 M1212.42,309.64 a1.2,1.2 0 1,0 2.4,0 a1.2,1.2 0 1,0 -2.4,0 M1208.78,309.64 a1.2,1.2 0 1,0 2.4,0 a1.2,1.2 0 1,0 -2.4,0 M1207.48,306.05 a1.2,1.2 0 1,0 2.4,0 a1.2,1.2 0 1,0 -2.4,0 M1224.00,303.70 a1.2,1.2 0 1,0 2.4,0 a1.2,1.2 0 1,0 -2.4,0 M1227.12,306.05 a1.2,1.2 0 1,0 2.4,0 a1.2,1.2 0 1,0 -2.4,0 M1225.82,309.64 a1.2,1.2 0 1,0 2.4,0 a1.2,1.2 0 1,0 -2.4,0 M1222.18,309.64 a1.2,1.2 0 1,0 2.4,0 a1.2,1.2 0 1,0 -2.4,0 M1220.88,306.05 a1.2,1.2 0 1,0 2.4,0 a1.2,1.2 0 1,0 -2.4,0" fill="#000"/>
<path d="M1243.50,306.95 L1243.50,303.95 M1243.50,306.95 L1246.38,306.12 M1243.50,306.95 L1245.18,309.44 M1243.50,306.95 L1241.82,309.44 M1243.50,306.95 L1240.62,306.12 M1256.90,306.95 L1256.90,303.95 M1256.90,306.95 L1259.78,306.12 M1256.90,306.95 L1258.58,309.44 M1256.90,306.95 L1255.22,309.44 M1256.90,306.95 L1254.02,306.12 M1270.30,306.95 L1270.30,303.95 M1270.30,306.95 L1273.18,306.12 M1270.30,306.95 L1271.98,309.44 M1270.30,306.95 L1268.62,309.44 M1270.30,306.95 L1267.42,306.12" fill="none" stroke="#000" stroke-width="1.1"/>
<path d="M1242.30,303.70 a1.2,1.2 0 1,0 2.4,0 a1.2,1.2 0 1,0 -2.4,0 M1245.42,306.05 a1.2,1.2 0 1,0 2.4,0 a1.2,1.2 0 1,0 -2.4,0 M1244.12,309.64 a1.2,1.2 0 1,0 2.4,0 a1.2,1.2 0 1,0 -2.4,0 M1240.48,309.64 a1.2,1.2 0 1,0 2.4,0 a1.2,1.2 0 1,0 -2.4,0 M1239.18,306.05 a1.2,1.2 0 1,0 2.4,0 a1.2,1.2 0 1,0 -2.4,0 M1255.70,303.70 a1.2,1.2 0 1,0 2.4,0 a1.2,1.2 0 1,0 -2.4,0 M1258.82,306.05 a1.2,1.2 0 1,0 2.4,0 a1.2,1.2 0 1,0 -2.4,0 M1257.52,309.64 a1.2,1.2 0 1,0 2.4,0 a1.2,1.2 0 1,0 -2.4,0 M1253.88,309.64 a1.2,1.2 0 1,0 2.4,0 a1.2,1.2 0 1,0 -2.4,0 M1252.58,306.05 a1.2,1.2 0 1,0 2.4,0 a1.2,1.2 0 1,0 -2.4,0 M1269.10,303.70 a1.2,1.2 0 1,0 2.4,0 a1.2,1.2 0 1,0 -2.4,0 M1272.22,306.05 a1.2,1.2 0 1,0 2.4,0 a1.2,1.2 0 1,0 -2.4,0 M1270.92,309.64 a1.2,1.2 0 1,0 2.4,0 a1.2,1.2 0 1,0 -2.4,0 M1267.28,309.64 a1.2,1.2 0 1,0 2.4,0 a1.2,1.2 0 1,0 -2.4,0 M1265.98,306.05 a1.2,1.2 0 1,0 2.4,0 a1.2,1.2 0 1,0 -2.4,0" fill="#000"/>
<path d="M1288.60,354.25 L1288.60,351.25 M1288.60,354.25 L1291.48,353.42 M1288.60,354.25 L1290.28,356.74 M1288.60,354.25 L1286.92,356.74 M1288.60,354.25 L1285.72,353.42 M1302.00,354.25 L1302.00,351.25 M1302.00,354.25 L1304.88,353.42 M1302.00,354.25 L1303.68,356.74 M1302.00,354.25 L1300.32,356.74 M1302.00,354.25 L1299.12,353.42 M1315.40,354.25 L1315.40,351.25 M1315.40,354.25 L1318.28,353.42 M1315.40,354.25 L1317.08,356.74 M1315.40,354.25 L1313.72,356.74 M1315.40,354.25 L1312.52,353.42" fill="none" stroke="#000" stroke-width="1.1"/>
<path d="M1287.40,351.00 a1.2,1.2 0 1,0 2.4,0 a1.2,1.2 0 1,0 -2.4,0 M1290.52,353.35 a1.2,1.2 0 1,0 2.4,0 a1.2,1.2 0 1,0 -2.4,0 M1289.22,356.94 a1.2,1.2 0 1,0 2.4,0 a1.2,1.2 0 1,0 -2.4,0 M1285.58,356.94 a1.2,1.2 0 1,0 2.4,0 a1.2,1.2 0 1,0 -2.4,0 M1284.28,353.35 a1.2,1.2 0 1,0 2.4,0 a1.2,1.2 0 1,0 -2.4,0 M1300.80,351.00 a1.2,1.2 0 1,0 2.4,0 a1.2,1.2 0 1,0 -2.4,0 M1303.92,353.35 a1.2,1.2 0 1,0 2.4,0 a1.2,1.2 0 1,0 -2.4,0 M1302.62,356.94 a1.2,1.2 0 1,0 2.4,0 a1.2,1.2 0 1,0 -2.4,0 M1298.98,356.94 a1.2,1.2 0 1,0 2.4,0 a1.2,1.2 0 1,0 -2.4,0 M1297.68,353.35 a1.2,1.2 0 1,0 2.4,0 a1.2,1.2 0 1,0 -2.4,0 M1314.20,351.00 a1.2,1.2 0 1,0 2.4,0 a1.2,1.2 0 1,0 -2.4,0 M1317.32,353.35 a1.2,1.2 0 1,0 2.4,0 a1.2,1.2 0 1,0 -2.4,0 M1316.02,356.94 a1.2,1.2 0 1,0 2.4,0 a1.2,1.2 0 1,0 -2.4,0 M1312.38,356.94 a1.2,1.2 0 1,0 2.4,0 a1.2,1.2 0 1,0 -2.4,0 M1311.08,353.35 a1.2,1.2 0 1,0 2.4,0 a1.2,1.2 0 1,0 -2.4,0" fill="#000"/>
<line x1="1349" y1="51.7" x2="1399.4" y2="51.7" stroke="#000" stroke-width="4.5"/>
<circle cx="1374.2" cy="52" r="9.8" fill="#000"/>
<text transform="translate(1426.5,63) scale(0.89,1)" font-family="'Liberation Serif', serif" font-size="35.7" font-weight="bold">CTR</text>
<line x1="1349" y1="110.7" x2="1399.4" y2="110.7" stroke="#FF0000" stroke-width="4.5"/>
<rect x="1364.6" y="101" width="19.6" height="19.6" fill="#FF0000"/>
<text transform="translate(1427,121.5) scale(0.94,1)" font-family="'Liberation Serif', serif" font-size="35.7" font-weight="bold">ISO</text>
<text transform="translate(847.1,298.4) rotate(-90)" x="0" y="0" font-family="'Liberation Serif', serif" font-size="39.2" font-weight="bold" text-anchor="middle">Change Rate of FPDc (%)</text>
<text x="1206.7" y="626" font-family="'Liberation Serif', serif" font-size="40.5" font-weight="bold" text-anchor="middle" >ISO lg(nM)</text>
<text x="765.7" y="768" font-family="'Liberation Sans', sans-serif" font-size="43" font-weight="bold" text-anchor="start" >D</text>
<line x1="927" y1="781.1" x2="927" y2="1257.6" stroke="#000" stroke-width="5"/>
<line x1="907.3" y1="783.7" x2="927" y2="783.7" stroke="#000" stroke-width="4.8"/>
<text x="901.5" y="795.7" font-family="'Liberation Serif', serif" font-size="36" font-weight="bold" text-anchor="end" >40</text>
<line x1="907.3" y1="878.0999999999999" x2="927" y2="878.0999999999999" stroke="#000" stroke-width="4.8"/>
<text x="901.5" y="890.0999999999999" font-family="'Liberation Serif', serif" font-size="36" font-weight="bold" text-anchor="end" >30</text>
<line x1="907.3" y1="972.5" x2="927" y2="972.5" stroke="#000" stroke-width="4.8"/>
<text x="901.5" y="984.5" font-family="'Liberation Serif', serif" font-size="36" font-weight="bold" text-anchor="end" >20</text>
<line x1="907.3" y1="1066.8999999999999" x2="927" y2="1066.8999999999999" stroke="#000" stroke-width="4.8"/>
<text x="901.5" y="1078.8999999999999" font-family="'Liberation Serif', serif" font-size="36" font-weight="bold" text-anchor="end" >10</text>
<line x1="907.3" y1="1255.7" x2="927" y2="1255.7" stroke="#000" stroke-width="4.8"/>
<text x="901.5" y="1267.7" font-family="'Liberation Serif', serif" font-size="36" font-weight="bold" text-anchor="end" >10</text>
<rect x="856.8" y="1257.9" width="9.6" height="3.3" fill="#000"/>
<line x1="879.2" y1="1161.3" x2="1357.5" y2="1161.3" stroke="#000" stroke-width="4.4"/>
<line x1="937.9" y1="878.0999999999999" x2="1352" y2="878.0999999999999" stroke="#000" stroke-width="4.4" stroke-linecap="round" stroke-dasharray="0 14.25"/>
<line x1="937.9" y1="1066.8999999999999" x2="1352" y2="1066.8999999999999" stroke="#000" stroke-width="4.4" stroke-linecap="round" stroke-dasharray="0 14.25"/>
<text x="1061.8999999999999" y="1216.7" font-family="'Liberation Serif', serif" font-size="35" font-weight="bold" text-anchor="middle" >0</text>
<text x="1152.0" y="1216.7" font-family="'Liberation Serif', serif" font-size="35" font-weight="bold" text-anchor="middle" >1</text>
<text x="1242.1" y="1216.7" font-family="'Liberation Serif', serif" font-size="35" font-weight="bold" text-anchor="middle" >2</text>
<text x="1332.1999999999998" y="1216.7" font-family="'Liberation Serif', serif" font-size="35" font-weight="bold" text-anchor="middle" >3</text>
<line x1="1061.9" y1="1163" x2="1061.9" y2="1180.5" stroke="#000" stroke-width="4.5"/>
<line x1="1152.0" y1="1169.5" x2="1152.0" y2="1180.5" stroke="#000" stroke-width="4.5"/>
<line x1="1242.1" y1="1170" x2="1242.1" y2="1180.5" stroke="#000" stroke-width="4.5"/>
<line x1="1332.2" y1="1170" x2="1332.2" y2="1180.5" stroke="#000" stroke-width="4.5"/>
<path d="M1007.6499999999999,1158.5 H1026.05 M1016.8499999999999,1158.5 V1172 M1007.6499999999999,1172 H1026.05" stroke="#0000FF" stroke-width="3" fill="none"/>
<path d="M1052.6999999999998,1170 H1071.1 M1061.8999999999999,1170 V1201.4 M1052.6999999999998,1201.4 H1071.1" stroke="#0000FF" stroke-width="3" fill="none"/>
<path d="M1097.7499999999998,1170 H1116.1499999999999 M1106.9499999999998,1170 V1229.4 M1097.7499999999998,1229.4 H1116.1499999999999" stroke="#0000FF" stroke-width="3" fill="none"/>
<path d="M1142.8,1107.6 H1161.2 M1152.0,1107.6 V1188.3 M1142.8,1188.3 H1161.2" stroke="#0000FF" stroke-width="3" fill="none"/>
<path d="M1187.85,1041 H1206.25 M1197.05,1041 V1114 M1187.85,1114 H1206.25" stroke="#0000FF" stroke-width="3" fill="none"/>
<path d="M1232.8999999999999,993.4 H1251.3 M1242.1,993.4 V1038.5 M1232.8999999999999,1038.5 H1251.3" stroke="#0000FF" stroke-width="3" fill="none"/>
<path d="M1277.9499999999998,846 H1296.35 M1287.1499999999999,846 V911.6 M1277.9499999999998,911.6 H1296.35" stroke="#0000FF" stroke-width="3" fill="none"/>
<polyline points="971.8,1163.6 1016.8,1170.5 1061.9,1189.4 1106.9,1203.4 1152.0,1151.6 1197.0,1080.7 1242.1,1020.4 1287.1,882" fill="none" stroke="#0000FF" stroke-width="5"/>
<path d="M971.8,1154.6 L981.3,1170.6 L962.3,1170.6 Z" fill="#0000FF"/>
<path d="M1016.8,1161.5 L1026.3,1177.5 L1007.3,1177.5 Z" fill="#0000FF"/>
<path d="M1061.9,1180.4 L1071.4,1196.4 L1052.4,1196.4 Z" fill="#0000FF"/>
<path d="M1106.9,1194.4 L1116.4,1210.4 L1097.4,1210.4 Z" fill="#0000FF"/>
<path d="M1152.0,1142.6 L1161.5,1158.6 L1142.5,1158.6 Z" fill="#0000FF"/>
<path d="M1197.0,1071.7 L1206.5,1087.7 L1187.5,1087.7 Z" fill="#0000FF"/>
<path d="M1242.1,1011.4 L1251.6,1027.4 L1232.6,1027.4 Z" fill="#0000FF"/>
<path d="M1287.1,873 L1296.6,889 L1277.6,889 Z" fill="#0000FF"/>
<polyline points="971.8,1162.2 1016.8,1167.8 1061.9,1163 1106.9,1169.8 1152.0,1169.5 1197.0,1170 1242.1,1170 1287.1,1172.7 1332.2,1170" fill="none" stroke="#000" stroke-width="5"/>
<circle cx="971.8" cy="1162.2" r="9.3" fill="#000"/>
<circle cx="1016.8" cy="1167.8" r="9.3" fill="#000"/>
<circle cx="1061.9" cy="1163" r="9.3" fill="#000"/>
<circle cx="1106.9" cy="1169.8" r="9.3" fill="#000"/>
<circle cx="1152.0" cy="1169.5" r="9.3" fill="#000"/>
<circle cx="1197.0" cy="1170" r="9.3" fill="#000"/>
<circle cx="1242.1" cy="1170" r="9.3" fill="#000"/>
<circle cx="1287.1" cy="1172.7" r="9.3" fill="#000"/>
<circle cx="1332.2" cy="1170" r="9.3" fill="#000"/>
<path d="M1138.60,1094.75 L1138.60,1091.75 M1138.60,1094.75 L1141.48,1093.92 M1138.60,1094.75 L1140.28,1097.24 M1138.60,1094.75 L1136.92,1097.24 M1138.60,1094.75 L1135.72,1093.92 M1152.00,1094.75 L1152.00,1091.75 M1152.00,1094.75 L1154.88,1093.92 M1152.00,1094.75 L1153.68,1097.24 M1152.00,1094.75 L1150.32,1097.24 M1152.00,1094.75 L1149.12,1093.92 M1165.40,1094.75 L1165.40,1091.75 M1165.40,1094.75 L1168.28,1093.92 M1165.40,1094.75 L1167.08,1097.24 M1165.40,1094.75 L1163.72,1097.24 M1165.40,1094.75 L1162.52,1093.92" fill="none" stroke="#000" stroke-width="1.1"/>
<path d="M1137.40,1091.50 a1.2,1.2 0 1,0 2.4,0 a1.2,1.2 0 1,0 -2.4,0 M1140.52,1093.85 a1.2,1.2 0 1,0 2.4,0 a1.2,1.2 0 1,0 -2.4,0 M1139.22,1097.44 a1.2,1.2 0 1,0 2.4,0 a1.2,1.2 0 1,0 -2.4,0 M1135.58,1097.44 a1.2,1.2 0 1,0 2.4,0 a1.2,1.2 0 1,0 -2.4,0 M1134.28,1093.85 a1.2,1.2 0 1,0 2.4,0 a1.2,1.2 0 1,0 -2.4,0 M1150.80,1091.50 a1.2,1.2 0 1,0 2.4,0 a1.2,1.2 0 1,0 -2.4,0 M1153.92,1093.85 a1.2,1.2 0 1,0 2.4,0 a1.2,1.2 0 1,0 -2.4,0 M1152.62,1097.44 a1.2,1.2 0 1,0 2.4,0 a1.2,1.2 0 1,0 -2.4,0 M1148.98,1097.44 a1.2,1.2 0 1,0 2.4,0 a1.2,1.2 0 1,0 -2.4,0 M1147.68,1093.85 a1.2,1.2 0 1,0 2.4,0 a1.2,1.2 0 1,0 -2.4,0 M1164.20,1091.50 a1.2,1.2 0 1,0 2.4,0 a1.2,1.2 0 1,0 -2.4,0 M1167.32,1093.85 a1.2,1.2 0 1,0 2.4,0 a1.2,1.2 0 1,0 -2.4,0 M1166.02,1097.44 a1.2,1.2 0 1,0 2.4,0 a1.2,1.2 0 1,0 -2.4,0 M1162.38,1097.44 a1.2,1.2 0 1,0 2.4,0 a1.2,1.2 0 1,0 -2.4,0 M1161.08,1093.85 a1.2,1.2 0 1,0 2.4,0 a1.2,1.2 0 1,0 -2.4,0" fill="#000"/>
<path d="M1183.65,1028.05 L1183.65,1025.05 M1183.65,1028.05 L1186.53,1027.22 M1183.65,1028.05 L1185.33,1030.54 M1183.65,1028.05 L1181.97,1030.54 M1183.65,1028.05 L1180.77,1027.22 M1197.05,1028.05 L1197.05,1025.05 M1197.05,1028.05 L1199.93,1027.22 M1197.05,1028.05 L1198.73,1030.54 M1197.05,1028.05 L1195.37,1030.54 M1197.05,1028.05 L1194.17,1027.22 M1210.45,1028.05 L1210.45,1025.05 M1210.45,1028.05 L1213.33,1027.22 M1210.45,1028.05 L1212.13,1030.54 M1210.45,1028.05 L1208.77,1030.54 M1210.45,1028.05 L1207.57,1027.22" fill="none" stroke="#000" stroke-width="1.1"/>
<path d="M1182.45,1024.80 a1.2,1.2 0 1,0 2.4,0 a1.2,1.2 0 1,0 -2.4,0 M1185.57,1027.15 a1.2,1.2 0 1,0 2.4,0 a1.2,1.2 0 1,0 -2.4,0 M1184.27,1030.74 a1.2,1.2 0 1,0 2.4,0 a1.2,1.2 0 1,0 -2.4,0 M1180.63,1030.74 a1.2,1.2 0 1,0 2.4,0 a1.2,1.2 0 1,0 -2.4,0 M1179.33,1027.15 a1.2,1.2 0 1,0 2.4,0 a1.2,1.2 0 1,0 -2.4,0 M1195.85,1024.80 a1.2,1.2 0 1,0 2.4,0 a1.2,1.2 0 1,0 -2.4,0 M1198.97,1027.15 a1.2,1.2 0 1,0 2.4,0 a1.2,1.2 0 1,0 -2.4,0 M1197.67,1030.74 a1.2,1.2 0 1,0 2.4,0 a1.2,1.2 0 1,0 -2.4,0 M1194.03,1030.74 a1.2,1.2 0 1,0 2.4,0 a1.2,1.2 0 1,0 -2.4,0 M1192.73,1027.15 a1.2,1.2 0 1,0 2.4,0 a1.2,1.2 0 1,0 -2.4,0 M1209.25,1024.80 a1.2,1.2 0 1,0 2.4,0 a1.2,1.2 0 1,0 -2.4,0 M1212.37,1027.15 a1.2,1.2 0 1,0 2.4,0 a1.2,1.2 0 1,0 -2.4,0 M1211.07,1030.74 a1.2,1.2 0 1,0 2.4,0 a1.2,1.2 0 1,0 -2.4,0 M1207.43,1030.74 a1.2,1.2 0 1,0 2.4,0 a1.2,1.2 0 1,0 -2.4,0 M1206.13,1027.15 a1.2,1.2 0 1,0 2.4,0 a1.2,1.2 0 1,0 -2.4,0" fill="#000"/>
<path d="M1228.70,980.55 L1228.70,977.55 M1228.70,980.55 L1231.58,979.72 M1228.70,980.55 L1230.38,983.04 M1228.70,980.55 L1227.02,983.04 M1228.70,980.55 L1225.82,979.72 M1242.10,980.55 L1242.10,977.55 M1242.10,980.55 L1244.98,979.72 M1242.10,980.55 L1243.78,983.04 M1242.10,980.55 L1240.42,983.04 M1242.10,980.55 L1239.22,979.72 M1255.50,980.55 L1255.50,977.55 M1255.50,980.55 L1258.38,979.72 M1255.50,980.55 L1257.18,983.04 M1255.50,980.55 L1253.82,983.04 M1255.50,980.55 L1252.62,979.72" fill="none" stroke="#000" stroke-width="1.1"/>
<path d="M1227.50,977.30 a1.2,1.2 0 1,0 2.4,0 a1.2,1.2 0 1,0 -2.4,0 M1230.62,979.65 a1.2,1.2 0 1,0 2.4,0 a1.2,1.2 0 1,0 -2.4,0 M1229.32,983.24 a1.2,1.2 0 1,0 2.4,0 a1.2,1.2 0 1,0 -2.4,0 M1225.68,983.24 a1.2,1.2 0 1,0 2.4,0 a1.2,1.2 0 1,0 -2.4,0 M1224.38,979.65 a1.2,1.2 0 1,0 2.4,0 a1.2,1.2 0 1,0 -2.4,0 M1240.90,977.30 a1.2,1.2 0 1,0 2.4,0 a1.2,1.2 0 1,0 -2.4,0 M1244.02,979.65 a1.2,1.2 0 1,0 2.4,0 a1.2,1.2 0 1,0 -2.4,0 M1242.72,983.24 a1.2,1.2 0 1,0 2.4,0 a1.2,1.2 0 1,0 -2.4,0 M1239.08,983.24 a1.2,1.2 0 1,0 2.4,0 a1.2,1.2 0 1,0 -2.4,0 M1237.78,979.65 a1.2,1.2 0 1,0 2.4,0 a1.2,1.2 0 1,0 -2.4,0 M1254.30,977.30 a1.2,1.2 0 1,0 2.4,0 a1.2,1.2 0 1,0 -2.4,0 M1257.42,979.65 a1.2,1.2 0 1,0 2.4,0 a1.2,1.2 0 1,0 -2.4,0 M1256.12,983.24 a1.2,1.2 0 1,0 2.4,0 a1.2,1.2 0 1,0 -2.4,0 M1252.48,983.24 a1.2,1.2 0 1,0 2.4,0 a1.2,1.2 0 1,0 -2.4,0 M1251.18,979.65 a1.2,1.2 0 1,0 2.4,0 a1.2,1.2 0 1,0 -2.4,0" fill="#000"/>
<path d="M1273.75,833.05 L1273.75,830.05 M1273.75,833.05 L1276.63,832.22 M1273.75,833.05 L1275.43,835.54 M1273.75,833.05 L1272.07,835.54 M1273.75,833.05 L1270.87,832.22 M1287.15,833.05 L1287.15,830.05 M1287.15,833.05 L1290.03,832.22 M1287.15,833.05 L1288.83,835.54 M1287.15,833.05 L1285.47,835.54 M1287.15,833.05 L1284.27,832.22 M1300.55,833.05 L1300.55,830.05 M1300.55,833.05 L1303.43,832.22 M1300.55,833.05 L1302.23,835.54 M1300.55,833.05 L1298.87,835.54 M1300.55,833.05 L1297.67,832.22" fill="none" stroke="#000" stroke-width="1.1"/>
<path d="M1272.55,829.80 a1.2,1.2 0 1,0 2.4,0 a1.2,1.2 0 1,0 -2.4,0 M1275.67,832.15 a1.2,1.2 0 1,0 2.4,0 a1.2,1.2 0 1,0 -2.4,0 M1274.37,835.74 a1.2,1.2 0 1,0 2.4,0 a1.2,1.2 0 1,0 -2.4,0 M1270.73,835.74 a1.2,1.2 0 1,0 2.4,0 a1.2,1.2 0 1,0 -2.4,0 M1269.43,832.15 a1.2,1.2 0 1,0 2.4,0 a1.2,1.2 0 1,0 -2.4,0 M1285.95,829.80 a1.2,1.2 0 1,0 2.4,0 a1.2,1.2 0 1,0 -2.4,0 M1289.07,832.15 a1.2,1.2 0 1,0 2.4,0 a1.2,1.2 0 1,0 -2.4,0 M1287.77,835.74 a1.2,1.2 0 1,0 2.4,0 a1.2,1.2 0 1,0 -2.4,0 M1284.13,835.74 a1.2,1.2 0 1,0 2.4,0 a1.2,1.2 0 1,0 -2.4,0 M1282.83,832.15 a1.2,1.2 0 1,0 2.4,0 a1.2,1.2 0 1,0 -2.4,0 M1299.35,829.80 a1.2,1.2 0 1,0 2.4,0 a1.2,1.2 0 1,0 -2.4,0 M1302.47,832.15 a1.2,1.2 0 1,0 2.4,0 a1.2,1.2 0 1,0 -2.4,0 M1301.17,835.74 a1.2,1.2 0 1,0 2.4,0 a1.2,1.2 0 1,0 -2.4,0 M1297.53,835.74 a1.2,1.2 0 1,0 2.4,0 a1.2,1.2 0 1,0 -2.4,0 M1296.23,832.15 a1.2,1.2 0 1,0 2.4,0 a1.2,1.2 0 1,0 -2.4,0" fill="#000"/>
<line x1="1327.1" y1="781" x2="1377.8" y2="781" stroke="#000" stroke-width="4.5"/>
<circle cx="1352.4" cy="781.7" r="9.4" fill="#000"/>
<text transform="translate(1404.6,792.2) scale(0.89,1)" font-family="'Liberation Serif', serif" font-size="35.7" font-weight="bold">CTR</text>
<line x1="1327.1" y1="840.6" x2="1377.8" y2="840.6" stroke="#0000FF" stroke-width="4.5"/>
<path d="M1352.4,831 L1362,850.3 L1342.7,850.3 Z" fill="#0000FF"/>
<text transform="translate(1404.3,851) scale(0.86,1)" font-family="'Liberation Serif', serif" font-size="35.7" font-weight="bold">SYN</text>
<text transform="translate(833.7,1021) rotate(-90)" x="0" y="0" font-family="'Liberation Serif', serif" font-size="39.2" font-weight="bold" text-anchor="middle">Change Rate of FPDc (%)</text>
<text x="1085" y="1376" font-family="'Liberation Serif', serif" font-size="40" font-weight="bold" xml:space="preserve">SYN  lg(&#956;M</text>
<path d="M1296.3,1345 C1308.5,1351 1311,1371 1296.3,1377.2 L1296.8,1375.6 C1306,1368 1305.5,1353 1296.8,1346.6 Z" fill="#000"/>
</svg></body></html>
